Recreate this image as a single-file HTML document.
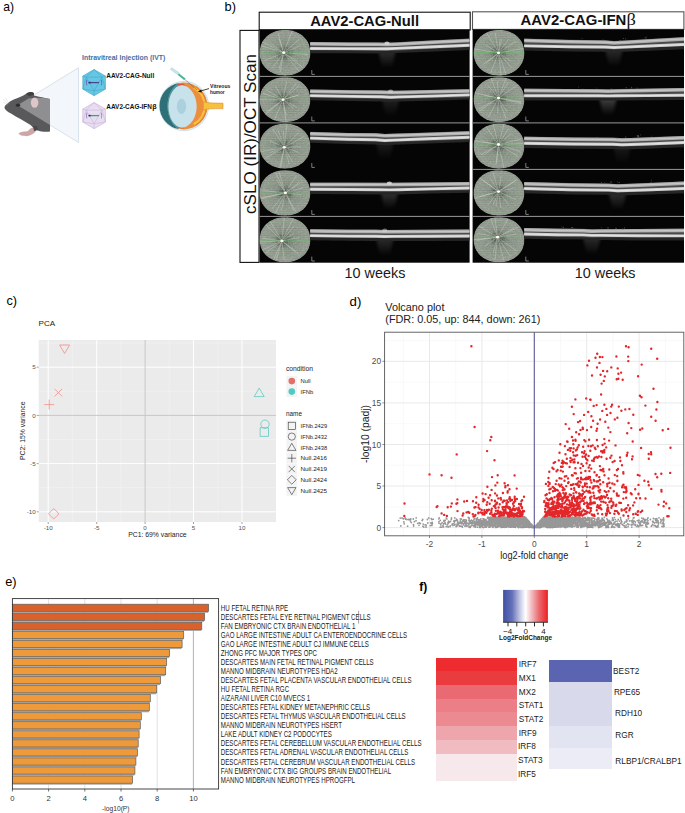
<!DOCTYPE html>
<html><head><meta charset="utf-8"><style>html,body{margin:0;padding:0;background:#fff;width:685px;height:813px;overflow:hidden}svg{display:block}</style></head>
<body><svg width="685" height="813" viewBox="0 0 685 813" font-family="Liberation Sans, sans-serif"><text x="3.2" y="11.1" font-size="13.5" textLength="10.8" lengthAdjust="spacingAndGlyphs" fill="#000">a)</text>
<text x="224.6" y="10.8" font-size="13.5" textLength="11.4" lengthAdjust="spacingAndGlyphs" fill="#000">b)</text>
<text x="6.4" y="304.6" font-size="13.5" textLength="10.6" lengthAdjust="spacingAndGlyphs" fill="#000">c)</text>
<text x="349.6" y="306.3" font-size="13.5" textLength="11.8" lengthAdjust="spacingAndGlyphs" fill="#000">d)</text>
<text x="5.2" y="586.2" font-size="13.5" textLength="11.4" lengthAdjust="spacingAndGlyphs" fill="#000">e)</text>
<text x="419.2" y="591.4" font-size="13" font-weight="bold" textLength="8" lengthAdjust="spacingAndGlyphs" fill="#000">f)</text>
<polygon points="17.5,105.2 78.6,67.6 78.6,142.6" fill="#f3f6fa" stroke="#c3d0dd" stroke-width="0.6"/>
<path d="M4.4,107.4 C5.5,103.5 12,100 20,97 C24,95.2 27,93 30,92.4 C33,92 34.5,93.5 34,95.6 C39,97 45,98 50,99 L50,131.6 C46,132.2 41,131.8 37,130.2 C34.5,129 32.5,127 30.5,125 C25,121.5 17,117.5 11,113.6 C7.5,111.6 5,110 4.4,107.4 Z" fill="#59585b"/>
<path d="M17.5,105.2 L28.5,98.4 C36,97.2 44,98 50,99 L50,124.9 Z" fill="#8f8f92"/>
<ellipse cx="18" cy="105.2" rx="2.2" ry="1.6" fill="#2d2c2e"/>
<ellipse cx="34.6" cy="102.6" rx="3.8" ry="5.2" fill="#dcc6c9"/>
<path d="M26,94 C28,91.8 32,91.5 34,93 C34.5,94.5 32,95.5 29,96 Z" fill="#3f3e41"/>
<path d="M18.5,133.2 C20,131.8 24,131.6 27.5,131.2 L30.5,128.6 L33.5,127.2 L36.8,128.8 L35.5,131.8 C33.5,133.8 30.5,135.6 27,136.2 L24,135.8 C22,135.9 19.5,135.2 18.5,133.2 Z" fill="#cda6a8"/>
<path d="M33,126 L37,126 L38,130 L34,131 Z" fill="#48474a"/>
<path d="M3.5,99 L8,104 M5.5,98 L9,103.5 M3,102 L7.5,105" stroke="#cfcfcf" stroke-width="0.4"/>
<polygon points="94.1,69.5 105.4,76.0 105.4,89.1 94.1,95.7 82.8,89.1 82.8,76.0" fill="#65c7e3" stroke="#49acd0" stroke-width="0.7"/>
<path d="M94.1 69.5L86.2 77.1M94.1 69.5L102.0 77.1M86.2 77.1L102.0 77.1M82.8 76.0L86.2 77.1M105.4 76.0L102.0 77.1M86.2 77.1L94.1 90.7M102.0 77.1L94.1 90.7M86.2 77.1L82.8 89.1M102.0 77.1L105.4 89.1M94.1 90.7L94.1 95.7M94.1 90.7L82.8 89.1M94.1 90.7L105.4 89.1" stroke="#3e9cc0" stroke-width="0.45" fill="none"/>
<path d="M86.9 79.8q-1 2.8 0 5.6M101.3 79.8q1 2.8 0 5.6" stroke="#6a70b8" stroke-width="1.1" fill="none"/>
<line x1="88.6" y1="82.6" x2="99.1" y2="82.6" stroke="#4b4596" stroke-width="1.3"/>
<line x1="88.6" y1="82.6" x2="90.6" y2="82.6" stroke="#2a2f70" stroke-width="1.5"/>
<polygon points="94.1,102.5 105.4,109.0 105.4,122.1 94.1,128.7 82.8,122.1 82.8,109.0" fill="#e9ddf0" stroke="#cdb9e0" stroke-width="0.7"/>
<path d="M94.1 102.5L86.2 110.1M94.1 102.5L102.0 110.1M86.2 110.1L102.0 110.1M82.8 109.0L86.2 110.1M105.4 109.0L102.0 110.1M86.2 110.1L94.1 123.7M102.0 110.1L94.1 123.7M86.2 110.1L82.8 122.1M102.0 110.1L105.4 122.1M94.1 123.7L94.1 128.7M94.1 123.7L82.8 122.1M94.1 123.7L105.4 122.1" stroke="#bda8d6" stroke-width="0.45" fill="none"/>
<path d="M86.9 112.8q-1 2.8 0 5.6M101.3 112.8q1 2.8 0 5.6" stroke="#a08cc8" stroke-width="1.1" fill="none"/>
<line x1="88.6" y1="115.6" x2="99.1" y2="115.6" stroke="#3a9f98" stroke-width="1.3"/>
<line x1="88.6" y1="115.6" x2="90.6" y2="115.6" stroke="#222a58" stroke-width="1.5"/>
<text x="82.0" y="60.1" font-size="7.4" font-weight="bold" fill="#46709f" textLength="83.4" lengthAdjust="spacingAndGlyphs">Intravitreal Injection (IVT)</text>
<text x="106.3" y="78.0" font-size="6.7" font-weight="bold" textLength="47.9" lengthAdjust="spacingAndGlyphs" fill="#111">AAV2-CAG-Null</text>
<text x="106.3" y="108.6" font-size="6.7" font-weight="bold" textLength="45.6" lengthAdjust="spacingAndGlyphs" fill="#111">AAV2-CAG-IFN</text>
<text x="152.2" y="108.6" font-size="7.2" font-family="Liberation Sans, sans-serif" font-weight="bold" fill="#111">&#946;</text>
<circle cx="184" cy="106" r="24.7" fill="#dcedf3" stroke="#b8d6e0" stroke-width="0.6"/>
<circle cx="184" cy="106" r="23.4" fill="#ec8e3c"/>
<path d="M193.7,87.8 A20.6,20.6 0 0 1 193.7,124.2" stroke="#f6c23c" stroke-width="2.2" fill="none"/>
<path d="M196.0,86.8 A22.6,22.6 0 0 1 196.0,125.2" stroke="#e6703a" stroke-width="0.7" fill="none"/>
<path d="M179.2,82.9 A23.4,23.4 0 0 0 179.2,129.1 C172,125 167.6,116 167.5,106 C167.6,96 172,87 179.2,82.9 Z" fill="#2e6f78"/>
<path d="M177.5,85 C171.5,89.5 168.6,97 168.5,106 C168.6,115 171.5,122.5 177.5,127" stroke="#4b979d" stroke-width="2.2" fill="none"/>
<path d="M177,84.2 L183,83.4 L186.5,86.6 L181,88.6 Z" fill="#e14f3d"/>
<path d="M177,127.8 L183,128.6 L186.5,125.4 L181,123.4 Z" fill="#e14f3d"/>
<path d="M182,85.1 C190,86 196.5,95 196.7,106.4 C196.5,118 190,127 182,127.7 C174,127 168.6,118 168.4,106.4 C168.6,95 174,86 182,85.1 Z" fill="#c8e2ec"/>
<ellipse cx="181.5" cy="106.3" rx="4.7" ry="7.6" fill="#abd0de"/>
<path d="M203.5,101.6 C207,103 212,103.2 223,103.2 L223,108.6 C212,108.6 207,108.8 203.5,110.2 Z" fill="#f5c23c" stroke="#e8903a" stroke-width="0.7"/>
<path d="M171.6,67.6 L179.5,73 L178,75 L170.5,69.5 Z" fill="#c9e6ef" stroke="#9cc6d6" stroke-width="0.4"/>
<path d="M179,73.4 L185.5,78.6 L184.3,80.3 L177.8,75 Z" fill="#4cb59a"/>
<line x1="185" y1="79.5" x2="197" y2="90" stroke="#555" stroke-width="0.5"/>
<line x1="209" y1="88.6" x2="200" y2="91.2" stroke="#111" stroke-width="0.8"/>
<path d="M197.8,91.8 L201.2,89.4 L201.8,92.6 Z" fill="#111"/>
<text x="210.1" y="87.6" font-size="5.0" font-weight="bold" textLength="20.3" lengthAdjust="spacingAndGlyphs" fill="#222">Vitreous</text>
<text x="210.1" y="94.0" font-size="5.0" font-weight="bold" textLength="14.6" lengthAdjust="spacingAndGlyphs" fill="#222">humor</text>
<defs>
<filter id="blur07" x="-5%" y="-50%" width="110%" height="200%"><feGaussianBlur stdDeviation="0.75"/></filter>
<filter id="blur06" x="-5%" y="-50%" width="110%" height="200%"><feGaussianBlur stdDeviation="0.55"/></filter>
<filter id="fnoise" x="0" y="0" width="100%" height="100%" filterUnits="objectBoundingBox"><feTurbulence type="fractalNoise" baseFrequency="0.6" numOctaves="2" seed="5" result="t"/><feColorMatrix type="matrix" values="0 0 0 0 0.5  0 0 0 0 0.5  0 0 0 0 0.5  1.6 0 0 0 -0.55"/></filter>
<filter id="blur15" x="-50%" y="-50%" width="200%" height="200%"><feGaussianBlur stdDeviation="1.6"/></filter>
<filter id="blur1" x="-50%" y="-50%" width="200%" height="200%"><feGaussianBlur stdDeviation="1.2"/></filter>
<filter id="blur3" x="-50%" y="-50%" width="200%" height="200%"><feGaussianBlur stdDeviation="3"/></filter>
<radialGradient id="fund" cx="50%" cy="50%" r="55%">
 <stop offset="0" stop-color="#5f695d"/><stop offset="0.35" stop-color="#859083"/><stop offset="0.8" stop-color="#949e91"/><stop offset="1" stop-color="#858d82"/>
</radialGradient>
<linearGradient id="glowv" x1="0" y1="0" x2="0" y2="1"><stop offset="0" stop-color="#5a5a5a"/><stop offset="1" stop-color="#5a5a5a" stop-opacity="0"/></linearGradient>
<radialGradient id="glow" cx="50%" cy="30%" r="60%">
 <stop offset="0" stop-color="#9a9a9a" stop-opacity="0.9"/><stop offset="1" stop-color="#9a9a9a" stop-opacity="0"/>
</radialGradient>
</defs>
<rect x="259.2" y="12.2" width="211.0" height="17.8" fill="#fff" stroke="#111" stroke-width="1.1"/>
<rect x="472.5" y="11.8" width="211.4" height="17.6" fill="#fff" stroke="#555" stroke-width="1.1"/>
<text x="310.2" y="26.0" font-size="14" font-weight="bold" textLength="108.8" lengthAdjust="spacingAndGlyphs" fill="#111">AAV2-CAG-Null</text>
<text x="520.6" y="24.9" font-size="14" font-weight="bold" textLength="105.8" lengthAdjust="spacingAndGlyphs" fill="#111">AAV2-CAG-IFN</text>
<text x="626.6" y="24.9" font-size="16" font-family="Liberation Serif, serif" fill="#111" textLength="9.4" lengthAdjust="spacingAndGlyphs">&#946;</text>
<rect x="240.0" y="30.4" width="19.0" height="232.0" fill="#fff" stroke="#111" stroke-width="1.1"/>
<text transform="translate(255.9,213.9) rotate(-90)" font-size="17.2" fill="#111" textLength="159.8" lengthAdjust="spacingAndGlyphs">cSLO (IR)/OCT Scan</text>
<rect x="259.6" y="29.4" width="210.0" height="233.3" fill="#050505"/>
<clipPath id="fc00"><path d="M310.4 52.8 L310.3 55.4 L309.9 57.7 L309.4 59.9 L308.6 62.1 L307.6 64.1 L306.3 66.0 L304.9 67.7 L303.3 69.3 L301.5 70.8 L299.6 72.0 L297.5 73.1 L295.3 74.1 L292.9 74.8 L290.4 75.3 L287.8 75.6 L285.0 75.7 L282.2 75.6 L279.6 75.3 L277.1 74.8 L274.7 74.1 L272.5 73.1 L270.4 72.0 L268.5 70.8 L266.7 69.3 L265.1 67.7 L263.7 66.0 L262.4 64.1 L261.4 62.1 L260.6 59.9 L260.1 57.7 L259.7 55.4 L259.6 52.8 L259.7 50.2 L260.1 47.9 L260.6 45.7 L261.4 43.5 L262.4 41.5 L263.7 39.6 L265.1 37.9 L266.7 36.3 L268.5 34.8 L270.4 33.6 L272.5 32.5 L274.7 31.5 L277.1 30.8 L279.6 30.3 L282.2 30.0 L285.0 29.9 L287.8 30.0 L290.4 30.3 L292.9 30.8 L295.3 31.5 L297.5 32.5 L299.6 33.6 L301.5 34.8 L303.3 36.3 L304.9 37.9 L306.3 39.6 L307.6 41.5 L308.6 43.5 L309.4 45.7 L309.9 47.9 L310.3 50.2Z"/></clipPath>
<g clip-path="url(#fc00)"><g>
<path d="M310.4 52.8 L310.3 55.4 L309.9 57.7 L309.4 59.9 L308.6 62.1 L307.6 64.1 L306.3 66.0 L304.9 67.7 L303.3 69.3 L301.5 70.8 L299.6 72.0 L297.5 73.1 L295.3 74.1 L292.9 74.8 L290.4 75.3 L287.8 75.6 L285.0 75.7 L282.2 75.6 L279.6 75.3 L277.1 74.8 L274.7 74.1 L272.5 73.1 L270.4 72.0 L268.5 70.8 L266.7 69.3 L265.1 67.7 L263.7 66.0 L262.4 64.1 L261.4 62.1 L260.6 59.9 L260.1 57.7 L259.7 55.4 L259.6 52.8 L259.7 50.2 L260.1 47.9 L260.6 45.7 L261.4 43.5 L262.4 41.5 L263.7 39.6 L265.1 37.9 L266.7 36.3 L268.5 34.8 L270.4 33.6 L272.5 32.5 L274.7 31.5 L277.1 30.8 L279.6 30.3 L282.2 30.0 L285.0 29.9 L287.8 30.0 L290.4 30.3 L292.9 30.8 L295.3 31.5 L297.5 32.5 L299.6 33.6 L301.5 34.8 L303.3 36.3 L304.9 37.9 L306.3 39.6 L307.6 41.5 L308.6 43.5 L309.4 45.7 L309.9 47.9 L310.3 50.2Z" fill="url(#fund)"/>
<ellipse cx="283.7" cy="52.7" rx="7" ry="6" fill="#3e463c" opacity="0.45" filter="url(#blur15)"/>
<path d="M285.7 52.8L308.4 54.6M285.4 53.8L297.9 61.5M285.3 53.9L303.0 67.8M285.0 54.2L298.9 71.1M283.3 54.7L280.2 72.0M283.2 54.6L279.0 69.4M282.5 54.3L272.2 68.2M281.9 53.5L264.6 60.5M281.8 52.1L261.2 45.8M281.9 51.8L260.6 41.1M282.1 51.5L270.7 43.5M283.1 50.8L279.1 38.9M283.1 50.8L278.2 33.3M284.4 50.8L292.8 29.4M285.2 51.4L299.0 39.6M285.5 51.9L299.4 46.2" stroke="#f4f8f0" stroke-width="0.55" opacity="0.6" fill="none"/>
<path d="M259.3 30.8H310.7M259.3 35.4H310.7M259.3 40.0H310.7M259.3 44.6H310.7M259.3 49.2H310.7M259.3 53.8H310.7M259.3 58.4H310.7M259.3 63.0H310.7M259.3 67.6H310.7M259.3 72.2H310.7" stroke="#74d474" stroke-width="0.5" opacity="0.3"/>
<path d="M259.3 31.9H310.7M259.3 36.5H310.7M259.3 41.1H310.7M259.3 45.7H310.7M259.3 50.3H310.7M259.3 54.9H310.7M259.3 59.5H310.7M259.3 64.1H310.7M259.3 68.7H310.7M259.3 73.4H310.7" stroke="#3a3a3a" stroke-width="0.5" opacity="0.2"/>
<path d="M259.3 33.1H310.7M259.3 37.7H310.7M259.3 42.3H310.7M259.3 46.9H310.7M259.3 51.5H310.7M259.3 56.1H310.7M259.3 60.7H310.7M259.3 65.3H310.7M259.3 69.9H310.7M259.3 74.5H310.7" stroke="#d49cae" stroke-width="0.5" opacity="0.22"/>
<path d="M259.3 34.2H310.7M259.3 38.8H310.7M259.3 43.4H310.7M259.3 48.0H310.7M259.3 52.6H310.7M259.3 57.2H310.7M259.3 61.8H310.7M259.3 66.4H310.7M259.3 71.0H310.7M259.3 75.7H310.7" stroke="#3a3a3a" stroke-width="0.5" opacity="0.2"/>
<line x1="259.3" y1="52.7" x2="310.7" y2="52.7" stroke="#4ed24e" stroke-width="0.8" opacity="0.45"/>
<rect x="259.0" y="29.6" width="52" height="46.4" filter="url(#fnoise)" opacity="0.5"/>
<ellipse cx="283.7" cy="52.7" rx="1.7" ry="1.4" fill="#fbfbf0"/>
</g></g>
<path d="M378.0 49.3H396.0L392.0 67.8H382.0Z" fill="url(#glowv)" opacity="0.55" filter="url(#blur15)"/>
<g filter="url(#blur07)" fill="none" stroke-linejoin="round">
<path d="M310.2 48.5 L348.6 48.6 L378.0 48.7 L387.0 48.8 L396.0 48.4 L428.2 47.0 L469.5 45.2" stroke="#262626" stroke-width="5" transform="translate(0,2.2)"/>
<path d="M310.2 43.8 L348.6 44.2 L378.0 44.3 L387.0 44.6 L396.0 44.2 L428.2 42.5 L469.5 40.5" stroke="#4a4a4a" stroke-width="8.4" transform="translate(0,2.3)"/>
<path d="M310.2 43.8 L348.6 44.2 L378.0 44.3 L387.0 44.6 L396.0 44.2 L428.2 42.5 L469.5 40.5" stroke="#acacac" stroke-width="3.5"/>
<path d="M310.2 43.8 L348.6 44.2 L378.0 44.3 L387.0 44.6 L396.0 44.2 L428.2 42.5 L469.5 40.5" stroke="#c6c6c6" stroke-width="1.3"/>
<path d="M310.2 48.5 L348.6 48.6 L378.0 48.7 L387.0 48.8 L396.0 48.4 L428.2 47.0 L469.5 45.2" stroke="#cecece" stroke-width="2.9"/>
<path d="M310.2 48.5 L348.6 48.6 L378.0 48.7 L387.0 48.8 L396.0 48.4 L428.2 47.0 L469.5 45.2" stroke="#e2e2e2" stroke-width="1.1"/>
</g>
<ellipse cx="387.0" cy="43.0" rx="2.6" ry="1.6" fill="#e0e0e0" opacity="0.80" filter="url(#blur06)"/>
<path d="M311.8 70.0V74.4h3" stroke="#b0b0b0" stroke-width="0.7" fill="none"/>
<clipPath id="fc01"><path d="M310.4 99.7 L310.3 102.2 L309.9 104.5 L309.4 106.7 L308.6 108.8 L307.6 110.8 L306.3 112.6 L304.9 114.3 L303.3 115.9 L301.5 117.3 L299.6 118.6 L297.5 119.7 L295.3 120.6 L292.9 121.3 L290.4 121.8 L287.8 122.1 L285.0 122.2 L282.2 122.1 L279.6 121.8 L277.1 121.3 L274.7 120.6 L272.5 119.7 L270.4 118.6 L268.5 117.3 L266.7 115.9 L265.1 114.3 L263.7 112.6 L262.4 110.8 L261.4 108.8 L260.6 106.7 L260.1 104.5 L259.7 102.2 L259.6 99.7 L259.7 97.2 L260.1 94.9 L260.6 92.7 L261.4 90.6 L262.4 88.6 L263.7 86.8 L265.1 85.1 L266.7 83.5 L268.5 82.1 L270.4 80.8 L272.5 79.7 L274.7 78.8 L277.1 78.1 L279.6 77.6 L282.2 77.3 L285.0 77.2 L287.8 77.3 L290.4 77.6 L292.9 78.1 L295.3 78.8 L297.5 79.7 L299.6 80.8 L301.5 82.1 L303.3 83.5 L304.9 85.1 L306.3 86.8 L307.6 88.6 L308.6 90.6 L309.4 92.7 L309.9 94.9 L310.3 97.2Z"/></clipPath>
<g clip-path="url(#fc01)"><g>
<path d="M310.4 99.7 L310.3 102.2 L309.9 104.5 L309.4 106.7 L308.6 108.8 L307.6 110.8 L306.3 112.6 L304.9 114.3 L303.3 115.9 L301.5 117.3 L299.6 118.6 L297.5 119.7 L295.3 120.6 L292.9 121.3 L290.4 121.8 L287.8 122.1 L285.0 122.2 L282.2 122.1 L279.6 121.8 L277.1 121.3 L274.7 120.6 L272.5 119.7 L270.4 118.6 L268.5 117.3 L266.7 115.9 L265.1 114.3 L263.7 112.6 L262.4 110.8 L261.4 108.8 L260.6 106.7 L260.1 104.5 L259.7 102.2 L259.6 99.7 L259.7 97.2 L260.1 94.9 L260.6 92.7 L261.4 90.6 L262.4 88.6 L263.7 86.8 L265.1 85.1 L266.7 83.5 L268.5 82.1 L270.4 80.8 L272.5 79.7 L274.7 78.8 L277.1 78.1 L279.6 77.6 L282.2 77.3 L285.0 77.2 L287.8 77.3 L290.4 77.6 L292.9 78.1 L295.3 78.8 L297.5 79.7 L299.6 80.8 L301.5 82.1 L303.3 83.5 L304.9 85.1 L306.3 86.8 L307.6 88.6 L308.6 90.6 L309.4 92.7 L309.9 94.9 L310.3 97.2Z" fill="url(#fund)"/>
<ellipse cx="283.0" cy="99.7" rx="7" ry="6" fill="#3e463c" opacity="0.45" filter="url(#blur15)"/>
<path d="M284.9 99.1L298.6 95.0M284.7 100.7L297.3 107.7M284.5 101.0L293.7 108.8M283.4 101.7L286.1 115.3M283.3 101.7L286.4 124.0M282.2 101.5L273.6 122.0M281.5 101.0L265.5 114.5M281.4 100.9L266.5 111.9M281.0 99.7L258.5 99.6M281.1 99.1L262.8 93.3M281.3 98.7L266.8 90.4M282.0 97.9L275.4 85.8M283.4 97.7L286.5 81.5M284.3 98.1L296.3 83.3M284.5 98.4L299.2 85.4M284.9 99.1L298.2 95.2" stroke="#f4f8f0" stroke-width="0.55" opacity="0.6" fill="none"/>
<path d="M259.3 78.1H310.7M259.3 82.7H310.7M259.3 87.3H310.7M259.3 91.9H310.7M259.3 96.5H310.7M259.3 101.1H310.7M259.3 105.7H310.7M259.3 110.3H310.7M259.3 114.9H310.7M259.3 119.5H310.7" stroke="#74d474" stroke-width="0.5" opacity="0.3"/>
<path d="M259.3 79.3H310.7M259.3 83.9H310.7M259.3 88.5H310.7M259.3 93.1H310.7M259.3 97.7H310.7M259.3 102.3H310.7M259.3 106.9H310.7M259.3 111.5H310.7M259.3 116.1H310.7M259.3 120.7H310.7" stroke="#3a3a3a" stroke-width="0.5" opacity="0.2"/>
<path d="M259.3 80.4H310.7M259.3 85.0H310.7M259.3 89.6H310.7M259.3 94.2H310.7M259.3 98.8H310.7M259.3 103.4H310.7M259.3 108.0H310.7M259.3 112.6H310.7M259.3 117.2H310.7M259.3 121.8H310.7" stroke="#d49cae" stroke-width="0.5" opacity="0.22"/>
<path d="M259.3 81.6H310.7M259.3 86.2H310.7M259.3 90.8H310.7M259.3 95.4H310.7M259.3 100.0H310.7M259.3 104.6H310.7M259.3 109.2H310.7M259.3 113.8H310.7M259.3 118.4H310.7" stroke="#3a3a3a" stroke-width="0.5" opacity="0.2"/>
<line x1="259.3" y1="99.7" x2="310.7" y2="99.7" stroke="#4ed24e" stroke-width="0.8" opacity="0.4"/>
<rect x="259.0" y="76.9" width="52" height="45.6" filter="url(#fnoise)" opacity="0.5"/>
<ellipse cx="283.0" cy="99.7" rx="1.7" ry="1.4" fill="#fbfbf0"/>
</g></g>
<path d="M381.6 97.7H399.6L395.6 116.2H385.6Z" fill="url(#glowv)" opacity="0.35" filter="url(#blur15)"/>
<g filter="url(#blur07)" fill="none" stroke-linejoin="round">
<path d="M310.2 95.6 L350.4 96.4 L381.6 96.7 L390.6 97.2 L399.6 96.9 L430.1 96.1 L469.5 94.9" stroke="#262626" stroke-width="5" transform="translate(0,2.2)"/>
<path d="M310.2 91.3 L350.4 91.9 L381.6 92.2 L390.6 92.6 L399.6 92.4 L430.1 91.8 L469.5 90.9" stroke="#4a4a4a" stroke-width="8.4" transform="translate(0,2.3)"/>
<path d="M310.2 91.3 L350.4 91.9 L381.6 92.2 L390.6 92.6 L399.6 92.4 L430.1 91.8 L469.5 90.9" stroke="#acacac" stroke-width="3.5"/>
<path d="M310.2 91.3 L350.4 91.9 L381.6 92.2 L390.6 92.6 L399.6 92.4 L430.1 91.8 L469.5 90.9" stroke="#c6c6c6" stroke-width="1.3"/>
<path d="M310.2 95.6 L350.4 96.4 L381.6 96.7 L390.6 97.2 L399.6 96.9 L430.1 96.1 L469.5 94.9" stroke="#cecece" stroke-width="2.9"/>
<path d="M310.2 95.6 L350.4 96.4 L381.6 96.7 L390.6 97.2 L399.6 96.9 L430.1 96.1 L469.5 94.9" stroke="#e2e2e2" stroke-width="1.1"/>
</g>
<ellipse cx="390.6" cy="91.0" rx="2.6" ry="1.6" fill="#e0e0e0" opacity="0.56" filter="url(#blur06)"/>
<path d="M311.8 116.5V120.9h3" stroke="#b0b0b0" stroke-width="0.7" fill="none"/>
<clipPath id="fc02"><path d="M310.4 146.2 L310.3 148.7 L309.9 151.0 L309.4 153.2 L308.6 155.3 L307.6 157.2 L306.3 159.1 L304.9 160.8 L303.3 162.4 L301.5 163.8 L299.6 165.1 L297.5 166.2 L295.3 167.1 L292.9 167.8 L290.4 168.3 L287.8 168.6 L285.0 168.7 L282.2 168.6 L279.6 168.3 L277.1 167.8 L274.7 167.1 L272.5 166.2 L270.4 165.1 L268.5 163.8 L266.7 162.4 L265.1 160.8 L263.7 159.1 L262.4 157.2 L261.4 155.3 L260.6 153.2 L260.1 151.0 L259.7 148.7 L259.6 146.2 L259.7 143.6 L260.1 141.3 L260.6 139.1 L261.4 137.0 L262.4 135.1 L263.7 133.2 L265.1 131.5 L266.7 129.9 L268.5 128.5 L270.4 127.2 L272.5 126.1 L274.7 125.2 L277.1 124.5 L279.6 124.0 L282.2 123.7 L285.0 123.6 L287.8 123.7 L290.4 124.0 L292.9 124.5 L295.3 125.2 L297.5 126.1 L299.6 127.2 L301.5 128.5 L303.3 129.9 L304.9 131.5 L306.3 133.2 L307.6 135.1 L308.6 137.0 L309.4 139.1 L309.9 141.3 L310.3 143.6Z"/></clipPath>
<g clip-path="url(#fc02)"><g>
<path d="M310.4 146.2 L310.3 148.7 L309.9 151.0 L309.4 153.2 L308.6 155.3 L307.6 157.2 L306.3 159.1 L304.9 160.8 L303.3 162.4 L301.5 163.8 L299.6 165.1 L297.5 166.2 L295.3 167.1 L292.9 167.8 L290.4 168.3 L287.8 168.6 L285.0 168.7 L282.2 168.6 L279.6 168.3 L277.1 167.8 L274.7 167.1 L272.5 166.2 L270.4 165.1 L268.5 163.8 L266.7 162.4 L265.1 160.8 L263.7 159.1 L262.4 157.2 L261.4 155.3 L260.6 153.2 L260.1 151.0 L259.7 148.7 L259.6 146.2 L259.7 143.6 L260.1 141.3 L260.6 139.1 L261.4 137.0 L262.4 135.1 L263.7 133.2 L265.1 131.5 L266.7 129.9 L268.5 128.5 L270.4 127.2 L272.5 126.1 L274.7 125.2 L277.1 124.5 L279.6 124.0 L282.2 123.7 L285.0 123.6 L287.8 123.7 L290.4 124.0 L292.9 124.5 L295.3 125.2 L297.5 126.1 L299.6 127.2 L301.5 128.5 L303.3 129.9 L304.9 131.5 L306.3 133.2 L307.6 135.1 L308.6 137.0 L309.4 139.1 L309.9 141.3 L310.3 143.6Z" fill="url(#fund)"/>
<ellipse cx="284.3" cy="147.3" rx="7" ry="6" fill="#3e463c" opacity="0.45" filter="url(#blur15)"/>
<path d="M286.3 147.2L301.2 146.7M286.2 148.0L298.6 152.3M285.3 149.1L292.3 161.8M284.9 149.2L289.3 164.2M283.9 149.2L279.4 168.7M284.0 149.3L280.2 171.1M282.6 148.3L262.7 159.6M282.4 148.0L269.5 152.7M282.3 147.7L259.6 151.9M282.5 146.5L269.6 140.6M283.2 145.6L272.9 128.9M283.6 145.4L277.9 129.9M284.2 145.3L283.4 130.5M284.5 145.3L287.1 122.9M285.7 145.9L298.6 132.5M286.1 146.3L304.5 136.3" stroke="#f4f8f0" stroke-width="0.55" opacity="0.6" fill="none"/>
<path d="M259.3 124.5H310.7M259.3 129.1H310.7M259.3 133.7H310.7M259.3 138.3H310.7M259.3 142.9H310.7M259.3 147.5H310.7M259.3 152.1H310.7M259.3 156.7H310.7M259.3 161.3H310.7M259.3 165.9H310.7" stroke="#74d474" stroke-width="0.5" opacity="0.3"/>
<path d="M259.3 125.7H310.7M259.3 130.3H310.7M259.3 134.9H310.7M259.3 139.5H310.7M259.3 144.1H310.7M259.3 148.7H310.7M259.3 153.3H310.7M259.3 157.9H310.7M259.3 162.5H310.7M259.3 167.1H310.7" stroke="#3a3a3a" stroke-width="0.5" opacity="0.2"/>
<path d="M259.3 126.8H310.7M259.3 131.4H310.7M259.3 136.0H310.7M259.3 140.6H310.7M259.3 145.2H310.7M259.3 149.8H310.7M259.3 154.4H310.7M259.3 159.0H310.7M259.3 163.6H310.7M259.3 168.2H310.7" stroke="#d49cae" stroke-width="0.5" opacity="0.22"/>
<path d="M259.3 128.0H310.7M259.3 132.6H310.7M259.3 137.2H310.7M259.3 141.8H310.7M259.3 146.4H310.7M259.3 151.0H310.7M259.3 155.6H310.7M259.3 160.2H310.7M259.3 164.8H310.7" stroke="#3a3a3a" stroke-width="0.5" opacity="0.2"/>
<line x1="259.3" y1="147.3" x2="310.7" y2="147.3" stroke="#4ed24e" stroke-width="0.8" opacity="0.55"/>
<rect x="259.0" y="123.3" width="52" height="45.7" filter="url(#fnoise)" opacity="0.5"/>
<ellipse cx="284.3" cy="147.3" rx="1.7" ry="1.4" fill="#fbfbf0"/>
</g></g>
<path d="M375.8 141.0H393.8L389.8 159.5H379.8Z" fill="url(#glowv)" opacity="0.3" filter="url(#blur15)"/>
<g filter="url(#blur07)" fill="none" stroke-linejoin="round">
<path d="M310.2 138.1 L347.5 139.3 L375.8 139.7 L384.8 140.5 L393.8 140.1 L427.1 138.8 L469.5 137.2" stroke="#262626" stroke-width="5" transform="translate(0,2.2)"/>
<path d="M310.2 133.7 L347.5 134.8 L375.8 135.1 L384.8 135.8 L393.8 135.5 L427.1 134.4 L469.5 133.0" stroke="#4a4a4a" stroke-width="8.4" transform="translate(0,2.3)"/>
<path d="M310.2 133.7 L347.5 134.8 L375.8 135.1 L384.8 135.8 L393.8 135.5 L427.1 134.4 L469.5 133.0" stroke="#acacac" stroke-width="3.5"/>
<path d="M310.2 133.7 L347.5 134.8 L375.8 135.1 L384.8 135.8 L393.8 135.5 L427.1 134.4 L469.5 133.0" stroke="#c6c6c6" stroke-width="1.3"/>
<path d="M310.2 138.1 L347.5 139.3 L375.8 139.7 L384.8 140.5 L393.8 140.1 L427.1 138.8 L469.5 137.2" stroke="#cecece" stroke-width="2.9"/>
<path d="M310.2 138.1 L347.5 139.3 L375.8 139.7 L384.8 140.5 L393.8 140.1 L427.1 138.8 L469.5 137.2" stroke="#e2e2e2" stroke-width="1.1"/>
</g>
<path d="M311.8 163.0V167.4h3" stroke="#b0b0b0" stroke-width="0.7" fill="none"/>
<clipPath id="fc03"><path d="M310.4 192.9 L310.3 195.5 L309.9 197.8 L309.4 200.0 L308.6 202.1 L307.6 204.1 L306.3 206.0 L304.9 207.8 L303.3 209.4 L301.5 210.8 L299.6 212.1 L297.5 213.2 L295.3 214.1 L292.9 214.8 L290.4 215.3 L287.8 215.6 L285.0 215.7 L282.2 215.6 L279.6 215.3 L277.1 214.8 L274.7 214.1 L272.5 213.2 L270.4 212.1 L268.5 210.8 L266.7 209.4 L265.1 207.8 L263.7 206.0 L262.4 204.1 L261.4 202.1 L260.6 200.0 L260.1 197.8 L259.7 195.5 L259.6 193.0 L259.7 190.4 L260.1 188.1 L260.6 185.9 L261.4 183.8 L262.4 181.8 L263.7 179.9 L265.1 178.1 L266.7 176.5 L268.5 175.1 L270.4 173.8 L272.5 172.7 L274.7 171.8 L277.1 171.1 L279.6 170.6 L282.2 170.3 L285.0 170.2 L287.8 170.3 L290.4 170.6 L292.9 171.1 L295.3 171.8 L297.5 172.7 L299.6 173.8 L301.5 175.1 L303.3 176.5 L304.9 178.1 L306.3 179.9 L307.6 181.8 L308.6 183.8 L309.4 185.9 L309.9 188.1 L310.3 190.4Z"/></clipPath>
<g clip-path="url(#fc03)"><g>
<path d="M310.4 192.9 L310.3 195.5 L309.9 197.8 L309.4 200.0 L308.6 202.1 L307.6 204.1 L306.3 206.0 L304.9 207.8 L303.3 209.4 L301.5 210.8 L299.6 212.1 L297.5 213.2 L295.3 214.1 L292.9 214.8 L290.4 215.3 L287.8 215.6 L285.0 215.7 L282.2 215.6 L279.6 215.3 L277.1 214.8 L274.7 214.1 L272.5 213.2 L270.4 212.1 L268.5 210.8 L266.7 209.4 L265.1 207.8 L263.7 206.0 L262.4 204.1 L261.4 202.1 L260.6 200.0 L260.1 197.8 L259.7 195.5 L259.6 193.0 L259.7 190.4 L260.1 188.1 L260.6 185.9 L261.4 183.8 L262.4 181.8 L263.7 179.9 L265.1 178.1 L266.7 176.5 L268.5 175.1 L270.4 173.8 L272.5 172.7 L274.7 171.8 L277.1 171.1 L279.6 170.6 L282.2 170.3 L285.0 170.2 L287.8 170.3 L290.4 170.6 L292.9 171.1 L295.3 171.8 L297.5 172.7 L299.6 173.8 L301.5 175.1 L303.3 176.5 L304.9 178.1 L306.3 179.9 L307.6 181.8 L308.6 183.8 L309.4 185.9 L309.9 188.1 L310.3 190.4Z" fill="url(#fund)"/>
<ellipse cx="285.4" cy="192.8" rx="7" ry="6" fill="#3e463c" opacity="0.45" filter="url(#blur15)"/>
<path d="M287.3 192.2L303.1 187.6M287.4 193.0L300.8 194.5M286.4 194.6L296.0 212.0M286.2 194.6L294.0 211.2M285.0 194.8L281.4 210.5M284.5 194.6L275.8 212.8M284.1 194.3L272.4 208.3M283.5 193.3L261.2 198.6M283.4 193.2L260.7 198.0M283.4 192.6L262.5 190.6M284.3 191.1L276.6 179.9M284.5 191.0L275.2 171.3M284.8 190.9L279.2 172.2M286.5 191.1L296.3 175.8M287.0 191.6L298.7 182.7M287.1 191.7L300.8 182.8" stroke="#f4f8f0" stroke-width="0.55" opacity="0.6" fill="none"/>
<path d="M259.3 171.1H310.7M259.3 175.7H310.7M259.3 180.3H310.7M259.3 184.9H310.7M259.3 189.5H310.7M259.3 194.1H310.7M259.3 198.7H310.7M259.3 203.3H310.7M259.3 207.9H310.7M259.3 212.5H310.7" stroke="#74d474" stroke-width="0.5" opacity="0.3"/>
<path d="M259.3 172.2H310.7M259.3 176.9H310.7M259.3 181.5H310.7M259.3 186.1H310.7M259.3 190.7H310.7M259.3 195.3H310.7M259.3 199.9H310.7M259.3 204.5H310.7M259.3 209.1H310.7M259.3 213.7H310.7" stroke="#3a3a3a" stroke-width="0.5" opacity="0.2"/>
<path d="M259.3 173.4H310.7M259.3 178.0H310.7M259.3 182.6H310.7M259.3 187.2H310.7M259.3 191.8H310.7M259.3 196.4H310.7M259.3 201.0H310.7M259.3 205.6H310.7M259.3 210.2H310.7M259.3 214.8H310.7" stroke="#d49cae" stroke-width="0.5" opacity="0.22"/>
<path d="M259.3 174.6H310.7M259.3 179.2H310.7M259.3 183.8H310.7M259.3 188.4H310.7M259.3 193.0H310.7M259.3 197.6H310.7M259.3 202.2H310.7M259.3 206.8H310.7M259.3 211.4H310.7M259.3 216.0H310.7" stroke="#3a3a3a" stroke-width="0.5" opacity="0.2"/>
<line x1="259.3" y1="192.8" x2="310.7" y2="192.8" stroke="#4ed24e" stroke-width="0.8" opacity="0.3"/>
<rect x="259.0" y="169.9" width="52" height="46.1" filter="url(#fnoise)" opacity="0.5"/>
<ellipse cx="285.4" cy="192.8" rx="1.7" ry="1.4" fill="#fbfbf0"/>
</g></g>
<path d="M380.4 190.4H398.4L394.4 208.9H384.4Z" fill="url(#glowv)" opacity="0.6" filter="url(#blur15)"/>
<g filter="url(#blur07)" fill="none" stroke-linejoin="round">
<path d="M310.2 189.2 L349.8 189.5 L380.4 189.7 L389.4 189.9 L398.4 189.7 L429.4 188.9 L469.5 188.0" stroke="#262626" stroke-width="5" transform="translate(0,2.2)"/>
<path d="M310.2 184.5 L349.8 184.5 L380.4 184.6 L389.4 184.6 L398.4 184.5 L429.4 184.2 L469.5 183.8" stroke="#4a4a4a" stroke-width="8.4" transform="translate(0,2.3)"/>
<path d="M310.2 184.5 L349.8 184.5 L380.4 184.6 L389.4 184.6 L398.4 184.5 L429.4 184.2 L469.5 183.8" stroke="#acacac" stroke-width="3.5"/>
<path d="M310.2 184.5 L349.8 184.5 L380.4 184.6 L389.4 184.6 L398.4 184.5 L429.4 184.2 L469.5 183.8" stroke="#c6c6c6" stroke-width="1.3"/>
<path d="M310.2 189.2 L349.8 189.5 L380.4 189.7 L389.4 189.9 L398.4 189.7 L429.4 188.9 L469.5 188.0" stroke="#cecece" stroke-width="2.9"/>
<path d="M310.2 189.2 L349.8 189.5 L380.4 189.7 L389.4 189.9 L398.4 189.7 L429.4 188.9 L469.5 188.0" stroke="#e2e2e2" stroke-width="1.1"/>
</g>
<ellipse cx="389.4" cy="183.0" rx="2.6" ry="1.6" fill="#e0e0e0" opacity="0.80" filter="url(#blur06)"/>
<path d="M311.8 210.0V214.4h3" stroke="#b0b0b0" stroke-width="0.7" fill="none"/>
<clipPath id="fc04"><path d="M310.4 239.8 L310.3 242.3 L309.9 244.6 L309.4 246.8 L308.6 248.9 L307.6 250.8 L306.3 252.7 L304.9 254.4 L303.3 256.0 L301.5 257.4 L299.6 258.7 L297.5 259.8 L295.3 260.7 L292.9 261.4 L290.4 261.9 L287.8 262.2 L285.0 262.3 L282.2 262.2 L279.6 261.9 L277.1 261.4 L274.7 260.7 L272.5 259.8 L270.4 258.7 L268.5 257.4 L266.7 256.0 L265.1 254.4 L263.7 252.7 L262.4 250.8 L261.4 248.9 L260.6 246.8 L260.1 244.6 L259.7 242.3 L259.6 239.8 L259.7 237.2 L260.1 234.9 L260.6 232.7 L261.4 230.6 L262.4 228.7 L263.7 226.8 L265.1 225.1 L266.7 223.5 L268.5 222.1 L270.4 220.8 L272.5 219.7 L274.7 218.8 L277.1 218.1 L279.6 217.6 L282.2 217.3 L285.0 217.2 L287.8 217.3 L290.4 217.6 L292.9 218.1 L295.3 218.8 L297.5 219.7 L299.6 220.8 L301.5 222.1 L303.3 223.5 L304.9 225.1 L306.3 226.8 L307.6 228.7 L308.6 230.6 L309.4 232.7 L309.9 234.9 L310.3 237.2Z"/></clipPath>
<g clip-path="url(#fc04)"><g>
<path d="M310.4 239.8 L310.3 242.3 L309.9 244.6 L309.4 246.8 L308.6 248.9 L307.6 250.8 L306.3 252.7 L304.9 254.4 L303.3 256.0 L301.5 257.4 L299.6 258.7 L297.5 259.8 L295.3 260.7 L292.9 261.4 L290.4 261.9 L287.8 262.2 L285.0 262.3 L282.2 262.2 L279.6 261.9 L277.1 261.4 L274.7 260.7 L272.5 259.8 L270.4 258.7 L268.5 257.4 L266.7 256.0 L265.1 254.4 L263.7 252.7 L262.4 250.8 L261.4 248.9 L260.6 246.8 L260.1 244.6 L259.7 242.3 L259.6 239.8 L259.7 237.2 L260.1 234.9 L260.6 232.7 L261.4 230.6 L262.4 228.7 L263.7 226.8 L265.1 225.1 L266.7 223.5 L268.5 222.1 L270.4 220.8 L272.5 219.7 L274.7 218.8 L277.1 218.1 L279.6 217.6 L282.2 217.3 L285.0 217.2 L287.8 217.3 L290.4 217.6 L292.9 218.1 L295.3 218.8 L297.5 219.7 L299.6 220.8 L301.5 222.1 L303.3 223.5 L304.9 225.1 L306.3 226.8 L307.6 228.7 L308.6 230.6 L309.4 232.7 L309.9 234.9 L310.3 237.2Z" fill="url(#fund)"/>
<ellipse cx="281.9" cy="240.9" rx="7" ry="6" fill="#3e463c" opacity="0.45" filter="url(#blur15)"/>
<path d="M283.9 240.5L299.7 237.4M283.5 242.1L298.4 253.7M283.4 242.2L295.2 251.9M282.1 242.9L284.2 260.1M281.3 242.8L276.2 260.3M281.1 242.7L272.1 263.7M280.3 242.1L265.1 253.4M280.1 241.7L259.7 251.3M279.9 241.0L256.9 242.2M279.9 240.6L262.9 238.3M280.5 239.5L264.1 222.7M280.9 239.2L269.7 220.6M282.1 238.9L284.3 218.4M282.8 239.1L293.5 218.0M283.2 239.4L293.8 226.4M283.6 239.8L294.2 233.0" stroke="#f4f8f0" stroke-width="0.55" opacity="0.6" fill="none"/>
<path d="M259.3 218.1H310.7M259.3 222.7H310.7M259.3 227.3H310.7M259.3 231.9H310.7M259.3 236.5H310.7M259.3 241.1H310.7M259.3 245.7H310.7M259.3 250.3H310.7M259.3 254.9H310.7M259.3 259.5H310.7" stroke="#74d474" stroke-width="0.5" opacity="0.3"/>
<path d="M259.3 219.2H310.7M259.3 223.9H310.7M259.3 228.5H310.7M259.3 233.1H310.7M259.3 237.7H310.7M259.3 242.3H310.7M259.3 246.9H310.7M259.3 251.5H310.7M259.3 256.1H310.7M259.3 260.7H310.7" stroke="#3a3a3a" stroke-width="0.5" opacity="0.2"/>
<path d="M259.3 220.4H310.7M259.3 225.0H310.7M259.3 229.6H310.7M259.3 234.2H310.7M259.3 238.8H310.7M259.3 243.4H310.7M259.3 248.0H310.7M259.3 252.6H310.7M259.3 257.2H310.7M259.3 261.8H310.7" stroke="#d49cae" stroke-width="0.5" opacity="0.22"/>
<path d="M259.3 221.6H310.7M259.3 226.2H310.7M259.3 230.8H310.7M259.3 235.4H310.7M259.3 240.0H310.7M259.3 244.6H310.7M259.3 249.2H310.7M259.3 253.8H310.7M259.3 258.4H310.7" stroke="#3a3a3a" stroke-width="0.5" opacity="0.2"/>
<line x1="259.3" y1="240.9" x2="310.7" y2="240.9" stroke="#4ed24e" stroke-width="0.8" opacity="0.6"/>
<rect x="259.0" y="216.9" width="52" height="45.7" filter="url(#fnoise)" opacity="0.5"/>
<ellipse cx="281.9" cy="240.9" rx="1.7" ry="1.4" fill="#fbfbf0"/>
</g></g>
<path d="M375.8 237.0H393.8L389.8 255.5H379.8Z" fill="url(#glowv)" opacity="0.5" filter="url(#blur15)"/>
<g filter="url(#blur07)" fill="none" stroke-linejoin="round">
<path d="M310.2 235.6 L347.5 236.1 L375.8 236.2 L384.8 236.5 L393.8 236.4 L427.1 236.2 L469.5 236.0" stroke="#262626" stroke-width="5" transform="translate(0,2.2)"/>
<path d="M310.2 230.9 L347.5 231.4 L375.8 231.5 L384.8 231.8 L393.8 231.7 L427.1 231.6 L469.5 231.3" stroke="#4a4a4a" stroke-width="8.4" transform="translate(0,2.3)"/>
<path d="M310.2 230.9 L347.5 231.4 L375.8 231.5 L384.8 231.8 L393.8 231.7 L427.1 231.6 L469.5 231.3" stroke="#acacac" stroke-width="3.5"/>
<path d="M310.2 230.9 L347.5 231.4 L375.8 231.5 L384.8 231.8 L393.8 231.7 L427.1 231.6 L469.5 231.3" stroke="#c6c6c6" stroke-width="1.3"/>
<path d="M310.2 235.6 L347.5 236.1 L375.8 236.2 L384.8 236.5 L393.8 236.4 L427.1 236.2 L469.5 236.0" stroke="#cecece" stroke-width="2.9"/>
<path d="M310.2 235.6 L347.5 236.1 L375.8 236.2 L384.8 236.5 L393.8 236.4 L427.1 236.2 L469.5 236.0" stroke="#e2e2e2" stroke-width="1.1"/>
</g>
<ellipse cx="384.8" cy="230.2" rx="2.6" ry="1.6" fill="#e0e0e0" opacity="0.48" filter="url(#blur06)"/>
<path d="M311.8 256.6V261.0h3" stroke="#b0b0b0" stroke-width="0.7" fill="none"/>
<line x1="259.6" y1="76.4" x2="469.6" y2="76.4" stroke="#9a9a9a" stroke-width="1"/>
<line x1="259.6" y1="122.9" x2="469.6" y2="122.9" stroke="#9a9a9a" stroke-width="1"/>
<line x1="259.6" y1="216.4" x2="469.6" y2="216.4" stroke="#9a9a9a" stroke-width="1"/>
<rect x="472.6" y="29.4" width="211.4" height="233.3" fill="#050505"/>
<clipPath id="fc10"><path d="M524.4 52.8 L524.3 55.4 L523.9 57.7 L523.4 59.9 L522.6 62.1 L521.6 64.1 L520.3 66.0 L518.9 67.7 L517.3 69.3 L515.5 70.8 L513.6 72.0 L511.5 73.1 L509.3 74.1 L506.9 74.8 L504.4 75.3 L501.8 75.6 L499.0 75.7 L496.2 75.6 L493.6 75.3 L491.1 74.8 L488.7 74.1 L486.5 73.1 L484.4 72.0 L482.5 70.8 L480.7 69.3 L479.1 67.7 L477.7 66.0 L476.4 64.1 L475.4 62.1 L474.6 59.9 L474.1 57.7 L473.7 55.4 L473.6 52.8 L473.7 50.2 L474.1 47.9 L474.6 45.7 L475.4 43.5 L476.4 41.5 L477.7 39.6 L479.1 37.9 L480.7 36.3 L482.5 34.8 L484.4 33.6 L486.5 32.5 L488.7 31.5 L491.1 30.8 L493.6 30.3 L496.2 30.0 L499.0 29.9 L501.8 30.0 L504.4 30.3 L506.9 30.8 L509.3 31.5 L511.5 32.5 L513.6 33.6 L515.5 34.8 L517.3 36.3 L518.9 37.9 L520.3 39.6 L521.6 41.5 L522.6 43.5 L523.4 45.7 L523.9 47.9 L524.3 50.2Z"/></clipPath>
<g clip-path="url(#fc10)"><g>
<path d="M524.4 52.8 L524.3 55.4 L523.9 57.7 L523.4 59.9 L522.6 62.1 L521.6 64.1 L520.3 66.0 L518.9 67.7 L517.3 69.3 L515.5 70.8 L513.6 72.0 L511.5 73.1 L509.3 74.1 L506.9 74.8 L504.4 75.3 L501.8 75.6 L499.0 75.7 L496.2 75.6 L493.6 75.3 L491.1 74.8 L488.7 74.1 L486.5 73.1 L484.4 72.0 L482.5 70.8 L480.7 69.3 L479.1 67.7 L477.7 66.0 L476.4 64.1 L475.4 62.1 L474.6 59.9 L474.1 57.7 L473.7 55.4 L473.6 52.8 L473.7 50.2 L474.1 47.9 L474.6 45.7 L475.4 43.5 L476.4 41.5 L477.7 39.6 L479.1 37.9 L480.7 36.3 L482.5 34.8 L484.4 33.6 L486.5 32.5 L488.7 31.5 L491.1 30.8 L493.6 30.3 L496.2 30.0 L499.0 29.9 L501.8 30.0 L504.4 30.3 L506.9 30.8 L509.3 31.5 L511.5 32.5 L513.6 33.6 L515.5 34.8 L517.3 36.3 L518.9 37.9 L520.3 39.6 L521.6 41.5 L522.6 43.5 L523.4 45.7 L523.9 47.9 L524.3 50.2Z" fill="url(#fund)"/>
<ellipse cx="498.5" cy="52.8" rx="7" ry="6" fill="#3e463c" opacity="0.45" filter="url(#blur15)"/>
<path d="M500.5 52.5L523.1 48.5M500.2 53.9L511.2 61.4M499.8 54.3L511.6 67.6M499.2 54.7L505.7 73.5M498.7 54.8L501.5 78.2M497.8 54.7L490.7 72.9M497.0 54.1L486.1 63.3M496.9 54.0L483.5 64.3M496.5 52.5L475.0 49.0M496.8 51.8L485.3 45.0M497.5 51.1L486.4 32.5M498.2 50.8L495.1 32.8M499.0 50.9L502.1 38.7M498.7 50.8L500.1 38.6M499.7 51.2L508.6 39.1M500.2 51.7L515.9 41.4" stroke="#f4f8f0" stroke-width="0.55" opacity="0.6" fill="none"/>
<path d="M473.3 30.8H524.7M473.3 35.4H524.7M473.3 40.0H524.7M473.3 44.6H524.7M473.3 49.2H524.7M473.3 53.8H524.7M473.3 58.4H524.7M473.3 63.0H524.7M473.3 67.6H524.7M473.3 72.2H524.7" stroke="#74d474" stroke-width="0.5" opacity="0.3"/>
<path d="M473.3 31.9H524.7M473.3 36.5H524.7M473.3 41.1H524.7M473.3 45.7H524.7M473.3 50.3H524.7M473.3 54.9H524.7M473.3 59.5H524.7M473.3 64.1H524.7M473.3 68.7H524.7M473.3 73.4H524.7" stroke="#3a3a3a" stroke-width="0.5" opacity="0.2"/>
<path d="M473.3 33.1H524.7M473.3 37.7H524.7M473.3 42.3H524.7M473.3 46.9H524.7M473.3 51.5H524.7M473.3 56.1H524.7M473.3 60.7H524.7M473.3 65.3H524.7M473.3 69.9H524.7M473.3 74.5H524.7" stroke="#d49cae" stroke-width="0.5" opacity="0.22"/>
<path d="M473.3 34.2H524.7M473.3 38.8H524.7M473.3 43.4H524.7M473.3 48.0H524.7M473.3 52.6H524.7M473.3 57.2H524.7M473.3 61.8H524.7M473.3 66.4H524.7M473.3 71.0H524.7M473.3 75.7H524.7" stroke="#3a3a3a" stroke-width="0.5" opacity="0.2"/>
<line x1="473.3" y1="52.8" x2="524.7" y2="52.8" stroke="#4ed24e" stroke-width="0.8" opacity="0.8"/>
<rect x="473.0" y="29.6" width="52" height="46.4" filter="url(#fnoise)" opacity="0.5"/>
<ellipse cx="498.5" cy="52.8" rx="1.7" ry="1.4" fill="#fbfbf0"/>
</g></g>
<path d="M605.0 48.0H623.0L619.0 66.5H609.0Z" fill="url(#glowv)" opacity="0.5" filter="url(#blur15)"/>
<g filter="url(#blur07)" fill="none" stroke-linejoin="round">
<path d="M524.2 45.9 L569.1 46.7 L605.0 47.0 L614.0 47.5 L623.0 47.1 L649.0 46.0 L684.0 44.5" stroke="#262626" stroke-width="5" transform="translate(0,2.2)"/>
<path d="M524.2 40.5 L569.1 41.7 L605.0 42.2 L614.0 42.9 L623.0 42.4 L649.0 40.9 L684.0 38.9" stroke="#4a4a4a" stroke-width="8.4" transform="translate(0,2.3)"/>
<path d="M524.2 40.5 L569.1 41.7 L605.0 42.2 L614.0 42.9 L623.0 42.4 L649.0 40.9 L684.0 38.9" stroke="#acacac" stroke-width="3.5"/>
<path d="M524.2 40.5 L569.1 41.7 L605.0 42.2 L614.0 42.9 L623.0 42.4 L649.0 40.9 L684.0 38.9" stroke="#c6c6c6" stroke-width="1.3"/>
<path d="M524.2 45.9 L569.1 46.7 L605.0 47.0 L614.0 47.5 L623.0 47.1 L649.0 46.0 L684.0 44.5" stroke="#cecece" stroke-width="2.9"/>
<path d="M524.2 45.9 L569.1 46.7 L605.0 47.0 L614.0 47.5 L623.0 47.1 L649.0 46.0 L684.0 44.5" stroke="#e2e2e2" stroke-width="1.1"/>
</g>
<path d="M581.7 38.6h0.7M626.5 40.3h1.0M644.7 37.9h1.7M625.1 38.8h0.8M619.2 40.7h1.7M646.2 37.0h0.6M602.7 39.9h0.7M622.9 38.4h1.0" stroke="#6a6a6a" stroke-width="0.7"/>
<path d="M525.8 70.0V74.4h3" stroke="#b0b0b0" stroke-width="0.7" fill="none"/>
<clipPath id="fc11"><path d="M524.4 99.7 L524.3 102.2 L523.9 104.5 L523.4 106.7 L522.6 108.8 L521.6 110.8 L520.3 112.6 L518.9 114.3 L517.3 115.9 L515.5 117.3 L513.6 118.6 L511.5 119.7 L509.3 120.6 L506.9 121.3 L504.4 121.8 L501.8 122.1 L499.0 122.2 L496.2 122.1 L493.6 121.8 L491.1 121.3 L488.7 120.6 L486.5 119.7 L484.4 118.6 L482.5 117.3 L480.7 115.9 L479.1 114.3 L477.7 112.6 L476.4 110.8 L475.4 108.8 L474.6 106.7 L474.1 104.5 L473.7 102.2 L473.6 99.7 L473.7 97.2 L474.1 94.9 L474.6 92.7 L475.4 90.6 L476.4 88.6 L477.7 86.8 L479.1 85.1 L480.7 83.5 L482.5 82.1 L484.4 80.8 L486.5 79.7 L488.7 78.8 L491.1 78.1 L493.6 77.6 L496.2 77.3 L499.0 77.2 L501.8 77.3 L504.4 77.6 L506.9 78.1 L509.3 78.8 L511.5 79.7 L513.6 80.8 L515.5 82.1 L517.3 83.5 L518.9 85.1 L520.3 86.8 L521.6 88.6 L522.6 90.6 L523.4 92.7 L523.9 94.9 L524.3 97.2Z"/></clipPath>
<g clip-path="url(#fc11)"><g>
<path d="M524.4 99.7 L524.3 102.2 L523.9 104.5 L523.4 106.7 L522.6 108.8 L521.6 110.8 L520.3 112.6 L518.9 114.3 L517.3 115.9 L515.5 117.3 L513.6 118.6 L511.5 119.7 L509.3 120.6 L506.9 121.3 L504.4 121.8 L501.8 122.1 L499.0 122.2 L496.2 122.1 L493.6 121.8 L491.1 121.3 L488.7 120.6 L486.5 119.7 L484.4 118.6 L482.5 117.3 L480.7 115.9 L479.1 114.3 L477.7 112.6 L476.4 110.8 L475.4 108.8 L474.6 106.7 L474.1 104.5 L473.7 102.2 L473.6 99.7 L473.7 97.2 L474.1 94.9 L474.6 92.7 L475.4 90.6 L476.4 88.6 L477.7 86.8 L479.1 85.1 L480.7 83.5 L482.5 82.1 L484.4 80.8 L486.5 79.7 L488.7 78.8 L491.1 78.1 L493.6 77.6 L496.2 77.3 L499.0 77.2 L501.8 77.3 L504.4 77.6 L506.9 78.1 L509.3 78.8 L511.5 79.7 L513.6 80.8 L515.5 82.1 L517.3 83.5 L518.9 85.1 L520.3 86.8 L521.6 88.6 L522.6 90.6 L523.4 92.7 L523.9 94.9 L524.3 97.2Z" fill="url(#fund)"/>
<ellipse cx="498.5" cy="98.1" rx="7" ry="6" fill="#3e463c" opacity="0.45" filter="url(#blur15)"/>
<path d="M500.5 98.5L521.5 103.2M500.5 98.4L521.4 102.0M499.6 99.8L507.1 112.0M499.2 100.0L505.9 118.5M498.4 100.1L497.5 113.2M497.6 99.9L488.4 117.1M496.8 99.2L478.9 111.3M496.7 99.1L478.6 108.9M496.5 97.7L474.4 92.7M496.5 97.7L484.4 95.4M497.2 96.6L487.9 85.4M497.8 96.2L489.7 74.3M498.4 96.1L497.3 81.1M499.2 96.2L506.3 77.7M499.5 96.4L508.1 82.2M500.1 97.0L516.5 85.5" stroke="#f4f8f0" stroke-width="0.55" opacity="0.6" fill="none"/>
<path d="M473.3 78.1H524.7M473.3 82.7H524.7M473.3 87.3H524.7M473.3 91.9H524.7M473.3 96.5H524.7M473.3 101.1H524.7M473.3 105.7H524.7M473.3 110.3H524.7M473.3 114.9H524.7M473.3 119.5H524.7" stroke="#74d474" stroke-width="0.5" opacity="0.3"/>
<path d="M473.3 79.3H524.7M473.3 83.9H524.7M473.3 88.5H524.7M473.3 93.1H524.7M473.3 97.7H524.7M473.3 102.3H524.7M473.3 106.9H524.7M473.3 111.5H524.7M473.3 116.1H524.7M473.3 120.7H524.7" stroke="#3a3a3a" stroke-width="0.5" opacity="0.2"/>
<path d="M473.3 80.4H524.7M473.3 85.0H524.7M473.3 89.6H524.7M473.3 94.2H524.7M473.3 98.8H524.7M473.3 103.4H524.7M473.3 108.0H524.7M473.3 112.6H524.7M473.3 117.2H524.7M473.3 121.8H524.7" stroke="#d49cae" stroke-width="0.5" opacity="0.22"/>
<path d="M473.3 81.6H524.7M473.3 86.2H524.7M473.3 90.8H524.7M473.3 95.4H524.7M473.3 100.0H524.7M473.3 104.6H524.7M473.3 109.2H524.7M473.3 113.8H524.7M473.3 118.4H524.7" stroke="#3a3a3a" stroke-width="0.5" opacity="0.2"/>
<line x1="473.3" y1="98.1" x2="524.7" y2="98.1" stroke="#4ed24e" stroke-width="0.8" opacity="0.3"/>
<rect x="473.0" y="76.9" width="52" height="45.6" filter="url(#fnoise)" opacity="0.5"/>
<ellipse cx="498.5" cy="98.1" rx="1.7" ry="1.4" fill="#fbfbf0"/>
</g></g>
<path d="M599.0 96.4H617.0L613.0 114.9H603.0Z" fill="url(#glowv)" opacity="0.8" filter="url(#blur15)"/>
<g filter="url(#blur07)" fill="none" stroke-linejoin="round">
<path d="M524.2 95.7 L566.1 95.8 L599.0 95.8 L608.0 95.9 L617.0 95.8 L646.0 95.6 L684.0 95.2" stroke="#262626" stroke-width="5" transform="translate(0,2.2)"/>
<path d="M524.2 90.5 L566.1 90.8 L599.0 91.0 L608.0 91.2 L617.0 91.0 L646.0 90.5 L684.0 89.8" stroke="#4a4a4a" stroke-width="8.4" transform="translate(0,2.3)"/>
<path d="M524.2 90.5 L566.1 90.8 L599.0 91.0 L608.0 91.2 L617.0 91.0 L646.0 90.5 L684.0 89.8" stroke="#acacac" stroke-width="3.5"/>
<path d="M524.2 90.5 L566.1 90.8 L599.0 91.0 L608.0 91.2 L617.0 91.0 L646.0 90.5 L684.0 89.8" stroke="#c6c6c6" stroke-width="1.3"/>
<path d="M524.2 95.7 L566.1 95.8 L599.0 95.8 L608.0 95.9 L617.0 95.8 L646.0 95.6 L684.0 95.2" stroke="#cecece" stroke-width="2.9"/>
<path d="M524.2 95.7 L566.1 95.8 L599.0 95.8 L608.0 95.9 L617.0 95.8 L646.0 95.6 L684.0 95.2" stroke="#e2e2e2" stroke-width="1.1"/>
</g>
<path d="M631.1 88.0h1.1M610.8 88.8h0.9M596.1 88.1h0.6M625.7 87.5h0.9M578.4 87.1h0.7M582.3 88.8h0.6M636.4 88.1h1.0M631.3 87.3h0.8" stroke="#6a6a6a" stroke-width="0.7"/>
<path d="M525.8 116.5V120.9h3" stroke="#b0b0b0" stroke-width="0.7" fill="none"/>
<clipPath id="fc12"><path d="M524.4 146.2 L524.3 148.7 L523.9 151.0 L523.4 153.2 L522.6 155.3 L521.6 157.2 L520.3 159.1 L518.9 160.8 L517.3 162.4 L515.5 163.8 L513.6 165.1 L511.5 166.2 L509.3 167.1 L506.9 167.8 L504.4 168.3 L501.8 168.6 L499.0 168.7 L496.2 168.6 L493.6 168.3 L491.1 167.8 L488.7 167.1 L486.5 166.2 L484.4 165.1 L482.5 163.8 L480.7 162.4 L479.1 160.8 L477.7 159.1 L476.4 157.2 L475.4 155.3 L474.6 153.2 L474.1 151.0 L473.7 148.7 L473.6 146.2 L473.7 143.6 L474.1 141.3 L474.6 139.1 L475.4 137.0 L476.4 135.1 L477.7 133.2 L479.1 131.5 L480.7 129.9 L482.5 128.5 L484.4 127.2 L486.5 126.1 L488.7 125.2 L491.1 124.5 L493.6 124.0 L496.2 123.7 L499.0 123.6 L501.8 123.7 L504.4 124.0 L506.9 124.5 L509.3 125.2 L511.5 126.1 L513.6 127.2 L515.5 128.5 L517.3 129.9 L518.9 131.5 L520.3 133.2 L521.6 135.1 L522.6 137.0 L523.4 139.1 L523.9 141.3 L524.3 143.6Z"/></clipPath>
<g clip-path="url(#fc12)"><g>
<path d="M524.4 146.2 L524.3 148.7 L523.9 151.0 L523.4 153.2 L522.6 155.3 L521.6 157.2 L520.3 159.1 L518.9 160.8 L517.3 162.4 L515.5 163.8 L513.6 165.1 L511.5 166.2 L509.3 167.1 L506.9 167.8 L504.4 168.3 L501.8 168.6 L499.0 168.7 L496.2 168.6 L493.6 168.3 L491.1 167.8 L488.7 167.1 L486.5 166.2 L484.4 165.1 L482.5 163.8 L480.7 162.4 L479.1 160.8 L477.7 159.1 L476.4 157.2 L475.4 155.3 L474.6 153.2 L474.1 151.0 L473.7 148.7 L473.6 146.2 L473.7 143.6 L474.1 141.3 L474.6 139.1 L475.4 137.0 L476.4 135.1 L477.7 133.2 L479.1 131.5 L480.7 129.9 L482.5 128.5 L484.4 127.2 L486.5 126.1 L488.7 125.2 L491.1 124.5 L493.6 124.0 L496.2 123.7 L499.0 123.6 L501.8 123.7 L504.4 124.0 L506.9 124.5 L509.3 125.2 L511.5 126.1 L513.6 127.2 L515.5 128.5 L517.3 129.9 L518.9 131.5 L520.3 133.2 L521.6 135.1 L522.6 137.0 L523.4 139.1 L523.9 141.3 L524.3 143.6Z" fill="url(#fund)"/>
<ellipse cx="498.5" cy="144.5" rx="7" ry="6" fill="#3e463c" opacity="0.45" filter="url(#blur15)"/>
<path d="M500.5 144.4L523.1 143.5M500.4 145.1L519.9 151.5M500.2 145.5L518.0 156.3M498.9 146.4L503.9 167.8M498.3 146.5L496.6 162.8M498.2 146.5L495.9 164.6M496.9 145.7L485.3 154.1M496.8 145.5L480.9 154.9M496.5 144.2L474.0 140.8M496.5 144.2L482.5 141.8M497.4 142.9L486.1 126.6M498.0 142.6L491.8 119.4M499.0 142.6L504.8 121.2M499.6 142.8L508.4 128.6M500.0 143.2L510.9 134.0M500.4 144.0L520.9 139.1" stroke="#f4f8f0" stroke-width="0.55" opacity="0.6" fill="none"/>
<path d="M473.3 124.5H524.7M473.3 129.1H524.7M473.3 133.7H524.7M473.3 138.3H524.7M473.3 142.9H524.7M473.3 147.5H524.7M473.3 152.1H524.7M473.3 156.7H524.7M473.3 161.3H524.7M473.3 165.9H524.7" stroke="#74d474" stroke-width="0.5" opacity="0.3"/>
<path d="M473.3 125.7H524.7M473.3 130.3H524.7M473.3 134.9H524.7M473.3 139.5H524.7M473.3 144.1H524.7M473.3 148.7H524.7M473.3 153.3H524.7M473.3 157.9H524.7M473.3 162.5H524.7M473.3 167.1H524.7" stroke="#3a3a3a" stroke-width="0.5" opacity="0.2"/>
<path d="M473.3 126.8H524.7M473.3 131.4H524.7M473.3 136.0H524.7M473.3 140.6H524.7M473.3 145.2H524.7M473.3 149.8H524.7M473.3 154.4H524.7M473.3 159.0H524.7M473.3 163.6H524.7M473.3 168.2H524.7" stroke="#d49cae" stroke-width="0.5" opacity="0.22"/>
<path d="M473.3 128.0H524.7M473.3 132.6H524.7M473.3 137.2H524.7M473.3 141.8H524.7M473.3 146.4H524.7M473.3 151.0H524.7M473.3 155.6H524.7M473.3 160.2H524.7M473.3 164.8H524.7" stroke="#3a3a3a" stroke-width="0.5" opacity="0.2"/>
<line x1="473.3" y1="144.5" x2="524.7" y2="144.5" stroke="#4ed24e" stroke-width="0.8" opacity="0.3"/>
<rect x="473.0" y="123.3" width="52" height="45.7" filter="url(#fnoise)" opacity="0.5"/>
<ellipse cx="498.5" cy="144.5" rx="1.7" ry="1.4" fill="#fbfbf0"/>
</g></g>
<path d="M613.0 145.3H631.0L627.0 163.8H617.0Z" fill="url(#glowv)" opacity="0.25" filter="url(#blur15)"/>
<g filter="url(#blur07)" fill="none" stroke-linejoin="round">
<path d="M524.2 143.2 L573.1 144.0 L613.0 144.3 L622.0 144.8 L631.0 144.5 L653.0 143.7 L684.0 142.5" stroke="#262626" stroke-width="5" transform="translate(0,2.2)"/>
<path d="M524.2 138.5 L573.1 139.3 L613.0 139.6 L622.0 140.1 L631.0 139.8 L653.0 138.9 L684.0 137.8" stroke="#4a4a4a" stroke-width="8.4" transform="translate(0,2.3)"/>
<path d="M524.2 138.5 L573.1 139.3 L613.0 139.6 L622.0 140.1 L631.0 139.8 L653.0 138.9 L684.0 137.8" stroke="#acacac" stroke-width="3.5"/>
<path d="M524.2 138.5 L573.1 139.3 L613.0 139.6 L622.0 140.1 L631.0 139.8 L653.0 138.9 L684.0 137.8" stroke="#c6c6c6" stroke-width="1.3"/>
<path d="M524.2 143.2 L573.1 144.0 L613.0 144.3 L622.0 144.8 L631.0 144.5 L653.0 143.7 L684.0 142.5" stroke="#cecece" stroke-width="2.9"/>
<path d="M524.2 143.2 L573.1 144.0 L613.0 144.3 L622.0 144.8 L631.0 144.5 L653.0 143.7 L684.0 142.5" stroke="#e2e2e2" stroke-width="1.1"/>
</g>
<path d="M637.5 136.5h1.1M616.4 138.1h1.8M625.0 137.1h1.3M637.5 136.7h1.7M651.4 136.2h0.7M640.2 134.9h0.7M636.9 135.5h1.9M595.6 137.6h2.0" stroke="#6a6a6a" stroke-width="0.7"/>
<path d="M525.8 163.0V167.4h3" stroke="#b0b0b0" stroke-width="0.7" fill="none"/>
<clipPath id="fc13"><path d="M524.4 192.9 L524.3 195.5 L523.9 197.8 L523.4 200.0 L522.6 202.1 L521.6 204.1 L520.3 206.0 L518.9 207.8 L517.3 209.4 L515.5 210.8 L513.6 212.1 L511.5 213.2 L509.3 214.1 L506.9 214.8 L504.4 215.3 L501.8 215.6 L499.0 215.7 L496.2 215.6 L493.6 215.3 L491.1 214.8 L488.7 214.1 L486.5 213.2 L484.4 212.1 L482.5 210.8 L480.7 209.4 L479.1 207.8 L477.7 206.0 L476.4 204.1 L475.4 202.1 L474.6 200.0 L474.1 197.8 L473.7 195.5 L473.6 193.0 L473.7 190.4 L474.1 188.1 L474.6 185.9 L475.4 183.8 L476.4 181.8 L477.7 179.9 L479.1 178.1 L480.7 176.5 L482.5 175.1 L484.4 173.8 L486.5 172.7 L488.7 171.8 L491.1 171.1 L493.6 170.6 L496.2 170.3 L499.0 170.2 L501.8 170.3 L504.4 170.6 L506.9 171.1 L509.3 171.8 L511.5 172.7 L513.6 173.8 L515.5 175.1 L517.3 176.5 L518.9 178.1 L520.3 179.9 L521.6 181.8 L522.6 183.8 L523.4 185.9 L523.9 188.1 L524.3 190.4Z"/></clipPath>
<g clip-path="url(#fc13)"><g>
<path d="M524.4 192.9 L524.3 195.5 L523.9 197.8 L523.4 200.0 L522.6 202.1 L521.6 204.1 L520.3 206.0 L518.9 207.8 L517.3 209.4 L515.5 210.8 L513.6 212.1 L511.5 213.2 L509.3 214.1 L506.9 214.8 L504.4 215.3 L501.8 215.6 L499.0 215.7 L496.2 215.6 L493.6 215.3 L491.1 214.8 L488.7 214.1 L486.5 213.2 L484.4 212.1 L482.5 210.8 L480.7 209.4 L479.1 207.8 L477.7 206.0 L476.4 204.1 L475.4 202.1 L474.6 200.0 L474.1 197.8 L473.7 195.5 L473.6 193.0 L473.7 190.4 L474.1 188.1 L474.6 185.9 L475.4 183.8 L476.4 181.8 L477.7 179.9 L479.1 178.1 L480.7 176.5 L482.5 175.1 L484.4 173.8 L486.5 172.7 L488.7 171.8 L491.1 171.1 L493.6 170.6 L496.2 170.3 L499.0 170.2 L501.8 170.3 L504.4 170.6 L506.9 171.1 L509.3 171.8 L511.5 172.7 L513.6 173.8 L515.5 175.1 L517.3 176.5 L518.9 178.1 L520.3 179.9 L521.6 181.8 L522.6 183.8 L523.4 185.9 L523.9 188.1 L524.3 190.4Z" fill="url(#fund)"/>
<ellipse cx="498.5" cy="191.6" rx="7" ry="6" fill="#3e463c" opacity="0.45" filter="url(#blur15)"/>
<path d="M500.4 191.1L514.2 187.9M500.3 192.4L516.0 199.8M499.7 193.2L508.2 204.7M498.8 193.6L500.9 208.0M498.2 193.6L496.1 206.2M497.8 193.5L493.2 205.0M497.3 193.2L487.4 205.5M496.6 192.1L479.7 196.6M496.6 192.1L473.5 198.4M496.9 190.4L478.2 177.0M496.9 190.4L483.4 180.5M497.4 189.9L490.3 178.4M497.9 189.7L493.0 172.3M498.8 189.6L501.2 175.7M500.2 190.5L515.2 180.9M500.2 190.5L516.9 179.5" stroke="#f4f8f0" stroke-width="0.55" opacity="0.6" fill="none"/>
<path d="M473.3 171.1H524.7M473.3 175.7H524.7M473.3 180.3H524.7M473.3 184.9H524.7M473.3 189.5H524.7M473.3 194.1H524.7M473.3 198.7H524.7M473.3 203.3H524.7M473.3 207.9H524.7M473.3 212.5H524.7" stroke="#74d474" stroke-width="0.5" opacity="0.3"/>
<path d="M473.3 172.2H524.7M473.3 176.9H524.7M473.3 181.5H524.7M473.3 186.1H524.7M473.3 190.7H524.7M473.3 195.3H524.7M473.3 199.9H524.7M473.3 204.5H524.7M473.3 209.1H524.7M473.3 213.7H524.7" stroke="#3a3a3a" stroke-width="0.5" opacity="0.2"/>
<path d="M473.3 173.4H524.7M473.3 178.0H524.7M473.3 182.6H524.7M473.3 187.2H524.7M473.3 191.8H524.7M473.3 196.4H524.7M473.3 201.0H524.7M473.3 205.6H524.7M473.3 210.2H524.7M473.3 214.8H524.7" stroke="#d49cae" stroke-width="0.5" opacity="0.22"/>
<path d="M473.3 174.6H524.7M473.3 179.2H524.7M473.3 183.8H524.7M473.3 188.4H524.7M473.3 193.0H524.7M473.3 197.6H524.7M473.3 202.2H524.7M473.3 206.8H524.7M473.3 211.4H524.7M473.3 216.0H524.7" stroke="#3a3a3a" stroke-width="0.5" opacity="0.2"/>
<line x1="473.3" y1="191.6" x2="524.7" y2="191.6" stroke="#4ed24e" stroke-width="0.8" opacity="0.6"/>
<rect x="473.0" y="169.9" width="52" height="46.1" filter="url(#fnoise)" opacity="0.5"/>
<ellipse cx="498.5" cy="191.6" rx="1.7" ry="1.4" fill="#fbfbf0"/>
</g></g>
<path d="M608.5 191.3H626.5L622.5 209.8H612.5Z" fill="url(#glowv)" opacity="0.55" filter="url(#blur15)"/>
<g filter="url(#blur07)" fill="none" stroke-linejoin="round">
<path d="M524.2 188.5 L570.9 189.7 L608.5 190.1 L617.5 190.8 L626.5 190.5 L650.8 189.7 L684.0 188.5" stroke="#262626" stroke-width="5" transform="translate(0,2.2)"/>
<path d="M524.2 183.8 L570.9 184.9 L608.5 185.4 L617.5 186.1 L626.5 185.7 L650.8 184.7 L684.0 183.3" stroke="#4a4a4a" stroke-width="8.4" transform="translate(0,2.3)"/>
<path d="M524.2 183.8 L570.9 184.9 L608.5 185.4 L617.5 186.1 L626.5 185.7 L650.8 184.7 L684.0 183.3" stroke="#acacac" stroke-width="3.5"/>
<path d="M524.2 183.8 L570.9 184.9 L608.5 185.4 L617.5 186.1 L626.5 185.7 L650.8 184.7 L684.0 183.3" stroke="#c6c6c6" stroke-width="1.3"/>
<path d="M524.2 188.5 L570.9 189.7 L608.5 190.1 L617.5 190.8 L626.5 190.5 L650.8 189.7 L684.0 188.5" stroke="#cecece" stroke-width="2.9"/>
<path d="M524.2 188.5 L570.9 189.7 L608.5 190.1 L617.5 190.8 L626.5 190.5 L650.8 189.7 L684.0 188.5" stroke="#e2e2e2" stroke-width="1.1"/>
</g>
<path d="M601.1 182.5h0.9M618.6 182.6h1.3M610.2 182.0h1.8M595.1 183.4h0.7M651.1 180.3h0.8M650.4 182.4h1.3M617.3 181.8h0.6M604.6 182.4h0.6" stroke="#6a6a6a" stroke-width="0.7"/>
<path d="M525.8 210.0V214.4h3" stroke="#b0b0b0" stroke-width="0.7" fill="none"/>
<clipPath id="fc14"><path d="M524.4 239.8 L524.3 242.3 L523.9 244.6 L523.4 246.8 L522.6 248.9 L521.6 250.8 L520.3 252.7 L518.9 254.4 L517.3 256.0 L515.5 257.4 L513.6 258.7 L511.5 259.8 L509.3 260.7 L506.9 261.4 L504.4 261.9 L501.8 262.2 L499.0 262.3 L496.2 262.2 L493.6 261.9 L491.1 261.4 L488.7 260.7 L486.5 259.8 L484.4 258.7 L482.5 257.4 L480.7 256.0 L479.1 254.4 L477.7 252.7 L476.4 250.8 L475.4 248.9 L474.6 246.8 L474.1 244.6 L473.7 242.3 L473.6 239.8 L473.7 237.2 L474.1 234.9 L474.6 232.7 L475.4 230.6 L476.4 228.7 L477.7 226.8 L479.1 225.1 L480.7 223.5 L482.5 222.1 L484.4 220.8 L486.5 219.7 L488.7 218.8 L491.1 218.1 L493.6 217.6 L496.2 217.3 L499.0 217.2 L501.8 217.3 L504.4 217.6 L506.9 218.1 L509.3 218.8 L511.5 219.7 L513.6 220.8 L515.5 222.1 L517.3 223.5 L518.9 225.1 L520.3 226.8 L521.6 228.7 L522.6 230.6 L523.4 232.7 L523.9 234.9 L524.3 237.2Z"/></clipPath>
<g clip-path="url(#fc14)"><g>
<path d="M524.4 239.8 L524.3 242.3 L523.9 244.6 L523.4 246.8 L522.6 248.9 L521.6 250.8 L520.3 252.7 L518.9 254.4 L517.3 256.0 L515.5 257.4 L513.6 258.7 L511.5 259.8 L509.3 260.7 L506.9 261.4 L504.4 261.9 L501.8 262.2 L499.0 262.3 L496.2 262.2 L493.6 261.9 L491.1 261.4 L488.7 260.7 L486.5 259.8 L484.4 258.7 L482.5 257.4 L480.7 256.0 L479.1 254.4 L477.7 252.7 L476.4 250.8 L475.4 248.9 L474.6 246.8 L474.1 244.6 L473.7 242.3 L473.6 239.8 L473.7 237.2 L474.1 234.9 L474.6 232.7 L475.4 230.6 L476.4 228.7 L477.7 226.8 L479.1 225.1 L480.7 223.5 L482.5 222.1 L484.4 220.8 L486.5 219.7 L488.7 218.8 L491.1 218.1 L493.6 217.6 L496.2 217.3 L499.0 217.2 L501.8 217.3 L504.4 217.6 L506.9 218.1 L509.3 218.8 L511.5 219.7 L513.6 220.8 L515.5 222.1 L517.3 223.5 L518.9 225.1 L520.3 226.8 L521.6 228.7 L522.6 230.6 L523.4 232.7 L523.9 234.9 L524.3 237.2Z" fill="url(#fund)"/>
<ellipse cx="497.5" cy="237.2" rx="7" ry="6" fill="#3e463c" opacity="0.45" filter="url(#blur15)"/>
<path d="M499.5 236.9L516.8 234.1M499.1 238.4L516.3 250.7M498.6 238.9L510.3 256.4M498.0 239.1L503.9 260.5M497.3 239.2L495.0 259.9M497.0 239.1L493.2 252.6M495.9 238.4L484.6 246.6M495.5 237.5L476.6 240.2M495.5 237.4L472.4 239.8M495.5 236.8L477.7 233.5M495.8 236.2L475.6 224.0M496.8 235.3L489.4 215.0M497.2 235.2L494.4 213.8M498.5 235.5L508.2 218.3M499.2 236.2L514.2 227.7M499.3 236.3L517.6 227.6" stroke="#f4f8f0" stroke-width="0.55" opacity="0.6" fill="none"/>
<path d="M473.3 218.1H524.7M473.3 222.7H524.7M473.3 227.3H524.7M473.3 231.9H524.7M473.3 236.5H524.7M473.3 241.1H524.7M473.3 245.7H524.7M473.3 250.3H524.7M473.3 254.9H524.7M473.3 259.5H524.7" stroke="#74d474" stroke-width="0.5" opacity="0.3"/>
<path d="M473.3 219.2H524.7M473.3 223.9H524.7M473.3 228.5H524.7M473.3 233.1H524.7M473.3 237.7H524.7M473.3 242.3H524.7M473.3 246.9H524.7M473.3 251.5H524.7M473.3 256.1H524.7M473.3 260.7H524.7" stroke="#3a3a3a" stroke-width="0.5" opacity="0.2"/>
<path d="M473.3 220.4H524.7M473.3 225.0H524.7M473.3 229.6H524.7M473.3 234.2H524.7M473.3 238.8H524.7M473.3 243.4H524.7M473.3 248.0H524.7M473.3 252.6H524.7M473.3 257.2H524.7M473.3 261.8H524.7" stroke="#d49cae" stroke-width="0.5" opacity="0.22"/>
<path d="M473.3 221.6H524.7M473.3 226.2H524.7M473.3 230.8H524.7M473.3 235.4H524.7M473.3 240.0H524.7M473.3 244.6H524.7M473.3 249.2H524.7M473.3 253.8H524.7M473.3 258.4H524.7" stroke="#3a3a3a" stroke-width="0.5" opacity="0.2"/>
<line x1="473.3" y1="237.2" x2="524.7" y2="237.2" stroke="#4ed24e" stroke-width="0.8" opacity="0.35"/>
<rect x="473.0" y="216.9" width="52" height="45.7" filter="url(#fnoise)" opacity="0.5"/>
<ellipse cx="497.5" cy="237.2" rx="1.7" ry="1.4" fill="#fbfbf0"/>
</g></g>
<path d="M582.8 235.9H600.8L596.8 254.4H586.8Z" fill="url(#glowv)" opacity="0.5" filter="url(#blur15)"/>
<g filter="url(#blur07)" fill="none" stroke-linejoin="round">
<path d="M524.2 234.0 L558.0 234.7 L582.8 234.9 L591.8 235.4 L600.8 235.4 L637.9 235.7 L684.0 235.9" stroke="#262626" stroke-width="5" transform="translate(0,2.2)"/>
<path d="M524.2 229.8 L558.0 230.5 L582.8 230.7 L591.8 231.2 L600.8 231.1 L637.9 230.8 L684.0 230.5" stroke="#4a4a4a" stroke-width="8.4" transform="translate(0,2.3)"/>
<path d="M524.2 229.8 L558.0 230.5 L582.8 230.7 L591.8 231.2 L600.8 231.1 L637.9 230.8 L684.0 230.5" stroke="#acacac" stroke-width="3.5"/>
<path d="M524.2 229.8 L558.0 230.5 L582.8 230.7 L591.8 231.2 L600.8 231.1 L637.9 230.8 L684.0 230.5" stroke="#c6c6c6" stroke-width="1.3"/>
<path d="M524.2 234.0 L558.0 234.7 L582.8 234.9 L591.8 235.4 L600.8 235.4 L637.9 235.7 L684.0 235.9" stroke="#cecece" stroke-width="2.9"/>
<path d="M524.2 234.0 L558.0 234.7 L582.8 234.9 L591.8 235.4 L600.8 235.4 L637.9 235.7 L684.0 235.9" stroke="#e2e2e2" stroke-width="1.1"/>
</g>
<path d="M615.3 228.3h1.5M571.4 227.5h1.7M561.4 226.8h0.5M623.9 227.9h1.1M607.2 227.9h1.6M562.7 227.3h1.3M622.0 229.1h1.2M601.0 227.8h0.6" stroke="#6a6a6a" stroke-width="0.7"/>
<path d="M525.8 256.6V261.0h3" stroke="#b0b0b0" stroke-width="0.7" fill="none"/>
<line x1="472.6" y1="76.4" x2="684.0" y2="76.4" stroke="#9a9a9a" stroke-width="1"/>
<line x1="472.6" y1="122.9" x2="684.0" y2="122.9" stroke="#9a9a9a" stroke-width="1"/>
<line x1="472.6" y1="169.4" x2="684.0" y2="169.4" stroke="#9a9a9a" stroke-width="1"/>
<line x1="472.6" y1="216.4" x2="684.0" y2="216.4" stroke="#9a9a9a" stroke-width="1"/>
<text x="344.6" y="277.8" font-size="14.6" textLength="60.8" lengthAdjust="spacingAndGlyphs" fill="#1a1a1a">10 weeks</text>
<text x="574.8" y="277.8" font-size="14.6" textLength="60.7" lengthAdjust="spacingAndGlyphs" fill="#1a1a1a">10 weeks</text>
<text x="38.6" y="326.0" font-size="8.0" textLength="16.6" lengthAdjust="spacingAndGlyphs" fill="#222">PCA</text>
<rect x="38.7" y="340.0" width="237.3" height="182.0" fill="#ebebeb"/>
<path d="M72.4 340.0V522.0M120.9 340.0V522.0M169.3 340.0V522.0M217.8 340.0V522.0M38.7 487.7H276.0M38.7 439.5H276.0M38.7 391.3H276.0M38.7 343.1H276.0" stroke="#f4f4f4" stroke-width="0.5"/>
<path d="M48.2 340.0V522.0M96.7 340.0V522.0M193.5 340.0V522.0M242.0 340.0V522.0M38.7 511.8H276.0M38.7 463.6H276.0M38.7 367.2H276.0" stroke="#ffffff" stroke-width="1"/>
<path d="M145.1 340.0V522.0M38.7 415.4H276.0" stroke="#c8c8c8" stroke-width="1"/>
<path d="M48.2 522.0v2M96.7 522.0v2M145.1 522.0v2M193.5 522.0v2M242.0 522.0v2M38.7 511.8h-2M38.7 463.6h-2M38.7 415.4h-2M38.7 367.2h-2" stroke="#444" stroke-width="0.5"/>
<text x="48.2" y="530.0" font-size="6.2" text-anchor="middle" fill="#555">-10</text>
<text x="96.7" y="530.0" font-size="6.2" text-anchor="middle" fill="#555">-5</text>
<text x="145.1" y="530.0" font-size="6.2" text-anchor="middle" fill="#555">0</text>
<text x="193.5" y="530.0" font-size="6.2" text-anchor="middle" fill="#555">5</text>
<text x="242.0" y="530.0" font-size="6.2" text-anchor="middle" fill="#555">10</text>
<text x="35.6" y="514.0" font-size="6.2" text-anchor="end" fill="#555">-10</text>
<text x="35.6" y="465.8" font-size="6.2" text-anchor="end" fill="#555">-5</text>
<text x="35.6" y="417.6" font-size="6.2" text-anchor="end" fill="#555">0</text>
<text x="35.6" y="369.4" font-size="6.2" text-anchor="end" fill="#555">5</text>
<text x="157.4" y="537.2" font-size="7.4" text-anchor="middle" textLength="58.5" lengthAdjust="spacingAndGlyphs" fill="#222">PC1: 69% variance</text>
<text transform="translate(25.0,430.7) rotate(-90)" font-size="7.4" text-anchor="middle" fill="#222" textLength="58.5" lengthAdjust="spacingAndGlyphs">PC2: 15% variance</text>
<path d="M64.6 353.5L69.6 345.0H59.6Z" fill="none" stroke="#ef8a83" stroke-width="0.75"/>
<path d="M54.6 388.9L62.1 396.4M62.1 388.9L54.6 396.4" stroke="#ef8a83" stroke-width="0.75"/>
<path d="M44.2 404.6H54.2M49.2 399.6V409.6" stroke="#ef8a83" stroke-width="0.75"/>
<path d="M53.7 508.5L59.0 513.8L53.7 519.0L48.5 513.8Z" fill="none" stroke="#ef8a83" stroke-width="0.75"/>
<path d="M259.2 388.1L264.2 396.6H254.2Z" fill="none" stroke="#56c7c3" stroke-width="0.75"/>
<circle cx="265.0" cy="424.2" r="4.2" fill="none" stroke="#56c7c3" stroke-width="0.75"/>
<rect x="260.1" y="427.8" width="8.5" height="8.5" fill="none" stroke="#56c7c3" stroke-width="0.75"/>
<text x="286.0" y="371.4" font-size="7.0" textLength="27.0" lengthAdjust="spacingAndGlyphs" fill="#222">condition</text>
<rect x="286.4" y="375.8" width="10.6" height="10.6" fill="#f3f3f3"/>
<circle cx="291.8" cy="381.1" r="3.3" fill="#e2706a"/>
<text x="300.6" y="383.3" font-size="5.8" fill="#222">Null</text>
<rect x="286.4" y="386.3" width="10.6" height="10.6" fill="#f3f3f3"/>
<circle cx="291.8" cy="391.6" r="3.3" fill="#4fcac4"/>
<text x="300.6" y="393.8" font-size="5.8" fill="#222">IFNb</text>
<text x="286.0" y="416.4" font-size="7.0" textLength="16.0" lengthAdjust="spacingAndGlyphs" fill="#222">name</text>
<rect x="286.4" y="420.5" width="10.6" height="10.6" fill="#f3f3f3"/>
<rect x="288.2" y="422.2" width="7.1" height="7.1" fill="none" stroke="#333" stroke-width="0.6"/>
<text x="300.6" y="427.9" font-size="5.8" textLength="26.5" lengthAdjust="spacingAndGlyphs" fill="#222">IFNb.2429</text>
<rect x="286.4" y="431.3" width="10.6" height="10.6" fill="#f3f3f3"/>
<circle cx="291.8" cy="436.6" r="3.6" fill="none" stroke="#333" stroke-width="0.6"/>
<text x="300.6" y="438.7" font-size="5.8" textLength="26.5" lengthAdjust="spacingAndGlyphs" fill="#222">IFNb.2432</text>
<rect x="286.4" y="442.1" width="10.6" height="10.6" fill="#f3f3f3"/>
<path d="M291.8 443.3L296.0 450.4H287.6Z" fill="none" stroke="#333" stroke-width="0.6"/>
<text x="300.6" y="449.5" font-size="5.8" textLength="26.5" lengthAdjust="spacingAndGlyphs" fill="#222">IFNb.2438</text>
<rect x="286.4" y="452.9" width="10.6" height="10.6" fill="#f3f3f3"/>
<path d="M287.6 458.2H296.0M291.8 454.0V462.4" stroke="#333" stroke-width="0.6"/>
<text x="300.6" y="460.3" font-size="5.8" textLength="26.5" lengthAdjust="spacingAndGlyphs" fill="#222">Null.2416</text>
<rect x="286.4" y="463.7" width="10.6" height="10.6" fill="#f3f3f3"/>
<path d="M288.7 465.9L294.9 472.1M294.9 465.9L288.7 472.1" stroke="#333" stroke-width="0.6"/>
<text x="300.6" y="471.1" font-size="5.8" textLength="26.5" lengthAdjust="spacingAndGlyphs" fill="#222">Null.2419</text>
<rect x="286.4" y="474.5" width="10.6" height="10.6" fill="#f3f3f3"/>
<path d="M291.8 475.4L296.2 479.8L291.8 484.2L287.4 479.8Z" fill="none" stroke="#333" stroke-width="0.6"/>
<text x="300.6" y="481.9" font-size="5.8" textLength="26.5" lengthAdjust="spacingAndGlyphs" fill="#222">Null.2424</text>
<rect x="286.4" y="485.3" width="10.6" height="10.6" fill="#f3f3f3"/>
<path d="M291.8 494.7L296.0 487.6H287.6Z" fill="none" stroke="#333" stroke-width="0.6"/>
<text x="300.6" y="492.7" font-size="5.8" textLength="26.5" lengthAdjust="spacingAndGlyphs" fill="#222">Null.2425</text>
<text x="385.3" y="310.8" font-size="11.7" textLength="59.1" lengthAdjust="spacingAndGlyphs" fill="#222">Volcano plot</text>
<text x="385.3" y="322.8" font-size="11.7" textLength="155.0" lengthAdjust="spacingAndGlyphs" fill="#222">(FDR: 0.05, up: 844, down: 261)</text>
<rect x="384.6" y="332.2" width="299.2" height="203.6" fill="#fff"/>
<path d="M403.3 332.2V535.8M455.7 332.2V535.8M508.1 332.2V535.8M560.5 332.2V535.8M612.9 332.2V535.8M665.3 332.2V535.8M384.6 506.8H683.8M384.6 465.2H683.8M384.6 423.7H683.8M384.6 382.1H683.8M384.6 340.5H683.8" stroke="#f2f2f2" stroke-width="0.5"/>
<path d="M429.5 332.2V535.8M481.9 332.2V535.8M534.3 332.2V535.8M586.7 332.2V535.8M639.1 332.2V535.8M384.6 527.6H683.8M384.6 486.0H683.8M384.6 444.5H683.8M384.6 402.9H683.8M384.6 361.3H683.8" stroke="#e6e6e6" stroke-width="0.9"/>
<path d="M524.7 524.2h0M493.8 518.0h0M562.1 521.8h0M534.4 527.5h0M503.6 518.6h0M518.0 520.2h0M509.8 519.7h0M527.2 523.3h0M552.8 522.3h0M553.3 522.5h0M500.2 519.0h0M535.9 526.7h0M505.8 522.5h0M480.2 521.7h0M477.5 527.1h0M569.1 520.6h0M500.1 519.8h0M498.8 520.5h0M508.9 524.6h0M552.6 523.4h0M547.9 517.0h0M483.5 524.0h0M592.8 518.1h0M533.3 527.2h0M535.9 526.5h0M501.6 526.1h0M502.5 524.5h0M557.8 518.4h0M504.1 521.6h0M523.1 521.7h0M445.7 524.1h0M567.0 519.5h0M525.3 526.4h0M503.6 518.5h0M560.1 526.3h0M506.9 523.9h0M521.9 522.5h0M531.7 526.5h0M499.0 521.1h0M533.1 527.2h0M593.0 525.2h0M532.3 527.3h0M511.0 518.9h0M501.5 524.5h0M531.0 525.9h0M528.5 523.6h0M504.5 519.9h0M517.0 518.9h0M534.2 527.5h0M536.4 526.3h0M514.9 525.2h0M469.1 524.0h0M529.3 526.0h0M522.6 517.3h0M525.8 524.8h0M537.2 525.6h0M541.7 522.7h0M547.7 523.6h0M520.5 524.6h0M482.0 524.1h0M543.2 524.9h0M513.7 517.9h0M554.3 526.5h0M540.8 522.3h0M551.2 524.3h0M566.0 518.0h0M485.3 525.7h0M454.7 517.8h0M493.5 519.8h0M574.3 520.7h0M542.8 520.6h0M584.4 525.0h0M494.7 519.6h0M547.7 518.2h0M537.8 525.8h0M510.0 525.3h0M557.3 523.3h0M568.0 517.6h0M524.6 517.9h0M502.8 518.2h0M552.6 527.5h0M544.0 523.9h0M522.8 518.7h0M507.1 524.3h0M523.8 517.5h0M546.3 519.5h0M533.8 527.1h0M447.5 524.9h0M555.7 518.3h0M570.0 523.6h0M543.8 520.3h0M517.3 520.1h0M562.8 518.2h0M529.3 522.8h0M540.5 521.7h0M533.3 526.7h0M503.9 522.4h0M528.1 520.4h0M567.2 524.4h0M505.5 523.5h0M513.6 518.2h0M566.9 523.4h0M549.8 526.1h0M566.6 523.6h0M568.8 526.3h0M507.4 524.3h0M512.2 517.7h0M542.5 521.2h0M536.6 527.2h0M563.1 518.6h0M520.5 520.4h0M604.7 523.8h0M541.2 523.7h0M530.4 526.9h0M538.0 523.9h0M508.2 521.8h0M489.1 523.1h0M510.5 522.4h0M541.0 526.4h0M523.8 517.4h0M506.3 520.0h0M502.1 520.7h0M533.4 526.9h0M523.2 520.9h0M556.3 520.6h0M501.7 524.9h0M613.9 523.2h0M556.7 519.2h0M527.0 524.3h0M572.4 520.9h0M555.4 520.8h0M594.8 518.9h0M555.8 523.9h0M511.7 518.3h0M528.2 526.9h0M555.8 524.5h0M481.2 523.2h0M523.9 521.4h0M523.6 519.1h0M572.6 525.2h0M569.2 517.2h0M535.0 527.4h0M506.2 523.2h0M518.5 527.2h0M471.4 525.8h0M543.6 521.2h0M524.4 525.2h0M517.3 526.4h0M481.4 526.0h0M596.6 523.6h0M513.0 523.0h0M532.5 526.8h0M525.1 519.0h0M520.6 517.9h0M500.2 523.2h0M606.0 525.8h0M551.0 520.4h0M499.3 525.1h0M563.2 521.6h0M538.1 523.1h0M513.0 525.3h0M517.9 525.7h0M472.9 523.2h0M555.2 517.7h0M578.2 526.2h0M557.9 521.7h0M513.4 519.2h0M505.4 517.1h0M522.7 518.6h0M513.9 518.8h0M544.1 517.1h0M528.0 523.5h0M510.5 517.5h0M496.0 517.5h0M514.0 522.5h0M532.7 526.5h0M556.2 522.4h0M545.5 525.2h0M554.2 519.1h0M573.2 519.8h0M546.6 524.1h0M488.5 523.6h0M526.1 519.7h0M491.6 523.1h0M537.6 526.5h0M480.6 520.7h0M511.7 520.1h0M514.1 522.2h0M511.5 523.8h0M565.1 520.3h0M502.6 525.0h0M507.9 526.0h0M498.2 524.4h0M533.4 527.3h0M504.2 523.5h0M468.3 517.4h0M539.0 524.2h0M478.5 522.7h0M551.8 527.4h0M506.4 520.9h0M516.1 524.4h0M509.1 526.2h0M541.2 519.8h0M519.2 524.4h0M515.4 527.3h0M612.5 518.0h0M531.6 527.1h0M572.4 526.9h0M479.6 527.3h0M537.7 526.9h0M544.3 517.8h0M499.7 523.0h0M600.2 520.4h0M539.1 523.6h0M505.1 523.8h0M548.8 517.4h0M520.6 520.0h0M525.6 527.2h0M530.1 527.0h0M533.6 527.0h0M503.9 518.8h0M555.2 524.7h0M540.0 521.6h0M570.0 523.9h0M597.9 524.5h0M538.1 527.5h0M583.0 525.0h0M532.8 526.0h0M540.2 524.7h0M543.0 517.7h0M535.4 527.4h0M517.9 517.1h0M562.6 526.4h0M539.0 524.3h0M566.9 517.4h0M512.1 525.4h0M544.0 522.2h0M571.7 520.2h0M571.8 520.6h0M499.7 518.5h0M531.3 524.8h0M523.0 521.6h0M571.8 521.0h0M547.1 522.0h0M514.0 526.4h0M533.3 527.5h0M518.8 522.5h0M535.2 527.2h0M520.9 524.8h0M541.0 519.9h0M572.1 521.6h0M605.7 523.9h0M524.3 519.3h0M587.8 520.7h0M555.2 518.6h0M557.5 522.5h0M548.6 526.2h0M531.9 525.6h0M463.3 520.0h0M564.4 517.9h0M506.4 524.7h0M505.6 524.4h0M485.0 520.2h0M529.4 525.9h0M529.8 525.5h0M534.9 527.5h0M552.3 517.7h0M523.6 527.2h0M529.2 526.3h0M506.0 520.6h0M521.7 522.0h0M508.3 519.8h0M546.6 522.3h0M597.8 522.2h0M564.5 523.2h0M522.3 522.3h0M536.2 525.5h0M525.3 525.8h0M527.2 519.3h0M546.0 523.3h0M511.8 527.1h0M542.9 524.4h0M479.3 523.1h0M503.9 525.6h0M501.1 518.6h0M491.2 525.2h0M524.2 520.1h0M552.2 518.1h0M540.4 523.2h0M503.7 520.7h0M526.6 520.3h0M532.9 526.0h0M472.0 524.0h0M523.3 524.7h0M525.9 519.9h0M538.0 523.6h0M570.3 521.7h0M506.8 517.7h0M565.9 519.6h0M512.6 517.6h0M561.5 526.8h0M499.2 520.4h0M512.3 521.3h0M557.9 520.9h0M549.4 522.6h0M571.2 520.4h0M561.6 517.5h0M510.8 520.7h0M530.9 525.7h0M580.5 525.5h0M499.5 519.9h0M527.2 520.6h0M542.8 518.3h0M570.0 525.5h0M534.3 527.6h0M538.5 524.6h0M505.6 520.9h0M559.2 518.2h0M512.9 520.5h0M606.9 522.5h0M613.2 520.5h0M541.3 520.7h0M517.3 526.4h0M517.0 524.5h0M521.8 523.1h0M496.5 520.2h0M506.2 527.2h0M567.1 522.7h0M550.2 520.9h0M536.2 525.8h0M524.6 523.4h0M500.2 521.7h0M535.4 526.7h0M518.9 521.9h0M539.3 523.6h0M570.2 517.4h0M462.9 523.5h0M533.0 526.5h0M554.7 518.5h0M510.3 517.3h0M544.3 525.3h0M518.3 523.3h0M611.4 522.5h0M545.5 518.8h0M515.0 517.3h0M535.9 526.8h0M532.4 525.5h0M607.9 526.0h0M507.5 522.2h0M529.1 521.9h0M567.2 524.9h0M508.5 521.4h0M505.2 525.9h0M535.7 526.0h0M522.6 523.7h0M550.1 523.1h0M526.4 526.1h0M498.1 526.0h0M465.5 523.6h0M522.5 517.5h0M532.4 527.6h0M531.7 524.6h0M529.7 526.9h0M517.1 517.7h0M554.4 519.4h0M518.7 518.3h0M571.2 525.7h0M578.0 525.2h0M528.8 521.1h0M491.3 521.1h0M517.6 523.5h0M479.5 525.4h0M562.2 524.6h0M531.8 524.9h0M508.2 519.8h0M526.5 526.1h0M589.4 522.3h0M507.2 520.3h0M496.7 524.0h0M541.4 525.8h0M554.9 526.5h0M523.0 524.8h0M523.7 520.9h0M554.4 517.5h0M572.4 522.8h0M577.1 519.5h0M486.2 527.2h0M522.3 521.7h0M523.0 520.3h0M579.7 519.6h0M541.2 521.2h0M567.7 522.2h0M457.0 524.1h0M503.4 525.1h0M571.8 523.4h0M498.6 518.3h0M520.1 520.2h0M541.8 523.5h0M512.1 521.9h0M519.0 517.4h0M539.9 521.1h0M514.4 518.7h0M531.4 524.5h0M512.0 519.4h0M532.7 526.4h0M557.0 524.4h0M574.1 518.7h0M515.4 519.8h0M550.3 519.9h0M578.3 519.8h0M567.6 520.2h0M539.5 525.6h0M497.2 521.7h0M584.3 525.4h0M552.7 520.2h0M565.8 517.9h0M528.0 521.5h0M539.8 522.6h0M533.3 527.1h0M480.8 522.2h0M540.2 522.4h0M532.5 526.0h0M484.3 522.7h0M553.9 527.1h0M453.0 525.5h0M583.2 520.4h0M489.9 525.7h0M591.1 525.5h0M483.4 524.2h0M556.8 523.1h0M551.3 519.4h0M576.3 522.7h0M527.7 525.8h0M562.1 522.0h0M546.5 518.5h0M493.8 525.3h0M512.0 518.5h0M494.5 520.3h0M476.1 518.8h0M540.0 525.4h0M597.4 520.5h0M563.0 522.3h0M524.0 519.5h0M523.7 518.7h0M492.9 519.9h0M543.9 521.7h0M503.3 522.3h0M552.4 524.6h0M553.9 521.7h0M478.2 519.6h0M516.3 518.3h0M525.4 524.6h0M584.0 520.5h0M498.9 518.4h0M573.1 519.8h0M539.0 525.1h0M554.0 525.0h0M455.0 524.3h0M591.5 521.2h0M584.3 525.2h0M496.5 522.4h0M465.0 526.2h0M503.1 521.2h0M530.9 525.4h0M575.1 521.3h0M572.3 523.2h0M523.7 517.1h0M495.3 524.1h0M492.8 525.2h0M585.6 520.2h0M506.1 524.5h0M495.4 525.7h0M608.6 522.5h0M556.5 525.1h0M559.5 524.9h0M543.1 517.6h0M516.1 524.6h0M480.2 522.4h0M529.8 523.4h0M537.5 524.5h0M489.7 521.0h0M504.6 519.7h0M587.9 523.7h0M580.4 524.0h0M581.4 524.5h0M446.9 518.9h0M501.9 519.5h0M527.6 523.6h0M487.7 523.4h0M549.0 518.9h0M572.0 523.6h0M608.2 521.4h0M474.1 526.6h0M504.7 523.5h0M532.4 525.3h0M523.4 526.8h0M519.0 518.6h0M554.8 520.4h0M505.8 522.7h0M531.2 524.3h0M617.8 526.4h0M528.9 521.9h0M505.8 522.6h0M521.9 519.9h0M557.7 522.3h0M528.1 522.0h0M586.0 524.6h0M559.4 519.4h0M526.5 526.2h0M619.4 526.9h0M587.7 524.4h0M574.5 518.5h0M547.4 525.7h0M512.6 521.0h0M529.7 525.6h0M548.9 524.2h0M598.0 522.2h0M522.8 517.9h0M551.9 519.9h0M480.2 519.4h0M474.8 521.3h0M530.7 525.1h0M496.1 518.9h0M581.5 526.4h0M538.0 525.1h0M584.3 517.7h0M493.8 519.7h0M530.9 525.7h0M534.1 527.4h0M519.9 526.0h0M498.2 523.1h0M580.9 527.4h0M584.1 518.7h0M532.2 526.0h0M564.7 518.0h0M535.9 526.5h0M515.6 524.3h0M534.5 527.6h0M518.9 521.8h0M555.0 522.4h0M512.7 522.5h0M480.2 524.4h0M518.8 521.2h0M573.7 519.4h0M535.0 526.9h0M555.9 519.8h0M558.0 525.0h0M506.6 523.8h0M529.0 526.3h0M528.7 527.3h0M520.1 519.1h0M522.8 525.3h0M537.6 524.2h0M554.7 524.5h0M527.1 522.8h0M511.9 521.0h0M569.0 519.9h0M524.7 519.6h0M568.2 519.5h0M507.5 519.3h0M499.3 517.5h0M507.2 523.6h0M505.6 521.2h0M547.2 523.9h0M538.5 525.3h0M544.7 521.9h0M532.2 526.9h0M543.0 517.4h0M508.0 521.0h0M570.1 526.4h0M540.3 520.8h0M508.0 522.1h0M602.7 525.4h0M516.6 519.0h0M554.9 527.1h0M599.0 522.3h0M543.0 521.9h0M488.9 527.0h0M532.1 526.6h0M466.6 526.1h0M520.5 520.0h0M527.1 520.1h0M494.3 519.5h0M543.4 518.0h0M522.5 519.2h0M508.1 523.8h0M571.4 520.5h0M582.2 522.3h0M558.9 521.3h0M479.9 523.8h0M524.1 523.4h0M537.4 526.3h0M549.9 525.5h0M513.5 521.1h0M497.9 524.0h0M502.7 521.3h0M552.8 517.3h0M503.0 522.0h0M505.4 522.1h0M470.2 523.1h0M509.7 519.9h0M566.8 523.5h0M567.4 522.2h0M573.0 525.8h0M531.2 526.9h0M539.5 522.0h0M505.3 517.8h0M558.7 524.1h0M554.7 521.8h0M543.0 517.6h0M531.1 525.9h0M510.3 527.2h0M459.5 526.2h0M561.7 522.6h0M556.1 518.7h0M559.7 518.3h0M514.9 520.2h0M508.2 517.8h0M525.6 522.9h0M571.7 518.1h0M512.2 524.1h0M571.1 523.2h0M560.1 522.9h0M507.0 526.6h0M490.8 517.1h0M565.1 521.7h0M606.0 527.5h0M559.4 525.8h0M549.6 518.4h0M546.0 520.5h0M518.8 519.6h0M566.3 522.4h0M499.6 523.4h0M510.5 517.8h0M537.7 525.7h0M556.6 521.4h0M547.1 522.8h0M548.6 522.9h0M517.0 517.5h0M563.5 518.6h0M466.4 520.2h0M524.7 517.2h0M492.6 517.2h0M523.0 521.1h0M462.1 526.5h0M500.8 518.8h0M532.0 524.9h0M592.3 523.8h0M540.6 521.7h0M520.0 521.7h0M511.0 522.7h0M510.3 518.8h0M593.9 521.5h0M604.8 522.6h0M557.4 525.6h0M569.8 517.3h0M516.3 517.5h0M539.8 526.2h0M503.6 522.0h0M470.1 521.0h0M525.7 518.8h0M495.7 517.8h0M528.6 522.0h0M491.3 522.7h0M545.6 523.0h0M536.3 526.8h0M566.8 525.6h0M525.0 522.0h0M566.4 523.5h0M569.6 519.1h0M571.9 520.4h0M556.8 520.8h0M546.8 523.7h0M541.4 521.2h0M518.2 517.3h0M531.0 524.2h0M531.5 524.5h0M598.2 522.1h0M511.8 520.0h0M602.1 523.7h0M502.8 517.8h0M555.4 519.2h0M512.4 526.2h0M543.8 521.7h0M533.7 527.3h0M461.2 523.8h0M520.5 521.4h0M580.8 523.6h0M566.3 523.9h0M517.9 520.8h0M526.7 519.4h0M531.6 526.5h0M569.3 520.1h0M529.5 522.9h0M545.0 521.5h0M518.5 525.3h0M516.5 519.0h0M515.1 520.5h0M576.1 525.1h0M532.6 526.0h0M544.5 523.8h0M543.8 517.7h0M578.6 521.3h0M600.3 524.7h0M502.8 524.1h0M523.9 522.5h0M563.4 521.6h0M499.3 519.9h0M490.4 518.0h0M531.1 524.1h0M512.8 518.7h0M510.8 521.1h0M582.0 522.5h0M521.2 523.2h0M504.4 527.1h0M501.6 524.7h0M537.4 524.1h0M545.9 523.3h0M485.4 520.6h0M529.5 525.8h0M572.6 525.4h0M509.7 524.1h0M578.9 517.5h0M497.2 520.7h0M518.6 519.6h0M535.3 527.1h0M496.2 524.4h0M512.8 520.1h0M554.1 526.6h0M523.7 522.5h0M508.3 520.5h0M554.7 518.5h0M534.4 527.5h0M549.4 520.4h0M577.4 526.1h0M531.5 525.7h0M542.1 520.0h0M619.3 527.2h0M513.2 521.2h0M494.8 524.3h0M522.8 518.8h0M529.1 522.2h0M559.1 520.8h0M518.6 524.0h0M509.6 523.1h0M483.4 527.5h0M522.4 527.1h0M499.2 519.2h0M568.9 523.2h0M479.1 525.4h0M588.2 524.2h0M515.2 519.0h0M534.3 527.6h0M486.2 523.8h0M498.2 525.5h0M545.3 521.8h0M459.8 526.0h0M519.3 522.6h0M538.7 526.0h0M537.5 525.1h0M510.4 526.6h0M516.9 517.1h0M586.8 520.2h0M550.9 523.4h0M580.1 518.0h0M592.6 525.1h0M491.0 518.8h0M550.6 519.1h0M513.4 525.4h0M523.0 519.6h0M496.9 521.3h0M479.8 522.3h0M513.6 525.4h0M490.8 519.2h0M492.1 520.6h0M553.2 521.0h0M497.9 523.0h0M588.7 522.8h0M567.4 526.9h0M597.2 524.9h0M495.0 519.1h0M559.6 525.7h0M511.3 518.1h0M530.3 524.3h0M594.5 525.6h0M553.0 522.8h0M532.3 525.8h0M550.6 520.6h0M536.7 525.3h0M505.5 519.4h0M490.7 522.9h0M564.3 522.4h0M510.2 517.9h0M549.2 518.4h0M543.3 519.2h0M516.8 525.2h0M485.0 521.6h0M521.2 517.4h0M556.0 517.1h0M535.6 526.7h0M567.8 525.8h0M518.0 520.1h0M526.4 518.9h0M554.6 517.5h0M503.3 517.5h0M505.0 525.0h0M570.7 519.5h0M504.8 518.3h0M519.8 521.3h0M570.4 518.1h0M549.0 524.9h0M551.9 523.6h0M582.0 525.3h0M552.0 524.0h0M474.6 523.7h0M525.5 521.5h0M475.5 527.0h0M549.8 517.1h0M579.3 524.8h0M526.5 522.5h0M509.6 521.5h0M517.2 518.0h0M528.7 526.8h0M525.9 517.8h0M539.3 525.7h0M554.0 519.6h0M483.2 524.9h0M557.1 526.5h0M536.3 525.3h0M537.2 524.9h0M512.8 522.2h0M508.9 524.2h0M502.1 519.5h0M490.7 521.4h0M549.1 518.1h0M503.0 519.7h0M542.2 518.6h0M525.6 518.1h0M512.6 517.2h0M474.4 524.5h0M516.1 519.0h0M561.9 522.5h0M547.4 518.2h0M470.4 523.3h0M565.1 519.5h0M490.0 527.0h0M508.8 519.1h0M578.1 519.4h0M564.7 526.0h0M530.2 524.2h0M529.3 527.4h0M512.1 525.9h0M593.6 523.4h0M508.9 521.4h0M600.4 521.1h0M520.9 517.3h0M505.7 522.9h0M578.8 522.5h0M554.6 523.4h0M583.2 526.5h0M522.5 522.1h0M537.5 527.2h0M503.3 525.7h0M504.7 524.2h0M596.0 525.1h0M518.1 521.3h0M543.2 519.5h0M503.2 523.7h0M524.2 521.6h0M546.5 527.0h0M566.4 520.2h0M524.9 525.2h0M528.9 523.6h0M521.7 517.2h0M554.6 517.6h0M481.1 523.8h0M539.7 526.0h0M518.2 526.2h0M539.9 522.4h0M576.3 519.5h0M516.3 518.4h0M511.2 518.3h0M527.5 519.9h0M522.6 526.6h0M540.3 524.1h0M535.4 527.2h0M419.2 523.0h0M542.0 518.7h0M542.9 522.0h0M528.6 525.1h0M517.0 518.7h0M505.3 519.5h0M533.8 527.1h0M526.4 525.6h0M528.9 525.1h0M560.3 517.9h0M513.1 519.1h0M586.5 523.0h0M580.4 521.9h0M551.1 517.6h0M608.3 524.2h0M528.9 524.0h0M492.3 523.6h0M546.6 518.9h0M497.5 518.3h0M524.0 524.0h0M562.6 517.5h0M623.2 525.2h0M506.9 518.1h0M522.3 522.2h0M528.7 521.7h0M553.5 518.2h0M541.0 524.5h0M579.8 518.1h0M519.9 522.6h0M585.2 523.3h0M496.6 523.7h0M526.9 524.4h0M528.4 526.3h0M521.9 524.7h0M541.9 521.1h0M530.8 525.5h0M559.9 520.9h0M543.6 518.8h0M487.6 518.4h0M501.0 519.7h0M547.5 521.6h0M504.6 518.7h0M508.5 524.2h0M557.6 520.7h0M546.4 518.2h0M543.9 517.7h0M533.5 526.8h0M535.7 526.6h0M500.1 519.0h0M545.1 524.9h0M510.1 517.7h0M612.3 525.9h0M546.2 522.9h0M538.2 526.2h0M577.8 522.3h0M509.9 519.8h0M539.5 526.8h0M532.6 525.7h0M527.2 519.7h0M596.2 522.9h0M571.5 521.4h0M586.6 523.7h0M542.4 522.8h0M543.8 520.1h0M509.7 520.3h0M513.2 520.3h0M536.4 526.4h0M481.6 522.4h0M537.3 524.1h0M593.1 521.1h0M548.2 517.8h0M563.7 521.9h0M515.7 524.3h0M510.6 523.7h0M488.7 518.6h0M552.5 517.1h0M532.2 525.6h0M546.3 525.5h0M509.7 517.5h0M535.3 526.5h0M563.6 517.9h0M534.8 527.2h0M556.6 519.5h0M569.6 520.9h0M539.1 527.5h0M550.7 518.4h0M564.0 526.1h0M561.9 521.1h0M573.7 518.0h0M469.1 518.0h0M497.5 525.2h0M506.5 524.1h0M549.9 518.5h0M551.5 522.1h0M594.6 520.3h0M536.4 526.6h0M521.2 518.2h0M547.7 519.2h0M474.3 524.1h0M608.2 524.7h0M569.1 520.7h0M515.7 518.6h0M518.2 518.5h0M598.2 521.2h0M544.9 521.4h0M491.7 523.6h0M518.0 522.5h0M569.6 522.3h0M549.8 525.8h0M500.2 519.8h0M504.7 521.7h0M548.6 520.2h0M492.2 519.0h0M510.2 526.2h0M530.5 523.3h0M563.4 517.5h0M515.6 526.3h0M524.9 522.2h0M538.2 523.2h0M520.4 517.3h0M526.2 524.2h0M581.4 521.1h0M584.9 523.4h0M562.1 525.0h0M610.2 521.6h0M575.3 520.0h0M524.7 523.9h0M565.8 523.0h0M559.4 521.4h0M587.5 527.5h0M510.9 521.9h0M567.5 520.9h0M492.4 526.8h0M528.5 521.0h0M548.0 519.2h0M484.9 522.7h0M486.7 521.5h0M554.4 525.9h0M524.2 518.0h0M559.5 525.5h0M497.7 518.3h0M569.0 525.0h0M515.2 523.7h0M537.7 523.6h0M495.0 525.3h0M529.3 521.7h0M541.1 524.7h0M521.4 521.1h0M489.7 518.0h0M547.9 517.8h0M568.1 520.5h0M486.9 524.7h0M600.9 526.3h0M559.6 519.5h0M487.6 525.6h0M544.5 519.8h0M552.0 519.3h0M543.2 520.8h0M502.0 526.0h0M579.2 519.2h0M550.4 521.0h0M539.5 524.3h0M582.7 522.4h0M546.1 518.6h0M550.2 521.9h0M497.5 519.6h0M603.1 520.3h0M562.3 519.4h0M553.9 525.9h0M550.1 520.4h0M508.4 518.8h0M525.0 517.5h0M633.3 521.2h0M506.1 522.1h0M500.9 523.6h0M500.0 522.0h0M527.7 520.8h0M489.7 525.8h0M548.6 527.4h0M566.6 526.1h0M523.6 523.3h0M489.0 523.9h0M571.9 527.1h0M497.7 520.7h0M475.5 525.0h0M536.7 526.4h0M564.2 521.7h0M543.3 521.0h0M507.7 520.0h0M503.1 521.4h0M515.9 521.4h0M499.9 524.7h0M496.6 518.1h0M539.3 522.4h0M494.2 520.6h0M509.2 519.0h0M546.2 523.4h0M477.8 524.9h0M520.9 524.1h0M481.0 523.4h0M523.6 520.2h0M517.7 521.9h0M523.9 517.7h0M576.8 518.8h0M535.7 527.2h0M485.5 523.0h0M527.4 523.5h0M551.6 523.7h0M541.2 524.8h0M466.6 523.1h0M513.8 520.0h0M495.2 522.9h0M531.1 525.8h0M513.7 518.6h0M527.4 523.1h0M535.6 527.3h0M513.1 525.8h0M577.6 520.2h0M508.4 517.0h0M538.0 526.6h0M527.1 523.0h0M535.9 526.0h0M574.7 520.7h0M501.5 520.6h0M556.4 517.6h0M500.6 517.2h0M549.5 525.7h0M495.1 518.8h0M525.6 520.5h0M511.8 524.4h0M519.6 526.2h0M561.6 524.1h0M565.3 523.1h0M532.5 525.8h0M513.7 526.5h0M560.3 520.3h0M498.1 523.9h0M488.7 521.4h0M530.0 524.3h0M529.7 527.1h0M539.1 525.2h0M532.8 527.4h0M618.6 525.1h0M503.0 526.4h0M482.6 523.3h0M562.1 523.4h0M509.4 526.1h0M497.3 521.3h0M527.5 520.6h0M514.5 526.5h0M542.4 523.0h0M471.2 522.5h0M578.2 518.9h0M558.3 518.5h0M522.6 521.9h0M564.9 522.3h0M526.9 523.1h0M551.8 525.9h0M508.1 518.5h0M542.4 521.9h0M580.7 518.4h0M531.5 525.2h0M500.7 520.6h0M463.2 523.9h0M555.7 526.2h0M503.5 518.9h0M542.7 525.0h0M590.0 526.7h0M515.5 520.8h0M539.1 522.7h0M531.3 527.4h0M540.3 524.7h0M518.3 521.0h0M557.8 517.2h0M514.9 525.7h0M449.2 522.3h0M482.4 522.7h0M579.5 521.5h0M563.1 522.6h0M627.0 520.7h0M506.1 519.4h0M499.1 518.5h0M565.6 518.1h0M522.8 527.3h0M492.1 525.4h0M545.0 525.9h0M532.8 527.1h0M513.6 519.9h0M512.0 524.3h0M512.1 526.7h0M532.9 526.9h0M517.3 522.6h0M498.1 520.7h0M563.8 519.5h0M574.9 523.2h0M527.7 522.7h0M533.4 527.0h0M564.0 524.4h0M512.7 519.4h0M544.0 517.6h0M571.6 517.7h0M525.5 519.8h0M472.6 522.2h0M516.4 520.4h0M557.2 522.4h0M534.8 527.0h0M531.6 525.0h0M544.0 523.3h0M533.8 527.5h0M550.9 522.0h0M538.8 524.4h0M564.7 521.6h0M493.4 519.5h0M550.5 524.8h0M549.0 525.9h0M497.4 521.4h0M542.2 525.8h0M545.2 518.8h0M476.3 519.9h0M542.8 522.6h0M526.5 521.9h0M553.2 517.1h0M524.8 520.9h0M495.5 522.0h0M530.4 525.9h0M488.6 517.5h0M597.7 523.5h0M543.0 524.2h0M548.9 522.9h0M565.7 519.4h0M498.6 517.3h0M530.9 523.8h0M553.9 523.8h0M563.6 520.1h0M562.5 525.6h0M484.8 525.7h0M524.8 517.8h0M519.0 522.0h0M578.1 522.8h0M562.1 524.0h0M535.0 526.9h0M557.1 521.5h0M496.9 520.1h0M528.4 524.7h0M539.3 525.9h0M521.0 527.4h0M513.2 525.7h0M529.8 525.0h0M497.4 519.5h0M530.1 523.6h0M568.9 520.9h0M550.3 527.5h0M542.2 524.1h0M516.2 518.0h0M598.2 526.1h0M548.0 526.4h0M491.2 520.3h0M522.6 517.1h0M551.1 521.3h0M549.3 526.8h0M571.4 517.7h0M538.8 526.2h0M576.8 519.3h0M502.8 526.6h0M544.7 522.2h0M522.5 526.0h0M526.1 522.3h0M565.6 518.0h0M599.5 520.2h0M565.8 522.1h0M518.6 523.9h0M529.4 522.4h0M549.4 522.4h0M594.7 524.8h0M526.4 524.7h0M454.4 522.1h0M555.8 518.0h0M498.4 517.1h0M556.1 518.3h0M566.0 524.2h0M533.6 526.9h0M490.8 524.4h0M556.6 525.2h0M520.6 521.3h0M535.1 527.5h0M512.3 525.5h0M541.5 525.2h0M493.4 522.6h0M525.6 520.0h0M556.9 518.7h0M527.4 523.7h0M524.7 523.3h0M575.2 518.6h0M612.2 520.1h0M562.1 523.7h0M490.7 524.1h0M537.5 524.4h0M531.3 524.6h0M565.5 521.9h0M535.1 526.9h0M551.6 517.3h0M536.2 527.0h0M524.1 518.5h0M502.8 520.7h0M548.4 520.2h0M536.1 526.0h0M575.9 520.8h0M515.2 527.2h0M538.4 525.4h0M549.2 524.0h0M519.2 517.3h0M525.2 520.0h0M526.8 521.0h0M547.4 527.5h0M586.5 526.2h0M527.3 522.1h0M531.5 526.3h0M564.2 520.1h0M586.7 524.9h0M541.6 521.4h0M554.8 521.9h0M512.0 524.7h0M616.7 524.1h0M512.5 517.3h0M571.7 522.5h0M543.7 520.6h0M613.2 519.5h0M553.9 517.8h0M549.4 527.4h0M584.3 524.8h0M573.6 521.6h0M548.9 517.7h0M589.6 524.3h0M507.4 522.3h0M501.4 527.4h0M542.5 519.9h0M535.0 527.1h0M539.6 522.2h0M574.3 523.2h0M495.8 520.3h0M533.9 527.3h0M571.0 523.1h0M496.8 517.2h0M506.1 518.4h0M478.6 524.9h0M529.7 524.1h0M504.8 525.8h0M514.3 525.8h0M566.7 519.3h0M572.2 524.8h0M581.9 525.1h0M559.3 519.2h0M504.9 519.3h0M542.4 525.5h0M531.9 524.8h0M579.5 520.0h0M511.6 524.7h0M579.0 518.5h0M479.6 526.3h0M534.9 527.3h0M491.3 518.7h0M514.6 520.4h0M531.9 524.9h0M513.9 520.6h0M499.4 518.7h0M502.1 519.2h0M576.4 519.9h0M501.8 517.8h0M512.7 521.9h0M544.2 524.7h0M521.7 519.4h0M510.1 519.1h0M545.9 520.1h0M509.1 520.7h0M583.6 521.8h0M527.1 520.4h0M520.8 518.4h0M588.8 520.3h0M535.6 526.4h0M554.7 520.1h0M528.4 527.0h0M565.9 518.8h0M530.3 525.3h0M537.7 525.2h0M565.7 527.5h0M539.8 523.7h0M502.8 524.7h0M501.3 523.6h0M511.9 519.5h0M541.8 519.1h0M478.9 523.5h0M531.0 524.7h0M536.5 526.8h0M603.3 522.6h0M560.9 525.8h0M531.1 525.2h0M609.8 524.0h0M555.0 518.0h0M496.5 518.9h0M537.7 526.2h0M543.0 522.2h0M569.9 519.5h0M547.1 519.6h0M499.8 521.2h0M541.2 523.5h0M537.4 524.2h0M582.5 523.5h0M546.9 517.7h0M574.0 523.6h0M536.7 527.5h0M538.3 524.0h0M555.5 518.6h0M551.1 525.2h0M568.7 522.5h0M566.5 522.8h0M553.5 517.9h0M540.4 527.5h0M563.7 517.1h0M544.5 520.3h0M572.2 518.4h0M502.7 520.5h0M585.8 526.0h0M517.5 518.4h0M523.7 523.3h0M528.5 522.9h0M522.9 525.4h0M522.2 521.0h0M594.0 523.9h0M514.9 517.2h0M580.3 522.9h0M505.6 522.2h0M520.9 518.1h0M459.9 522.5h0M499.1 517.7h0M547.9 519.1h0M505.4 524.5h0M564.9 525.7h0M523.8 524.0h0M579.9 525.2h0M569.6 525.3h0M522.5 524.9h0M580.6 524.3h0M467.1 526.0h0M522.8 517.4h0M534.4 527.5h0M531.2 526.7h0M524.6 526.9h0M544.8 520.5h0M525.2 527.2h0M575.4 525.4h0M509.1 526.9h0M530.9 525.5h0M547.1 523.1h0M550.2 523.0h0M576.6 523.6h0M516.1 526.0h0M562.0 522.1h0M531.3 524.5h0M476.7 523.8h0M559.6 524.2h0M566.9 517.5h0M546.5 524.8h0M509.1 523.2h0M469.1 526.4h0M548.1 518.0h0M563.0 521.9h0M514.3 519.9h0M522.0 519.6h0M544.2 519.5h0M534.4 527.6h0M524.6 517.6h0M588.2 524.0h0M463.6 524.9h0M466.4 520.9h0M511.2 523.2h0M503.9 520.9h0M486.6 522.6h0M535.9 526.8h0M529.7 522.8h0M533.3 527.3h0M502.1 521.7h0M573.4 520.2h0M484.5 523.1h0M568.0 520.8h0M556.4 518.6h0M497.6 522.4h0M537.5 523.9h0M538.8 525.5h0M541.5 520.4h0M467.9 523.2h0M526.1 518.1h0M512.6 518.8h0M532.7 526.0h0M503.8 524.7h0M539.4 522.3h0M494.7 525.0h0M572.1 520.1h0M580.2 526.1h0M565.3 523.7h0M490.5 522.7h0M579.4 518.8h0M557.3 522.1h0M534.0 527.5h0M538.0 524.7h0M548.7 519.8h0M539.1 523.8h0M526.1 518.1h0M565.9 522.8h0M527.5 521.9h0M523.6 521.9h0M533.7 527.2h0M529.3 524.5h0M537.4 526.1h0M633.3 523.5h0M518.9 518.6h0M547.2 522.9h0M538.7 526.6h0M551.0 522.1h0M525.3 518.3h0M516.3 517.2h0M533.2 527.3h0M535.9 526.1h0M499.1 520.9h0M507.3 524.0h0M454.8 525.1h0M520.7 522.0h0M514.5 521.2h0M507.7 525.6h0M563.0 517.4h0M492.5 517.5h0M568.2 520.0h0M526.2 526.0h0M494.8 521.9h0M534.9 527.3h0M513.2 523.2h0M512.1 523.2h0M569.8 521.5h0M550.5 526.6h0M449.2 522.2h0M537.3 527.2h0M490.6 517.7h0M555.0 518.3h0M514.7 525.9h0M579.9 523.0h0M599.5 523.8h0M565.2 521.5h0M489.2 519.5h0M525.5 519.5h0M522.3 521.5h0M550.1 524.4h0M600.2 523.0h0M526.8 519.3h0M525.0 517.1h0M525.7 520.5h0M539.9 525.2h0M615.0 522.8h0M552.1 517.4h0M515.4 524.0h0M579.5 522.2h0M497.3 521.3h0M564.2 517.8h0M546.3 518.5h0M514.3 518.0h0M563.2 524.7h0M499.0 523.9h0M505.1 519.6h0M541.9 520.9h0M589.1 527.1h0M505.4 520.6h0M554.5 526.0h0M578.1 520.6h0M544.1 519.0h0M565.9 518.0h0M532.3 526.2h0M565.5 524.3h0M550.4 522.7h0M568.8 524.7h0M560.8 525.6h0M520.5 525.8h0M509.0 523.8h0M519.3 521.5h0M544.0 525.0h0M499.5 522.0h0M509.3 521.6h0M534.5 527.5h0M606.4 523.4h0M565.4 524.2h0M479.8 519.6h0M546.4 522.7h0M522.6 518.4h0M448.5 521.2h0M544.2 525.1h0M490.8 524.3h0M568.4 520.9h0M497.1 525.1h0M517.1 521.0h0M499.0 526.5h0M541.5 527.0h0M518.4 525.5h0M540.2 524.3h0M514.2 523.8h0M564.6 524.7h0M526.4 525.2h0M555.2 520.9h0M515.3 518.5h0M551.8 519.4h0M481.6 524.6h0M545.5 526.8h0M572.1 526.2h0M516.2 525.1h0M493.7 525.8h0M548.2 519.5h0M524.3 520.5h0M582.5 525.5h0M536.0 526.1h0M551.1 524.5h0M568.5 518.6h0M519.6 521.6h0M563.2 518.6h0M475.9 523.8h0M531.8 524.6h0M509.4 521.5h0M541.1 526.7h0M566.5 518.8h0M541.7 526.7h0M518.2 527.3h0M601.1 525.8h0M520.6 527.1h0M480.4 524.8h0M600.3 524.6h0M536.0 526.6h0M529.3 524.8h0M509.6 523.0h0M503.4 517.2h0M502.5 518.1h0M491.2 525.7h0M528.0 520.8h0M570.7 525.6h0M518.4 519.5h0M546.4 521.3h0M548.2 523.1h0M509.6 520.1h0M553.5 525.9h0M530.3 525.4h0M578.7 520.4h0M574.2 523.6h0M524.7 517.8h0M524.8 517.7h0M586.2 523.7h0M549.6 525.7h0M536.8 525.0h0M520.5 521.0h0M512.6 519.0h0M592.0 526.4h0M502.6 517.7h0M560.6 524.6h0M543.2 523.9h0M545.7 522.9h0M615.1 521.6h0M498.2 524.9h0M493.7 519.7h0M526.1 521.5h0M512.8 522.7h0M574.8 518.5h0M477.7 522.6h0M520.5 517.6h0M508.6 523.0h0M512.9 521.4h0M576.0 525.0h0M527.6 521.3h0M540.6 521.0h0M488.8 524.0h0M492.7 522.7h0M478.1 524.7h0M542.0 521.7h0M567.8 520.3h0M535.1 526.6h0M522.3 518.0h0M555.4 524.4h0M535.0 527.2h0M540.4 521.6h0M523.3 526.6h0M536.1 526.2h0M557.1 525.2h0M457.4 520.2h0M505.5 520.3h0M498.4 520.2h0M500.8 525.1h0M541.2 520.4h0M533.7 527.4h0M517.0 521.3h0M545.7 524.3h0M567.8 524.9h0M490.4 523.4h0M552.5 519.6h0M562.4 519.8h0M543.5 520.9h0M550.0 517.6h0M524.1 517.2h0M496.3 523.3h0M567.8 521.2h0M508.8 521.8h0M551.2 519.5h0M578.3 518.0h0M567.2 523.4h0M539.6 525.0h0M539.8 526.9h0M567.9 519.2h0M574.1 522.0h0M502.1 527.1h0M488.3 518.0h0M543.4 520.0h0M551.2 522.1h0M534.4 527.5h0M535.6 527.4h0M520.2 526.9h0M540.3 522.0h0M485.1 523.9h0M545.6 518.7h0M575.2 523.4h0M533.7 527.3h0M504.6 524.7h0M542.7 521.3h0M534.4 527.5h0M554.1 520.9h0M543.7 526.5h0M517.1 521.9h0M549.7 521.0h0M527.4 521.6h0M605.9 523.2h0M542.6 526.2h0M538.0 526.7h0M563.7 519.6h0M552.9 522.5h0M564.4 523.8h0M521.0 527.1h0M562.8 520.6h0M555.5 518.2h0M571.8 522.6h0M576.3 523.5h0M507.6 523.5h0M503.3 520.6h0M517.8 518.3h0M577.1 519.3h0M543.5 518.6h0M490.0 520.7h0M527.4 525.1h0M486.5 526.5h0M553.1 519.8h0M533.9 527.5h0M551.1 524.4h0M557.3 524.2h0M557.2 524.7h0M583.4 522.1h0M522.5 521.9h0M556.1 527.0h0M589.0 523.8h0M522.2 518.3h0M559.8 521.5h0M545.3 518.7h0M541.1 523.8h0M572.5 520.5h0M538.2 524.7h0M552.5 519.2h0M563.3 521.9h0M564.8 522.4h0M488.5 517.5h0M528.9 521.4h0M547.8 526.0h0M591.8 523.8h0M487.6 517.6h0M526.7 527.2h0M534.6 527.3h0M586.4 523.9h0M511.8 521.4h0M521.0 518.0h0M558.7 521.3h0M494.0 521.9h0M555.3 522.7h0M521.8 527.4h0M489.6 517.9h0M561.2 517.5h0M569.5 524.3h0M476.1 523.6h0M534.9 527.0h0M532.2 526.8h0M519.5 526.3h0M495.2 521.4h0M460.3 520.9h0M549.5 521.0h0M534.4 527.6h0M572.3 522.7h0M558.2 524.9h0M569.0 524.0h0M523.5 525.4h0M546.7 522.6h0M555.9 517.9h0M609.8 522.3h0M516.4 525.3h0M537.1 526.0h0M504.9 526.9h0M484.2 525.3h0M547.6 524.8h0M523.0 518.4h0M528.8 523.9h0M550.9 525.1h0M485.3 523.0h0M565.2 519.5h0M482.3 522.7h0M567.1 519.7h0M533.2 527.3h0M558.2 523.5h0M546.8 518.0h0M465.5 522.3h0M521.9 521.2h0M515.2 522.3h0M569.6 522.3h0M502.2 525.5h0M516.3 525.4h0M477.0 522.8h0M474.0 519.3h0M509.7 523.1h0M483.2 519.0h0M499.4 520.7h0M492.4 522.0h0M504.4 523.8h0M523.6 522.6h0M511.9 526.2h0M518.4 527.5h0M504.9 517.9h0M591.2 524.1h0M576.5 523.1h0M507.3 526.3h0M546.4 517.8h0M529.2 525.4h0M573.8 518.5h0M489.6 525.3h0M536.9 526.0h0M526.6 526.3h0M519.1 522.7h0M532.7 527.1h0M548.1 523.1h0M519.7 518.5h0M499.8 518.3h0M518.6 523.6h0M498.0 523.8h0M480.1 523.8h0M551.4 518.7h0M527.5 519.7h0M539.0 527.1h0M557.1 523.5h0M523.7 527.1h0M519.8 520.4h0M567.7 520.7h0M520.9 520.4h0M531.1 527.1h0M567.6 522.2h0M526.3 518.6h0M517.9 526.5h0M586.6 525.4h0M541.3 526.4h0M550.3 525.4h0M539.7 526.6h0M532.4 525.7h0M542.7 520.0h0M544.2 525.5h0M502.4 521.6h0M507.9 523.4h0M545.4 520.0h0M541.2 523.3h0M488.2 522.8h0M505.8 517.6h0M490.7 520.7h0M574.4 520.0h0M531.2 525.3h0M532.0 527.2h0M533.0 526.4h0M569.9 523.3h0M543.0 525.3h0M543.6 523.1h0M545.4 523.7h0M505.6 518.2h0M502.2 518.5h0M541.4 525.2h0M507.8 526.5h0M502.3 521.2h0M542.7 524.7h0M557.9 520.3h0M551.1 521.0h0M567.6 518.3h0M513.3 524.1h0M557.3 526.8h0M556.2 517.3h0M489.8 518.9h0M495.6 527.4h0M511.5 521.7h0M548.9 517.2h0M532.0 525.8h0M533.8 527.3h0M540.8 521.6h0M522.0 523.5h0M542.1 523.7h0M492.2 526.0h0M512.1 523.8h0M545.3 526.2h0M514.4 520.0h0M495.8 517.2h0M550.0 523.7h0M481.6 523.3h0M581.4 523.2h0M557.6 518.2h0M529.4 525.3h0M544.8 522.2h0M525.1 524.1h0M578.9 519.4h0M508.8 523.2h0M597.0 520.9h0M592.5 521.2h0M521.5 523.4h0M542.5 525.8h0M551.0 522.5h0M567.8 521.0h0M521.0 522.8h0M506.7 519.5h0M533.8 527.3h0M466.2 521.5h0M515.4 518.3h0M501.6 517.3h0M537.5 525.8h0M555.6 520.9h0M485.1 520.4h0M556.7 522.3h0M533.6 527.0h0M514.1 519.5h0M550.7 519.2h0M495.3 520.7h0M510.2 518.8h0M564.2 527.0h0M538.6 523.9h0M559.4 518.1h0M544.0 519.1h0M493.7 520.1h0M520.3 518.2h0M567.1 521.5h0M530.2 525.4h0M559.7 517.3h0M535.6 526.9h0M497.1 517.5h0M562.6 518.3h0M524.0 518.0h0M477.4 517.8h0M601.2 524.2h0M515.9 519.4h0M462.1 522.2h0M606.0 523.8h0M475.7 524.5h0M527.4 520.4h0M561.6 518.3h0M513.4 518.0h0M544.8 522.7h0M535.8 526.4h0M524.9 518.6h0M517.8 525.4h0M507.2 519.6h0M540.9 526.7h0M543.5 523.9h0M523.6 524.4h0M554.5 524.8h0M561.3 525.8h0M519.2 521.9h0M483.6 521.5h0M534.0 527.5h0M514.3 522.2h0M558.1 519.2h0M525.8 518.6h0M572.7 523.4h0M554.1 521.1h0M605.7 526.0h0M474.4 526.2h0M531.7 524.7h0M509.1 519.4h0M499.2 522.2h0M540.2 525.6h0M550.6 522.0h0M523.5 517.1h0M535.3 527.2h0M502.5 520.7h0M512.8 522.0h0M518.4 518.6h0M457.6 521.9h0M574.9 526.1h0M516.5 518.4h0M561.0 521.1h0M539.7 523.2h0M569.6 517.4h0M550.1 518.5h0M526.6 521.0h0M555.3 521.1h0M525.0 520.2h0M516.9 526.3h0M562.1 523.8h0M591.9 524.8h0M586.7 524.4h0M576.7 526.9h0M495.2 526.5h0M500.6 517.2h0M528.0 522.8h0M498.2 526.7h0M501.1 525.4h0M532.1 525.3h0M518.5 524.5h0M491.2 524.5h0M581.2 523.2h0M512.6 523.2h0M496.3 517.6h0M520.7 524.7h0M552.4 525.2h0M543.2 526.2h0M530.5 524.1h0M662.0 526.4h0M500.9 517.6h0M480.6 520.6h0M494.8 519.2h0M567.3 524.1h0M566.5 522.1h0M515.3 524.2h0M488.7 524.9h0M552.5 517.9h0M541.2 520.2h0M544.2 520.4h0M533.1 527.0h0M574.6 521.9h0M522.3 519.3h0M589.2 524.7h0M540.2 520.7h0M506.4 522.2h0M523.4 517.2h0M546.4 517.9h0M522.3 523.0h0M554.3 522.6h0M539.7 524.2h0M509.0 521.7h0M491.0 520.6h0M501.9 517.3h0M558.0 517.8h0M497.6 518.3h0M469.0 520.5h0M553.6 518.5h0M526.1 518.9h0M516.8 519.9h0M508.7 526.1h0M488.9 519.2h0M559.5 517.8h0M496.2 524.8h0M515.1 522.1h0M496.0 518.8h0M465.2 521.8h0M561.2 521.5h0M508.5 523.4h0M520.6 523.3h0M549.3 520.1h0M568.0 519.8h0M514.7 523.7h0M531.0 524.6h0M502.2 520.7h0M482.8 521.8h0M528.6 525.8h0M548.0 517.5h0M520.3 518.9h0M525.2 526.3h0M562.8 519.5h0M522.5 517.4h0M533.4 527.2h0M605.3 524.7h0M546.8 524.3h0M528.3 522.3h0M534.6 527.3h0M485.2 525.3h0M580.5 517.8h0M572.0 523.2h0M567.4 518.0h0M506.9 519.6h0M555.6 524.0h0M470.0 526.4h0M493.7 519.9h0M600.0 523.7h0M578.2 522.9h0M557.8 525.4h0M545.3 517.9h0M540.8 524.1h0M517.0 517.4h0M537.8 527.1h0M522.8 517.0h0M540.9 526.1h0M522.8 521.1h0M545.4 519.1h0M507.5 521.8h0M512.5 520.9h0M524.4 517.3h0M577.9 518.4h0M506.6 523.2h0M522.3 524.8h0M530.4 523.7h0M601.5 521.9h0M499.5 524.5h0M554.0 517.5h0M533.7 527.2h0M555.2 518.3h0M522.9 518.9h0M507.1 522.4h0M512.7 517.7h0M590.4 525.2h0M535.4 527.1h0M558.4 519.7h0M608.4 524.6h0M532.3 526.2h0M490.1 520.2h0M553.9 526.1h0M569.8 525.7h0M521.1 517.2h0M589.2 525.1h0M580.3 522.3h0M522.3 520.1h0M517.3 521.4h0M558.7 520.2h0M552.5 519.2h0M529.3 527.0h0M521.5 520.2h0M526.7 519.7h0M570.4 525.6h0M533.4 527.1h0M547.7 517.8h0M558.3 523.3h0M547.9 523.0h0M558.4 525.7h0M506.3 521.5h0M527.1 522.0h0M563.3 519.2h0M530.3 523.8h0M589.6 522.5h0M583.5 518.7h0M546.1 521.7h0M530.7 523.8h0M549.1 517.8h0M562.3 525.7h0M537.6 525.6h0M542.3 520.7h0M519.9 518.0h0M504.3 525.7h0M575.2 517.9h0M533.5 527.6h0M535.0 527.4h0M536.3 525.2h0M563.6 518.5h0M566.8 517.2h0M500.9 526.2h0M529.6 522.7h0M546.1 519.5h0M536.7 526.7h0M520.1 523.4h0M551.3 524.0h0M507.4 521.5h0M515.7 517.3h0M459.5 523.1h0M513.9 524.8h0M500.0 520.4h0M531.7 524.8h0M528.0 523.3h0M560.8 517.8h0M526.8 519.7h0M526.0 520.3h0M534.1 527.5h0M550.2 524.8h0M572.9 525.5h0M536.3 526.6h0M552.1 518.9h0M562.4 522.4h0M553.7 517.6h0M537.5 524.8h0M509.5 523.4h0M517.6 526.6h0M511.8 524.8h0M582.4 524.6h0M538.4 525.4h0M525.5 520.5h0M553.9 524.9h0M526.3 522.8h0M526.5 519.2h0M551.0 525.8h0M525.1 523.8h0M546.8 523.0h0M510.5 524.3h0M528.3 525.8h0M526.6 525.1h0M555.9 524.9h0M483.1 519.0h0M588.3 519.9h0M537.4 524.5h0M533.0 526.3h0M541.9 520.4h0M570.3 526.2h0M587.9 527.0h0M507.7 518.5h0M547.9 519.8h0M606.6 527.0h0M541.0 526.4h0M570.4 526.6h0M573.2 523.0h0M496.1 517.6h0M505.4 517.8h0M580.3 518.4h0M502.0 523.4h0M567.3 525.9h0M531.9 524.9h0M477.7 521.8h0M552.8 521.6h0M510.8 526.0h0M542.8 522.5h0M538.9 525.2h0M576.0 518.4h0M514.4 523.9h0M525.0 524.0h0M585.2 524.5h0M537.5 525.4h0M504.2 517.9h0M561.7 524.9h0M528.4 521.1h0M492.0 524.2h0M461.3 519.2h0M491.0 519.5h0M574.3 526.3h0M541.5 526.4h0M550.9 525.3h0M541.7 518.8h0M549.7 520.6h0M554.8 517.2h0M543.1 519.7h0M489.5 523.4h0M537.0 527.3h0M506.7 519.1h0M544.3 517.9h0M537.4 525.1h0M577.7 524.2h0M466.3 520.9h0M552.0 519.3h0M543.8 524.4h0M604.3 517.4h0M503.0 526.2h0M504.8 526.2h0M556.2 523.2h0M499.1 523.9h0M487.6 521.4h0M504.6 520.4h0M537.9 527.0h0M493.4 522.7h0M535.0 526.8h0M512.7 520.4h0M561.3 517.6h0M528.1 522.5h0M589.4 524.8h0M568.3 519.0h0M572.0 519.3h0M547.2 520.1h0M512.5 517.7h0M485.2 524.4h0M606.3 523.5h0M544.1 525.5h0M574.6 518.6h0M563.4 526.1h0M548.0 519.4h0M497.4 526.3h0M547.9 517.6h0M491.5 524.3h0M580.6 519.8h0M519.9 523.7h0M565.3 522.2h0M499.6 523.5h0M469.4 521.6h0M544.0 519.7h0M549.9 518.5h0M538.9 523.5h0M527.2 520.8h0M573.9 522.9h0M547.5 523.9h0M511.4 517.8h0M578.0 522.3h0M532.6 525.6h0M562.0 517.3h0M532.7 526.5h0M587.3 518.8h0M573.4 521.3h0M562.1 521.3h0M508.3 521.1h0M505.8 526.2h0M534.8 527.5h0M560.3 522.6h0M544.1 517.1h0M539.5 522.2h0M537.6 524.2h0M480.6 524.1h0M474.8 525.0h0M518.3 522.1h0M635.3 522.1h0M505.0 517.3h0M522.2 523.8h0M501.4 521.9h0M519.1 523.0h0M508.7 521.0h0M561.0 520.9h0M523.7 527.4h0M541.1 519.8h0M514.9 526.2h0M557.1 519.5h0M540.2 524.0h0M519.5 520.9h0M566.6 524.0h0M528.3 526.0h0M608.2 526.6h0M562.3 518.9h0M554.9 527.2h0M558.0 523.9h0M527.3 525.6h0M532.6 525.6h0M533.7 527.5h0M557.7 526.2h0M587.9 517.5h0M582.1 522.5h0M592.3 525.3h0M543.1 520.2h0M506.8 517.8h0M519.7 518.6h0M572.8 519.1h0M518.4 525.0h0M497.1 523.0h0M537.1 526.8h0M482.4 526.8h0M496.4 518.7h0M584.2 525.1h0M491.8 521.1h0M496.8 523.6h0M520.1 518.8h0M454.8 520.7h0M566.2 525.2h0M480.6 526.6h0M526.6 523.1h0M548.1 517.4h0M539.1 523.5h0M532.8 526.3h0M505.5 519.8h0M524.9 522.3h0M563.5 523.3h0M561.7 521.6h0M551.9 517.5h0M508.9 520.5h0M572.4 517.5h0M511.8 524.3h0M534.7 527.4h0M586.5 525.3h0M526.3 519.9h0M538.5 524.3h0M599.5 521.9h0M479.0 521.1h0M526.1 521.1h0M535.3 526.6h0M544.8 523.0h0M514.3 526.0h0M479.7 520.8h0M595.7 525.8h0M499.4 526.1h0M546.5 523.1h0M555.9 526.4h0M475.5 526.3h0M522.0 526.9h0M589.3 520.8h0M582.6 524.5h0M513.7 524.6h0M496.3 518.6h0M477.6 521.4h0M563.2 524.0h0M548.7 520.0h0M521.2 523.5h0M553.7 520.9h0M572.9 518.8h0M506.8 525.4h0M529.8 526.2h0M521.3 519.2h0M551.5 520.7h0M568.3 517.2h0M475.7 525.5h0M537.7 525.4h0M562.2 521.4h0M519.7 523.1h0M522.4 517.4h0M514.4 523.5h0M556.1 525.5h0M497.6 522.2h0M515.7 521.0h0M473.6 520.9h0M529.0 525.5h0M534.5 527.5h0M552.1 527.3h0M557.2 522.8h0M579.7 518.1h0M502.4 518.8h0M486.8 522.8h0M537.2 527.1h0M520.4 517.8h0M531.0 526.6h0M602.0 521.0h0M534.6 527.4h0M563.5 523.4h0M572.7 517.1h0M504.8 520.2h0M570.1 522.5h0M542.0 520.3h0M516.3 523.9h0M478.1 524.5h0M552.4 522.6h0M478.9 522.9h0M493.0 527.3h0M593.6 525.7h0M452.1 524.9h0M524.6 522.5h0M631.2 525.0h0M541.9 519.1h0M524.6 523.8h0M558.6 527.1h0M496.5 526.9h0M549.2 522.2h0M570.4 517.5h0M503.2 527.1h0M596.7 523.5h0M562.5 524.5h0M488.8 521.9h0M542.1 520.9h0M533.5 527.0h0M518.2 521.0h0M560.5 521.3h0M559.9 518.2h0M509.6 519.4h0M589.7 525.4h0M494.4 518.9h0M558.8 518.2h0M551.9 520.7h0M548.2 521.3h0M551.3 521.4h0M581.1 519.0h0M497.7 517.2h0M570.6 518.4h0M603.6 523.9h0M571.5 524.2h0M565.8 518.0h0M533.8 527.1h0M544.7 518.2h0M503.9 519.8h0M495.7 519.3h0M492.5 521.6h0M524.4 525.4h0M559.2 524.7h0M524.8 524.9h0M535.4 526.3h0M556.2 526.7h0M469.6 522.0h0M542.6 523.8h0M517.9 518.4h0M523.8 521.1h0M514.6 517.6h0M524.5 525.9h0M518.7 527.5h0M469.2 527.2h0M495.8 518.2h0M547.2 524.9h0M549.7 517.7h0M553.9 527.0h0M486.9 522.2h0M555.0 517.7h0M521.9 526.7h0M571.0 519.3h0M566.9 518.9h0M558.5 522.0h0M547.0 525.3h0M538.8 525.2h0M534.7 527.1h0M522.8 527.4h0M542.0 524.5h0M472.0 525.3h0M542.4 524.0h0M570.5 518.2h0M545.9 519.9h0M497.4 523.2h0M535.6 526.6h0M536.7 525.9h0M554.6 517.7h0M537.5 526.6h0M519.7 525.9h0M538.2 524.0h0M539.4 523.9h0M503.4 526.1h0M510.2 522.8h0M537.7 526.5h0M566.6 520.2h0M539.9 525.8h0M533.6 526.9h0M549.0 519.6h0M536.4 525.5h0M487.5 524.7h0M518.7 520.2h0M571.5 521.6h0M538.3 523.8h0M501.4 526.2h0M463.5 520.9h0M536.7 527.0h0M509.0 520.3h0M529.2 521.7h0M587.1 525.4h0M571.8 521.9h0M554.5 521.2h0M502.0 519.2h0M539.3 525.6h0M510.3 526.4h0M522.7 519.1h0M554.9 525.2h0M486.3 521.2h0M561.5 519.4h0M545.8 517.1h0M584.3 521.7h0M588.8 525.0h0M592.1 521.0h0M570.1 523.2h0M547.3 522.4h0M577.0 517.5h0M512.4 521.0h0M557.2 526.6h0M520.6 518.8h0M515.2 517.9h0M566.3 521.6h0M571.9 524.6h0M570.2 524.5h0M522.5 521.9h0M544.4 519.0h0M520.0 520.9h0M525.9 521.9h0M550.7 521.3h0M537.6 523.8h0M557.1 526.2h0M531.0 526.9h0M464.5 519.9h0M476.9 524.7h0M519.9 519.4h0M592.4 523.9h0M553.9 517.6h0M550.8 526.8h0M493.4 519.4h0M607.1 527.3h0M513.6 527.2h0M527.1 520.3h0M496.5 519.5h0M511.3 522.4h0M600.0 523.2h0M550.0 522.4h0M493.1 521.3h0M467.4 523.3h0M545.2 521.6h0M522.9 525.6h0M519.9 521.0h0M572.9 519.4h0M511.7 519.7h0M530.4 526.1h0M495.9 523.8h0M546.4 522.3h0M497.1 527.3h0M480.4 519.7h0M526.5 522.5h0M516.8 520.4h0M479.6 519.6h0M543.6 525.6h0M532.1 525.1h0M535.9 527.4h0M551.0 526.2h0M527.2 520.7h0M571.9 519.2h0M531.2 524.6h0M525.9 523.0h0M558.3 519.7h0M528.2 522.9h0M482.8 524.5h0M505.7 521.9h0M535.2 527.0h0M531.0 524.9h0M549.0 524.3h0M516.1 521.0h0M529.8 523.5h0M508.4 523.0h0M536.7 525.5h0M527.4 524.5h0M579.1 517.4h0M570.7 517.1h0M545.6 524.3h0M597.4 522.7h0M481.4 520.9h0M479.1 522.2h0M573.2 521.9h0M502.5 523.9h0M498.7 519.1h0M490.0 521.5h0M549.5 524.5h0M538.3 525.9h0M541.0 522.4h0M566.8 517.6h0M523.2 521.3h0M545.0 524.0h0M549.2 519.0h0M519.6 518.4h0M516.9 517.9h0M527.7 522.1h0M559.1 519.9h0M544.3 517.6h0M541.6 520.7h0M550.5 521.4h0M575.1 517.2h0M562.1 519.0h0M570.6 518.0h0M506.1 523.9h0M541.6 520.5h0M538.4 523.8h0M561.6 519.9h0M487.1 522.4h0M592.4 522.5h0M573.6 523.8h0M535.1 526.9h0M488.9 518.7h0M549.4 518.9h0M500.1 517.8h0M580.0 525.0h0M502.7 518.9h0M485.8 522.8h0M514.4 522.4h0M518.7 523.3h0M529.1 521.9h0M521.7 521.8h0M566.2 526.3h0M558.0 522.8h0M504.6 517.9h0M542.6 518.8h0M580.9 519.7h0M516.6 521.1h0M525.3 518.7h0M552.1 523.3h0M491.8 519.4h0M532.6 525.8h0M575.9 517.4h0M591.5 524.6h0M540.3 525.1h0M530.3 526.1h0M539.8 522.4h0M489.5 517.7h0M536.6 525.9h0M524.1 522.3h0M569.0 518.5h0M505.1 524.1h0M495.6 517.6h0M542.2 525.9h0M547.7 521.6h0M535.7 526.0h0M547.3 525.7h0M514.7 523.2h0M551.2 523.6h0M518.8 519.6h0M490.2 519.5h0M559.0 520.6h0M581.8 525.7h0M539.0 523.0h0M527.9 526.8h0M532.7 526.3h0M572.3 519.4h0M548.2 520.1h0M483.9 523.9h0M524.0 517.5h0M577.2 519.0h0M569.9 517.2h0M482.2 521.0h0M553.4 518.2h0M522.9 524.2h0M535.5 527.3h0M567.4 517.1h0M541.9 523.1h0M540.1 526.5h0M585.3 523.5h0M546.6 518.5h0M502.3 526.0h0M563.8 520.9h0M476.7 521.3h0M557.2 523.0h0M592.7 527.4h0M520.9 524.4h0M549.0 519.3h0M529.9 523.0h0M507.1 517.3h0M609.2 520.5h0M573.6 521.5h0M491.6 520.3h0M567.2 526.3h0M531.5 524.4h0M540.4 525.6h0M526.6 522.6h0M512.2 521.4h0M526.1 525.1h0M557.0 517.4h0M474.4 522.9h0M510.6 520.2h0M509.5 517.8h0M524.7 521.6h0M533.6 526.9h0M501.8 524.7h0M540.5 526.0h0M567.0 523.5h0M540.5 524.8h0M532.4 526.7h0M561.0 519.4h0M519.3 519.6h0M511.0 525.8h0M458.1 523.4h0M518.6 518.1h0M591.4 525.8h0M577.8 525.5h0M500.7 525.4h0M506.7 518.9h0M501.7 521.3h0M494.8 523.8h0M570.1 522.3h0M527.7 522.4h0M507.8 523.9h0M526.5 519.1h0M537.0 525.3h0M534.3 527.6h0M518.0 519.5h0M532.5 525.7h0M513.6 518.2h0M534.0 527.3h0M538.6 527.3h0M536.2 526.1h0M445.0 520.4h0M505.8 517.5h0M555.2 524.7h0M544.1 524.9h0M496.5 524.3h0M549.8 522.2h0M559.5 520.3h0M543.7 521.1h0M531.2 526.8h0M524.0 518.5h0M597.6 525.4h0M548.8 521.2h0M504.6 518.9h0M520.2 519.4h0M533.2 527.4h0M517.2 520.5h0M501.2 523.3h0M515.2 517.6h0M536.6 525.1h0M503.5 522.9h0M507.4 522.4h0M557.7 524.4h0M518.5 520.1h0M483.4 524.0h0M513.2 522.7h0M478.2 522.2h0M481.2 522.8h0M523.9 519.6h0M510.0 520.5h0M485.5 525.1h0M509.7 520.7h0M483.4 524.5h0M551.1 525.9h0M544.2 518.2h0M518.5 518.6h0M560.2 526.8h0M524.1 524.8h0M513.1 524.0h0M515.8 519.6h0M545.0 518.5h0M597.8 524.1h0M526.4 521.5h0M571.3 521.2h0M550.5 525.4h0M554.1 519.6h0M566.3 519.7h0M536.2 526.8h0M512.3 519.9h0M518.7 524.2h0M557.5 519.0h0M571.7 523.9h0M550.5 526.6h0M484.4 522.6h0M499.3 519.7h0M551.4 522.6h0M503.4 522.2h0M505.5 525.3h0M566.5 519.3h0M463.9 521.3h0M504.3 518.4h0M478.0 522.9h0M581.9 525.9h0M535.6 526.8h0M549.6 518.7h0M504.5 520.0h0M555.7 521.1h0M503.3 521.7h0M556.1 521.7h0M506.6 525.5h0M571.4 519.1h0M537.6 524.6h0M477.6 523.1h0M577.6 521.4h0M526.7 524.7h0M565.3 519.8h0M505.4 526.0h0M521.1 522.4h0M523.4 523.7h0M513.6 521.9h0M571.8 523.6h0M489.4 520.2h0M486.0 519.7h0M605.2 525.2h0M556.9 526.0h0M510.8 521.6h0M555.9 521.6h0M480.5 523.2h0M514.0 518.8h0M514.6 519.3h0M557.8 518.2h0M501.2 517.2h0M540.4 523.0h0M552.1 522.4h0M566.3 526.8h0M512.1 522.8h0M498.2 519.2h0M628.1 526.5h0M543.1 519.5h0M511.4 521.3h0M482.3 525.4h0M583.7 518.9h0M546.7 517.6h0M547.8 524.3h0M543.7 518.2h0M510.3 518.4h0M548.5 517.3h0M562.8 521.3h0M512.5 524.7h0M500.4 524.8h0M515.1 517.7h0M567.5 526.0h0M531.2 525.2h0M579.2 517.9h0M521.0 526.6h0M534.8 527.1h0M580.7 524.5h0M586.8 526.0h0M536.9 524.6h0M555.0 519.1h0M554.0 521.3h0M511.3 524.3h0M554.7 525.8h0M523.9 519.9h0M576.2 520.7h0M522.3 517.5h0M569.8 523.7h0M518.5 517.3h0M527.4 521.3h0M523.8 519.8h0M553.0 519.2h0M534.7 527.2h0M508.7 522.9h0M540.8 521.8h0M525.7 520.3h0M540.0 524.5h0M512.3 523.5h0M568.1 518.2h0M506.7 524.4h0M556.8 518.0h0M548.4 519.6h0M588.9 520.2h0M528.9 524.3h0M569.0 519.7h0M501.6 518.6h0M540.3 520.4h0M560.2 519.0h0M538.3 524.6h0M589.6 522.2h0M587.5 523.2h0M490.1 526.0h0M541.8 519.7h0M538.5 523.0h0M508.9 523.2h0M546.8 522.4h0M584.1 523.3h0M501.6 521.7h0M495.1 520.4h0M578.1 527.3h0M556.0 517.3h0M521.4 521.9h0M538.8 525.0h0M509.5 521.6h0M544.5 523.5h0M517.5 522.6h0M527.7 523.0h0M511.4 520.9h0M516.4 521.9h0M547.2 523.7h0M478.1 523.6h0M525.9 518.3h0M518.6 521.4h0M546.8 522.0h0M515.5 521.1h0M542.5 518.4h0M544.3 518.9h0M460.3 518.9h0M507.5 519.9h0M518.4 520.0h0M567.5 523.7h0M485.5 523.8h0M525.6 522.1h0M530.8 524.1h0M541.7 526.6h0M508.0 520.0h0M525.8 525.4h0M468.5 524.8h0M576.9 517.5h0M585.9 522.1h0M563.5 523.5h0M552.7 526.2h0M515.5 517.5h0M588.8 523.7h0M619.4 524.1h0M504.2 527.3h0M517.2 523.8h0M563.7 520.8h0M541.9 519.5h0M537.5 524.5h0M551.6 521.3h0M549.4 518.5h0M558.5 520.5h0M539.5 526.4h0M575.8 519.8h0M440.9 523.8h0M545.8 520.6h0M553.2 520.1h0M472.4 521.0h0M554.9 524.5h0M514.9 518.6h0M474.5 522.3h0M541.7 521.0h0M462.5 521.0h0M554.2 518.9h0M542.1 521.7h0M517.5 525.5h0M572.6 526.4h0M575.3 524.6h0M562.4 521.8h0M503.2 519.0h0M517.4 518.5h0M536.6 525.8h0M524.1 522.4h0M488.2 522.4h0M569.8 520.8h0M548.7 517.6h0M503.6 522.4h0M492.3 520.8h0M563.3 518.4h0M589.9 519.4h0M497.5 519.9h0M501.6 520.2h0M529.1 524.4h0M549.9 522.8h0M515.5 524.4h0M536.6 525.2h0M602.2 519.2h0M477.6 522.3h0M652.6 521.5h0M574.4 522.1h0M548.9 525.4h0M539.3 526.2h0M549.6 517.3h0M508.6 524.9h0M550.9 523.3h0M523.9 517.9h0M529.2 524.4h0M537.2 524.7h0M489.8 520.5h0M543.9 526.0h0M542.3 521.7h0M508.5 522.8h0M512.7 522.7h0M512.8 519.1h0M619.5 521.1h0M526.2 518.6h0M522.2 518.3h0M575.1 517.3h0M531.8 526.2h0M533.5 527.4h0M518.1 524.5h0M559.9 521.0h0M549.3 526.6h0M537.1 527.4h0M552.9 523.3h0M529.4 526.2h0M536.3 525.2h0M587.3 527.0h0M539.8 521.4h0M465.2 519.8h0M495.0 521.3h0M603.9 525.1h0M518.9 517.3h0M489.5 523.3h0M524.2 524.2h0M524.2 522.6h0M512.2 523.0h0M564.7 524.9h0M479.4 525.1h0M514.2 523.6h0M541.7 527.2h0M515.1 526.5h0M524.8 517.1h0M532.0 526.0h0M535.6 526.8h0M500.9 519.6h0M593.7 523.9h0M573.0 521.2h0M531.6 525.4h0M533.0 527.3h0M550.2 525.4h0M503.7 522.0h0M512.3 521.1h0M551.5 521.6h0M500.2 521.3h0M521.2 519.5h0M545.6 524.5h0M489.0 522.8h0M570.5 517.9h0M549.5 523.4h0M521.4 517.5h0M517.7 526.4h0M533.2 526.8h0M501.1 521.6h0M555.1 525.9h0M533.5 526.7h0M553.0 525.6h0M502.8 519.7h0M492.7 518.2h0M565.3 527.4h0M546.2 520.1h0M580.9 520.6h0M567.1 523.2h0M555.9 518.3h0M490.2 526.3h0M524.6 523.3h0M534.6 527.4h0M503.3 518.0h0M509.7 519.8h0M559.5 519.8h0M488.0 517.2h0M567.4 520.0h0M501.2 517.6h0M540.8 522.6h0M583.0 525.0h0M501.3 517.4h0M508.7 519.8h0M525.0 523.1h0M543.0 522.5h0M579.2 520.9h0M501.8 519.2h0M561.6 525.3h0M578.6 522.1h0M534.7 527.3h0M545.8 526.8h0M508.1 523.5h0M562.4 519.7h0M561.8 525.8h0M522.9 526.2h0M562.0 523.0h0M531.5 524.3h0M521.5 524.1h0M496.0 518.8h0M510.5 525.0h0M525.3 523.3h0M577.2 519.1h0M560.5 519.1h0M537.8 525.4h0M492.9 526.5h0M523.3 527.1h0M515.2 521.2h0M581.4 519.9h0M529.0 523.7h0M611.6 526.3h0M555.0 517.6h0M528.6 525.0h0M537.0 525.8h0M509.2 517.5h0M542.9 520.5h0M536.2 525.5h0M513.4 520.0h0M488.5 520.9h0M498.9 519.4h0M523.6 517.2h0M514.5 520.6h0M547.6 520.5h0M584.5 522.8h0M523.6 524.8h0M544.4 525.7h0M487.3 525.4h0M529.3 525.1h0M548.0 519.2h0M501.9 518.5h0M562.6 520.2h0M527.9 523.1h0M496.1 520.6h0M512.5 517.7h0M506.4 518.7h0M531.7 525.0h0M553.7 523.8h0M533.3 527.4h0M543.1 523.7h0M532.8 526.3h0M551.0 520.6h0M568.6 517.1h0M568.9 523.3h0M484.3 519.2h0M558.9 522.4h0M524.0 522.9h0M512.7 517.4h0M561.3 521.9h0M542.0 522.9h0M504.2 524.6h0M485.1 524.6h0M541.8 518.9h0M523.5 522.4h0M485.8 526.4h0M537.9 523.4h0M530.3 526.2h0M589.8 527.0h0M598.6 527.5h0M453.7 521.2h0M475.6 522.3h0M570.6 526.2h0M532.5 527.2h0M519.2 523.8h0M545.9 519.9h0M534.9 527.3h0M543.4 517.2h0M599.9 525.3h0M493.0 523.9h0M550.2 526.0h0M501.1 521.0h0M558.1 525.0h0M522.4 520.8h0M547.9 523.4h0M562.6 519.2h0M540.0 521.2h0M565.1 523.0h0M501.1 521.9h0M497.3 518.6h0M539.7 524.1h0M498.8 524.1h0M532.6 527.0h0M550.8 517.5h0M533.2 527.1h0M546.6 522.8h0M542.9 521.6h0M456.1 526.6h0M486.3 522.9h0M579.0 518.5h0M567.2 522.7h0M544.2 520.5h0M553.4 526.4h0M540.8 525.6h0M484.8 522.0h0M493.0 525.3h0M555.7 521.2h0M557.6 526.0h0M487.6 517.7h0M548.4 519.5h0M577.1 522.7h0M531.3 524.2h0M571.3 521.7h0M504.3 526.8h0M500.6 526.5h0M492.3 517.3h0M562.4 517.9h0M465.9 524.3h0M489.3 525.2h0M530.1 525.6h0M542.1 524.2h0M519.7 518.0h0M529.2 526.8h0M527.8 520.3h0M480.6 523.1h0M568.4 522.5h0M559.9 519.5h0M516.1 518.0h0M528.0 525.4h0M483.0 527.3h0M508.9 523.6h0M485.4 525.1h0M591.8 526.8h0M542.0 518.7h0M540.3 524.6h0M522.9 517.8h0M534.7 527.5h0M552.9 526.0h0M563.7 519.1h0M535.9 526.5h0M507.5 520.4h0M515.9 518.7h0M515.7 519.7h0M419.0 525.3h0M663.6 518.1h0M644.2 519.7h0M438.9 518.8h0M639.3 523.1h0M638.6 526.7h0M433.2 519.2h0M621.7 522.0h0M628.5 518.2h0M416.0 520.7h0M619.1 525.1h0M585.5 521.4h0M414.4 521.7h0M617.5 523.5h0M655.9 526.6h0M448.1 523.4h0M594.2 523.6h0M654.1 525.5h0M458.6 524.8h0M625.0 522.0h0M587.5 519.5h0M431.8 525.4h0M598.9 517.8h0M660.5 522.8h0M422.2 520.5h0M585.9 519.0h0M581.9 526.9h0M427.8 523.0h0M581.9 524.6h0M663.9 519.8h0M403.3 518.8h0M620.5 517.7h0M608.4 524.4h0M458.6 522.6h0M604.6 522.3h0M634.9 524.4h0M471.5 520.1h0M644.6 521.0h0M600.8 520.5h0M413.6 526.0h0M623.7 525.7h0M592.1 521.6h0M485.0 526.9h0M618.7 526.5h0M626.6 521.8h0M441.8 527.1h0M640.2 522.5h0M629.5 520.9h0M478.8 523.2h0M658.0 525.7h0M619.5 525.7h0M431.2 518.6h0M663.2 522.8h0M604.6 524.3h0M478.4 523.1h0M598.1 519.2h0M624.2 523.2h0M478.5 520.1h0M582.7 518.0h0M619.6 525.7h0M479.1 523.3h0M638.9 520.1h0M597.8 517.8h0M448.2 526.9h0M626.5 527.3h0M663.6 520.9h0M431.9 519.6h0M648.0 520.6h0M601.2 526.5h0M474.3 518.7h0M610.4 523.6h0M615.3 524.7h0M481.6 522.2h0M640.9 521.5h0M589.0 526.7h0M411.2 522.6h0M634.1 517.7h0M657.0 520.2h0M432.2 524.1h0M639.9 524.0h0M645.6 520.3h0M408.7 519.5h0M589.3 524.3h0M663.2 521.0h0M474.4 518.3h0M603.6 519.6h0M612.7 526.8h0M407.6 526.2h0M634.4 521.1h0M652.5 524.5h0M466.0 524.8h0M607.8 521.0h0M614.4 517.6h0M426.3 525.1h0M655.2 518.9h0M595.1 524.1h0M443.5 526.8h0M612.5 519.9h0M645.9 526.0h0M425.1 524.8h0M638.9 526.1h0M664.1 526.3h0M445.2 520.5h0M661.0 521.4h0M653.2 522.2h0M417.7 523.3h0M632.3 522.2h0M647.1 522.1h0M432.2 522.4h0M625.0 527.3h0M609.0 521.8h0M461.5 523.2h0M644.0 522.5h0M612.4 525.1h0M469.1 518.4h0M642.6 525.3h0M640.6 522.5h0M480.4 527.4h0M646.3 522.9h0M653.2 521.5h0M398.7 520.6h0M626.2 525.1h0M591.7 523.5h0M448.0 522.7h0M582.9 526.0h0M638.5 522.1h0M464.2 523.4h0M603.0 519.6h0M599.8 526.8h0M430.9 523.0h0M599.0 518.1h0M600.9 526.2h0M457.0 526.0h0M604.9 523.4h0M604.4 521.0h0M410.5 521.1h0M591.2 521.7h0M663.5 519.7h0M482.4 522.1h0M594.8 523.8h0M646.5 526.1h0M457.2 524.3h0M658.4 524.0h0M608.5 524.8h0M446.2 518.1h0M626.8 520.2h0M625.1 526.6h0M450.3 521.6h0M631.4 524.5h0M603.8 524.2h0M400.8 525.9h0M605.5 522.4h0M657.9 520.6h0M444.0 520.4h0M618.7 527.0h0M639.0 520.5h0M456.4 519.1h0M647.0 519.3h0M585.3 517.6h0M450.5 521.6h0M632.9 524.8h0M606.9 518.8h0M451.5 518.0h0M598.9 521.7h0M631.8 527.1h0M453.8 523.7h0M617.5 525.6h0M631.3 520.8h0M477.5 519.2h0M663.6 517.9h0M640.2 524.7h0M446.2 526.6h0M628.9 524.4h0M626.4 520.1h0M403.5 518.8h0M584.6 522.6h0M599.8 527.1h0M440.8 524.9h0M588.2 519.3h0M602.0 518.2h0M452.3 523.9h0M586.5 519.0h0M590.6 519.8h0M445.1 523.0h0M588.2 523.3h0M582.8 519.9h0M461.1 526.1h0M624.2 525.7h0M641.2 525.6h0M413.5 524.6h0M662.9 519.4h0M615.3 519.6h0M430.3 525.6h0M656.7 527.1h0M648.0 518.0h0M405.6 519.0h0M646.9 527.0h0M618.7 524.9h0M432.3 523.7h0M614.5 527.3h0M604.2 524.6h0M455.9 520.6h0M644.4 521.2h0M656.4 522.0h0M426.0 527.0h0M642.4 521.9h0M595.2 522.4h0M482.2 521.5h0M607.4 519.5h0M614.6 527.3h0M405.2 518.0h0M589.3 519.7h0M584.0 523.3h0M423.2 524.1h0M589.1 523.5h0M645.1 522.3h0M409.8 519.5h0M654.5 523.0h0M611.6 527.3h0M404.3 523.8h0M591.0 517.9h0M635.5 524.4h0M450.2 525.8h0M658.4 522.5h0M640.1 525.6h0M440.3 520.4h0M613.9 526.8h0M620.8 519.3h0M439.2 517.8h0M628.4 518.8h0M584.2 521.2h0M443.5 523.9h0M657.1 526.5h0M622.2 524.4h0M483.6 519.8h0M598.3 526.2h0M583.5 525.7h0M480.8 518.9h0M648.5 523.5h0M621.9 521.8h0M470.2 527.4h0M596.7 521.7h0M593.3 518.2h0M402.0 517.9h0M599.4 525.5h0M617.0 521.2h0M485.3 522.8h0M656.8 518.7h0M664.0 523.9h0M440.3 527.2h0M613.6 524.0h0M591.9 519.3h0M422.9 526.2h0M591.1 527.2h0M644.8 522.2h0M444.7 523.4h0M662.3 523.7h0M621.3 520.7h0M480.8 519.0h0M655.4 525.6h0M660.7 519.4h0M427.4 519.5h0M661.3 520.1h0M643.4 519.2h0M476.3 519.8h0M588.0 525.4h0M591.6 522.9h0M403.9 522.0h0M659.0 517.8h0M584.6 520.7h0M410.8 519.0h0M584.1 526.4h0M608.6 527.4h0M457.0 525.4h0M641.8 518.1h0M620.9 522.8h0M486.8 524.4h0M655.7 520.4h0M582.2 524.5h0M462.3 527.0h0M653.4 518.5h0M645.1 519.5h0M451.3 519.5h0M620.7 523.4h0M640.4 522.9h0M425.7 524.8h0M618.1 523.7h0M644.7 519.7h0M469.2 519.1h0M611.8 523.8h0M651.7 525.7h0M460.6 522.3h0M637.3 520.6h0M637.5 525.1h0M400.2 518.1h0M656.7 522.5h0M636.9 526.5h0M438.9 521.7h0M640.1 525.3h0M589.2 518.0h0M473.6 525.7h0M650.4 519.5h0M596.7 519.5h0M432.1 524.2h0M594.9 521.6h0M632.9 522.4h0M407.0 519.6h0M608.0 524.8h0M635.2 525.6h0M479.2 521.1h0M647.6 524.1h0M617.4 525.0h0M420.4 523.4h0M647.5 522.5h0M651.3 526.3h0M423.8 527.1h0M658.0 526.8h0M626.9 520.8h0M416.2 517.8h0M663.7 525.1h0M593.2 521.1h0M443.9 521.5h0M633.3 518.1h0M645.9 524.4h0M464.6 523.0h0M663.2 522.7h0M582.4 518.4h0M422.7 519.4h0M632.7 520.1h0M643.4 518.5h0M472.3 521.1h0M608.8 522.6h0M604.8 524.1h0M439.1 523.3h0M605.7 524.4h0M607.6 525.6h0M450.0 526.5h0M602.3 525.8h0M640.7 524.7h0M406.9 519.4h0M618.2 519.5h0M608.4 524.0h0M447.9 526.8h0M663.4 526.1h0M658.0 521.0h0M466.1 525.4h0M656.2 522.2h0M616.1 525.5h0M413.3 519.0h0M662.8 523.3h0M642.1 520.6h0M442.1 522.7h0M627.8 524.0h0M644.0 523.3h0M443.0 525.7h0M663.3 526.7h0M641.6 521.0h0M428.7 517.9h0M584.5 524.8h0M609.8 521.1h0" stroke="#858585" stroke-width="1.8" stroke-linecap="round" opacity="0.85"/>
<path d="M570.7 507.2h0M556.7 503.2h0M577.2 505.1h0M603.5 502.0h0M558.1 506.6h0M598.3 486.7h0M578.1 514.4h0M563.3 487.9h0M576.7 508.2h0M584.8 503.1h0M545.8 516.1h0M573.2 513.9h0M558.4 494.0h0M661.3 473.7h0M632.6 456.4h0M583.0 465.9h0M637.7 514.9h0M589.1 503.9h0M628.6 423.0h0M551.7 509.3h0M555.1 513.4h0M617.4 480.8h0M618.7 495.8h0M552.2 515.2h0M610.0 501.4h0M590.6 480.3h0M587.4 478.2h0M600.6 374.7h0M635.7 513.7h0M596.8 510.2h0M641.1 447.9h0M588.4 491.7h0M580.2 502.0h0M590.1 399.6h0M579.6 515.5h0M555.1 489.0h0M551.9 503.7h0M545.9 483.9h0M587.4 460.2h0M558.3 507.9h0M570.6 462.0h0M592.0 375.5h0M562.7 490.1h0M567.1 512.9h0M610.3 488.0h0M568.0 478.4h0M573.8 509.8h0M571.9 475.3h0M661.5 491.5h0M582.0 495.7h0M570.3 461.0h0M600.2 497.2h0M579.6 511.9h0M570.5 515.1h0M576.9 449.4h0M577.6 447.4h0M580.4 508.3h0M582.9 429.0h0M575.7 515.7h0M568.3 508.0h0M575.2 498.8h0M617.7 368.4h0M592.7 488.5h0M624.5 487.6h0M626.1 487.3h0M655.5 474.0h0M564.9 495.8h0M581.2 494.7h0M570.4 495.3h0M565.5 516.1h0M567.4 513.8h0M586.1 454.5h0M553.7 505.7h0M565.7 424.1h0M575.2 512.0h0M624.8 487.2h0M573.0 440.5h0M554.9 514.0h0M560.2 512.5h0M551.4 513.9h0M569.7 448.3h0M607.5 505.1h0M640.7 512.1h0M571.9 512.9h0M611.4 501.1h0M564.6 509.9h0M569.7 502.8h0M579.6 506.2h0M569.0 507.8h0M604.8 376.4h0M548.3 510.4h0M564.6 489.5h0M578.0 515.3h0M571.5 509.8h0M597.8 446.2h0M609.5 482.7h0M581.0 513.5h0M620.0 457.4h0M625.9 492.2h0M618.4 378.8h0M590.5 500.0h0M550.0 512.0h0M560.7 506.7h0M596.6 405.1h0M599.0 508.0h0M601.8 470.3h0M594.0 458.9h0M596.8 474.9h0M594.5 472.2h0M631.7 494.3h0M554.8 512.0h0M562.7 466.6h0M574.1 498.2h0M644.4 480.7h0M598.1 481.3h0M597.6 423.8h0M594.3 481.0h0M580.5 515.2h0M604.5 475.2h0M574.4 490.1h0M569.2 428.8h0M548.5 503.3h0M555.3 507.2h0M607.5 483.8h0M561.9 462.9h0M585.6 511.1h0M544.2 502.1h0M577.0 514.2h0M551.0 508.4h0M616.7 379.2h0M574.2 488.1h0M590.6 399.7h0M604.7 443.6h0M590.1 497.7h0M549.5 483.9h0M573.5 493.4h0M597.1 486.1h0M595.5 449.1h0M553.3 513.7h0M621.6 509.5h0M616.4 356.5h0M585.1 484.2h0M588.0 508.1h0M563.2 513.5h0M565.7 493.9h0M610.4 432.1h0M596.5 475.5h0M618.8 406.6h0M668.6 516.2h0M560.8 470.6h0M556.1 505.6h0M559.5 492.7h0M566.1 509.2h0M584.7 514.1h0M583.2 446.8h0M642.2 510.7h0M576.5 504.1h0M549.2 514.8h0M585.1 479.2h0M637.8 474.9h0M596.8 481.5h0M628.2 356.6h0M572.8 475.5h0M558.3 511.3h0M558.8 460.4h0M604.4 450.0h0M669.3 508.3h0M559.5 478.2h0M579.5 504.1h0M558.7 484.5h0M595.0 486.2h0M590.0 477.0h0M618.1 512.7h0M592.7 445.4h0M552.9 512.7h0M623.3 472.1h0M586.4 490.7h0M552.4 516.1h0M547.0 514.8h0M552.0 512.6h0M572.1 498.0h0M623.5 515.5h0M568.1 516.1h0M565.3 512.5h0M577.6 483.5h0M651.2 454.2h0M594.4 498.1h0M573.1 452.3h0M544.4 501.0h0M558.7 502.9h0M589.1 507.7h0M576.6 513.8h0M575.9 450.4h0M578.8 445.3h0M568.6 482.1h0M568.3 496.9h0M566.8 458.8h0M599.7 499.5h0M549.9 499.2h0M586.7 483.6h0M549.3 512.2h0M579.5 495.4h0M577.9 478.1h0M552.7 501.2h0M556.9 511.5h0M545.5 495.3h0M549.8 510.3h0M577.5 498.1h0M565.4 514.7h0M594.1 495.7h0M607.0 495.0h0M611.2 406.6h0M568.5 500.4h0M577.0 509.0h0M591.8 514.5h0M576.8 508.3h0M560.6 495.2h0M568.8 513.4h0M570.9 485.0h0M546.8 494.2h0M588.4 478.7h0M582.0 452.2h0M567.6 499.1h0M563.7 462.0h0M575.4 468.3h0M553.4 508.4h0M549.7 508.6h0M656.4 409.5h0M597.9 513.6h0M566.6 509.2h0M577.2 455.1h0M578.1 512.9h0M552.5 513.8h0M550.3 508.2h0M601.4 457.0h0M558.7 497.4h0M602.2 514.3h0M621.1 372.6h0M558.8 495.9h0M582.6 486.6h0M580.5 501.8h0M612.6 505.8h0M597.5 505.5h0M547.1 515.5h0M657.2 477.3h0M554.7 516.5h0M545.6 505.9h0M580.7 482.5h0M619.3 502.8h0M626.6 508.1h0M618.4 373.7h0M562.1 514.2h0M547.9 511.4h0M581.1 472.8h0M622.0 465.2h0M576.9 478.6h0M602.5 497.0h0M590.8 510.7h0M605.3 421.7h0M552.3 507.1h0M575.9 513.9h0M648.2 481.7h0M557.8 501.1h0M546.8 512.4h0M560.8 509.8h0M563.3 511.9h0M578.0 422.1h0M651.0 452.3h0M572.9 511.0h0M601.1 451.3h0M554.6 512.9h0M582.7 427.7h0M599.9 357.0h0M561.7 499.1h0M596.9 440.0h0M550.6 513.9h0M569.6 467.0h0M554.9 508.5h0M582.6 490.5h0M547.9 499.7h0M597.0 367.4h0M565.9 500.8h0M553.0 491.2h0M573.5 496.9h0M585.4 441.3h0M621.7 510.5h0M547.6 506.3h0M593.1 420.7h0M559.4 495.6h0M566.2 486.1h0M590.2 508.2h0M638.5 493.7h0M566.5 498.5h0M576.0 510.8h0M645.5 498.5h0M556.6 480.8h0M582.9 493.9h0M598.6 490.8h0M587.0 502.7h0M553.6 503.0h0M648.7 454.0h0M587.5 508.0h0M585.0 456.7h0M547.6 507.4h0M572.5 509.2h0M571.9 437.0h0M651.2 416.7h0M572.1 502.2h0M559.8 513.6h0M578.5 505.1h0M597.1 428.6h0M593.8 480.0h0M613.2 502.4h0M563.8 503.4h0M599.6 492.2h0M559.2 504.6h0M552.4 508.3h0M607.1 414.9h0M594.5 516.0h0M573.7 455.4h0M562.1 512.0h0M592.1 460.6h0M568.1 483.1h0M631.3 428.1h0M551.1 508.4h0M612.6 462.1h0M586.6 463.2h0M608.3 510.3h0M580.4 468.1h0M575.6 440.7h0M552.2 514.6h0M586.2 398.4h0M566.2 507.4h0M571.9 406.7h0M581.5 463.9h0M574.6 462.3h0M567.1 512.2h0M587.7 504.7h0M567.0 496.7h0M562.9 507.5h0M572.1 499.8h0M666.2 503.5h0M571.2 504.8h0M575.2 499.9h0M593.4 492.8h0M555.4 510.2h0M626.8 455.7h0M549.5 513.5h0M616.8 493.4h0M593.6 502.5h0M589.1 439.7h0M560.8 496.2h0M575.4 439.8h0M597.0 498.3h0M548.3 482.0h0M560.0 504.1h0M562.3 487.1h0M579.4 493.7h0M592.7 515.3h0M599.8 480.0h0M575.2 501.0h0M550.7 514.6h0M587.0 506.2h0M559.4 506.3h0M557.0 489.9h0M614.4 513.8h0M565.5 463.1h0M567.0 504.4h0M567.1 441.4h0M577.3 497.1h0M591.6 503.2h0M573.4 484.3h0M562.2 466.8h0M600.3 484.2h0M551.8 508.4h0M571.3 488.9h0M588.7 467.5h0M576.7 502.9h0M601.2 501.6h0M557.8 506.2h0M611.2 498.7h0M575.7 455.8h0M557.9 497.9h0M578.7 504.6h0M545.2 509.0h0M558.2 503.4h0M561.5 478.6h0M592.8 503.4h0M615.5 445.4h0M556.7 508.0h0M563.6 498.2h0M638.1 511.3h0M565.7 506.9h0M617.2 476.1h0M551.9 508.2h0M576.8 501.8h0M580.2 495.6h0M591.2 427.0h0M581.9 511.5h0M578.8 486.9h0M618.0 469.0h0M601.8 498.5h0M584.3 440.1h0M626.4 491.0h0M572.3 459.7h0M596.5 498.6h0M593.4 487.9h0M632.0 459.3h0M605.7 502.8h0M563.4 492.9h0M561.0 466.7h0M584.6 451.2h0M561.4 484.8h0M570.7 506.7h0M610.0 513.1h0M570.3 450.8h0M586.3 513.5h0M614.5 484.4h0M668.2 428.9h0M549.7 509.9h0M558.5 514.4h0M553.5 469.0h0M589.7 465.1h0M576.3 492.5h0M658.5 504.6h0M603.6 471.4h0M555.1 512.8h0M562.7 497.6h0M653.5 388.8h0M603.2 482.3h0M603.8 380.9h0M613.8 491.3h0M628.2 516.0h0M584.1 414.9h0M590.3 502.4h0M614.6 461.0h0M664.0 501.8h0M606.2 447.4h0M545.4 511.6h0M607.8 507.6h0M597.6 457.7h0M636.2 498.3h0M564.8 508.3h0M575.1 509.3h0M579.4 509.2h0M579.1 493.5h0M578.8 481.4h0M596.4 457.0h0M570.5 457.9h0M594.9 503.1h0M584.9 483.5h0M554.5 497.3h0M563.5 515.9h0M562.0 505.5h0M580.1 513.5h0M578.0 502.7h0M587.4 512.1h0M587.4 365.4h0M553.5 505.7h0M594.8 447.8h0M555.1 462.1h0M589.3 490.9h0M623.5 484.7h0M589.4 471.1h0M584.3 498.2h0M599.9 466.1h0M574.7 515.3h0M655.6 420.8h0M559.7 494.7h0M614.8 475.1h0M625.3 409.4h0M549.6 512.5h0M598.7 497.4h0M578.6 497.1h0M600.6 508.2h0M569.2 505.0h0M663.6 506.2h0M562.3 501.1h0M582.8 487.3h0M583.5 509.7h0M638.5 494.2h0M577.7 507.3h0M564.9 502.4h0M600.1 419.5h0M563.9 498.1h0M611.5 455.6h0M577.5 499.7h0M570.6 495.2h0M606.4 408.9h0M587.2 487.0h0M593.8 461.1h0M568.1 513.5h0M591.4 416.3h0M581.1 479.1h0M552.1 499.0h0M648.8 485.2h0M553.9 487.9h0M616.3 504.7h0M564.5 494.5h0M575.4 399.4h0M608.3 427.6h0M582.8 479.4h0M661.4 489.9h0M606.6 458.7h0M591.1 508.2h0M590.3 498.5h0M584.7 511.2h0M639.9 395.8h0M607.2 484.0h0M591.0 446.3h0M574.6 473.1h0M581.8 500.5h0M552.1 509.5h0M591.2 502.4h0M557.4 506.0h0M599.0 456.4h0M623.4 473.5h0M559.9 486.2h0M588.2 411.9h0M586.1 458.7h0M584.0 453.3h0M604.3 452.3h0M559.5 512.6h0M576.8 505.4h0M548.4 485.9h0M563.7 515.1h0M576.9 513.3h0M552.3 503.7h0M651.3 488.9h0M559.0 499.4h0M564.5 480.8h0M553.7 463.0h0M633.1 505.4h0M549.8 512.6h0M628.1 505.3h0M595.5 357.7h0M583.5 501.0h0M550.7 488.7h0M554.2 488.3h0M597.6 505.3h0M573.3 444.2h0M575.4 513.4h0M607.5 508.4h0M630.8 493.3h0M560.3 444.3h0M627.5 452.7h0M590.6 508.3h0M565.2 496.8h0M559.2 515.9h0M615.0 510.9h0M608.6 511.4h0M605.9 513.8h0M622.1 487.2h0M600.5 470.0h0M567.1 499.5h0M623.8 492.1h0M547.5 506.9h0M604.4 404.7h0M553.8 508.0h0M594.7 457.6h0M606.2 515.4h0M554.5 513.0h0M561.9 511.3h0M564.2 515.4h0M556.8 496.3h0M657.2 358.7h0M602.6 452.5h0M561.1 499.0h0M566.0 513.7h0M548.9 507.5h0M577.3 484.3h0M573.6 448.4h0M572.2 484.9h0M565.7 510.8h0M565.9 493.2h0M585.0 479.0h0M585.4 471.0h0M591.5 496.6h0M620.9 502.9h0M551.6 497.9h0M591.2 468.6h0M569.6 494.4h0M586.8 479.1h0M610.3 457.7h0M575.9 473.4h0M640.1 498.2h0M622.7 485.4h0M554.5 507.9h0M606.2 492.1h0M618.8 513.7h0M585.0 456.4h0M584.1 503.9h0M551.7 502.9h0M624.3 510.0h0M568.2 515.6h0M617.4 481.0h0M554.2 501.6h0M576.2 432.2h0M600.5 505.1h0M557.8 490.4h0M599.1 506.7h0M558.0 514.2h0M568.7 509.0h0M605.1 497.5h0M559.7 511.4h0M634.4 502.4h0M602.5 451.1h0M576.9 497.9h0M564.8 515.1h0M609.3 502.1h0M607.2 511.3h0M591.4 482.6h0M617.0 495.5h0M573.7 414.1h0M559.5 452.7h0M575.9 484.1h0M562.2 503.8h0M546.5 514.3h0M558.3 513.9h0M580.5 429.9h0M574.1 511.3h0M555.0 490.7h0M564.3 496.6h0M568.0 511.0h0M557.0 513.7h0M586.7 513.2h0M594.1 514.7h0M633.2 514.2h0M573.5 462.2h0M565.5 454.2h0M572.7 505.9h0M607.2 510.0h0M580.1 421.0h0M599.2 477.1h0M562.7 499.9h0M557.4 499.9h0M545.1 511.7h0M566.3 476.1h0M589.0 360.7h0M648.8 458.8h0M557.6 470.0h0M589.7 477.9h0M615.7 505.9h0M549.3 471.8h0M612.3 483.5h0M603.4 501.8h0M546.5 502.9h0M580.2 494.5h0M589.9 487.2h0M549.9 511.1h0M621.4 410.8h0M598.6 487.5h0M587.9 506.6h0M561.7 507.2h0M588.6 455.9h0M607.2 371.2h0M550.2 515.3h0M626.3 512.0h0M564.8 476.5h0M598.8 506.4h0M616.9 511.1h0M585.1 496.9h0M562.9 512.5h0M589.6 512.7h0M584.9 485.9h0M574.4 506.3h0M603.2 469.0h0M573.8 496.2h0M564.9 446.1h0M564.2 512.7h0M611.7 506.0h0M626.2 497.8h0M555.5 516.4h0M561.2 513.5h0M613.5 504.4h0M588.7 504.4h0M571.0 495.1h0M590.5 492.8h0M586.3 477.8h0M553.8 514.3h0M608.2 498.2h0M573.3 512.0h0M578.0 462.7h0M601.1 394.5h0M601.6 383.6h0M642.3 428.5h0M593.5 486.5h0M588.4 446.0h0M609.1 440.6h0M630.0 508.3h0M611.3 367.4h0M574.0 514.3h0M639.6 475.6h0M566.9 463.4h0M557.8 516.2h0M552.9 511.9h0M548.7 504.5h0M574.9 505.6h0M579.9 498.4h0M602.6 445.0h0M565.8 508.6h0M626.9 454.9h0M551.3 503.9h0M559.7 513.4h0M578.6 496.7h0M637.8 511.8h0M617.4 417.7h0M574.4 459.5h0M635.2 489.3h0M552.7 487.0h0M629.3 510.3h0M553.6 512.2h0M597.0 507.2h0M616.9 470.0h0M545.9 505.2h0M548.5 478.0h0M570.2 511.6h0M627.2 433.3h0M628.3 361.1h0M552.4 467.8h0M545.8 495.1h0M602.3 410.9h0M611.4 507.8h0M571.0 448.1h0M546.6 513.1h0M584.4 492.1h0M569.5 500.7h0M562.5 460.7h0M645.4 405.6h0M567.6 441.8h0M607.3 486.3h0M607.0 513.7h0M562.0 515.4h0M550.0 512.0h0M667.3 516.3h0M588.6 477.0h0M556.5 510.6h0M580.2 481.8h0M549.0 500.3h0M609.3 469.5h0M576.0 492.2h0M561.8 516.6h0M552.8 516.3h0M566.7 512.8h0M596.5 430.8h0M610.5 413.0h0M579.5 485.4h0M576.0 450.3h0M557.6 506.8h0M573.6 504.2h0M583.4 514.7h0M557.7 494.6h0M563.5 510.9h0M608.2 507.8h0M601.4 496.2h0M599.5 362.9h0M633.3 414.8h0M556.5 471.2h0M632.7 441.5h0M565.9 510.4h0M546.5 498.4h0M579.1 515.0h0M555.9 509.5h0M560.4 493.9h0M590.3 450.8h0M638.5 484.9h0M573.4 508.1h0M565.8 513.5h0M581.0 477.6h0M562.9 471.6h0M623.3 498.6h0M601.4 509.2h0M567.9 449.9h0M550.4 498.9h0M571.9 503.3h0M626.6 491.3h0M570.6 507.3h0M641.5 397.2h0M558.9 512.8h0M640.1 429.7h0M561.7 510.2h0M572.9 512.7h0M614.8 419.4h0M548.2 503.9h0M582.6 456.7h0M569.3 512.2h0M579.1 434.3h0M548.5 512.7h0M546.2 503.8h0M600.2 489.9h0M590.6 504.4h0M594.7 502.5h0M582.4 515.5h0M625.4 508.9h0M556.6 502.7h0M582.4 498.5h0M553.3 509.3h0M603.9 496.4h0M588.5 492.4h0M550.6 511.3h0M579.6 498.0h0M544.7 516.4h0M549.7 483.3h0M605.7 497.0h0M569.8 516.1h0M555.7 484.1h0M573.6 496.2h0M603.1 370.9h0M620.4 461.0h0M612.1 404.7h0M608.6 491.2h0M549.5 493.0h0M549.3 489.4h0M626.3 489.0h0M563.0 463.6h0M608.6 478.5h0M604.7 491.1h0M571.8 514.6h0M593.7 405.9h0M558.4 504.6h0M545.8 514.4h0M577.4 485.1h0M604.3 439.1h0M622.7 379.7h0M567.8 507.6h0M564.6 507.5h0M629.4 409.0h0M577.9 507.7h0M587.0 430.1h0M670.2 472.9h0M524.1 511.2h0M508.0 485.3h0M495.1 501.2h0M456.4 503.7h0M522.1 507.8h0M500.0 512.1h0M511.5 511.7h0M505.2 512.8h0M513.7 515.1h0M500.7 498.0h0M499.3 516.0h0M487.3 502.3h0M478.3 513.3h0M520.2 514.3h0M510.8 510.9h0M499.2 516.2h0M521.9 512.0h0M515.1 500.6h0M462.6 515.5h0M501.6 513.1h0M507.6 492.5h0M523.0 511.0h0M507.1 513.8h0M512.7 509.9h0M476.3 497.2h0M480.6 512.4h0M437.4 506.3h0M522.2 500.1h0M474.4 507.5h0M484.5 514.5h0M502.5 507.2h0M522.6 513.1h0M509.1 516.0h0M444.2 514.9h0M521.0 504.0h0M509.8 512.6h0M506.0 506.2h0M519.2 509.0h0M505.3 487.3h0M511.6 509.8h0M502.9 493.0h0M522.0 515.7h0M509.8 514.4h0M520.0 515.5h0M497.3 482.6h0M503.8 514.5h0M484.4 510.1h0M496.6 503.8h0M483.4 499.0h0M506.5 503.1h0M472.8 514.2h0M515.8 514.3h0M498.1 510.8h0M494.8 513.6h0M512.2 515.0h0M508.7 515.5h0M510.1 499.0h0M515.0 499.6h0M514.6 475.4h0M509.3 516.5h0M492.0 477.1h0M509.3 507.5h0M504.6 483.2h0M508.5 508.0h0M507.1 512.7h0M478.5 507.4h0M508.4 512.9h0M495.1 493.4h0M467.0 500.9h0M498.1 512.2h0M514.9 515.5h0M501.0 499.6h0M511.8 510.0h0M512.6 513.5h0M478.6 504.7h0M481.9 512.7h0M522.0 508.3h0M520.7 505.5h0M507.7 491.2h0M507.0 500.4h0M510.0 511.4h0M484.6 500.1h0M506.7 504.1h0M513.0 508.5h0M505.3 507.8h0M496.9 513.8h0M483.2 501.2h0M495.4 504.7h0M481.7 509.9h0M482.7 514.4h0M516.9 498.9h0M479.6 508.8h0M502.7 502.3h0M473.0 501.2h0M513.3 503.6h0M514.9 510.2h0M511.3 514.0h0M513.8 516.6h0M521.4 501.3h0M504.2 514.8h0M497.7 475.2h0M503.9 511.5h0M511.8 515.2h0M510.3 513.2h0M499.7 504.3h0M468.2 512.0h0M509.9 507.8h0M507.7 506.4h0M513.8 506.0h0M501.4 512.7h0M487.6 510.7h0M519.1 503.9h0M510.2 515.8h0M482.6 493.5h0M500.1 513.6h0M516.7 488.6h0M451.8 503.4h0M514.0 502.1h0M503.6 512.0h0M505.6 510.0h0M502.6 515.4h0M516.7 514.4h0M488.9 509.8h0M500.3 512.0h0M503.7 515.4h0M510.4 500.8h0M521.0 513.8h0M475.4 515.0h0M495.4 485.4h0M519.9 516.2h0M495.0 500.8h0M504.4 509.9h0M500.7 511.9h0M517.9 510.2h0M509.3 499.0h0M511.6 515.5h0M507.9 516.3h0M491.4 512.2h0M493.8 506.1h0M475.6 507.1h0M520.3 512.2h0M474.8 516.1h0M464.2 501.5h0M450.9 506.6h0M506.7 507.4h0M514.7 513.9h0M492.3 514.8h0M510.0 515.2h0M473.5 516.6h0M490.1 513.8h0M489.7 503.8h0M457.3 503.1h0M524.0 496.7h0M457.4 499.4h0M447.7 507.2h0M485.6 512.3h0M521.9 513.2h0M508.7 515.3h0M517.0 515.6h0M501.1 515.6h0M514.2 502.1h0M504.0 506.9h0M516.6 513.5h0M517.5 516.2h0M486.9 509.9h0M498.3 498.4h0M515.2 500.9h0M498.6 507.5h0M511.4 515.7h0M500.4 512.8h0M457.5 511.1h0M491.3 510.4h0M498.2 512.1h0M466.6 512.4h0M441.6 513.4h0M513.0 503.8h0M490.1 495.2h0M463.3 513.4h0M507.0 506.1h0M511.9 515.1h0M514.4 509.3h0M483.8 514.3h0M516.5 508.5h0M510.2 512.3h0M509.5 507.5h0M469.3 512.8h0M516.7 515.7h0M486.5 512.7h0M491.7 500.3h0M485.6 494.1h0M521.6 506.6h0M514.7 498.8h0M501.5 514.8h0M404.5 503.5h0M513.9 513.7h0M520.3 513.5h0M504.7 500.7h0M508.2 502.1h0M518.7 510.9h0M511.0 514.4h0M491.8 508.7h0M507.9 515.2h0M509.5 489.3h0M494.8 516.4h0M478.3 512.8h0M493.1 515.0h0M518.7 507.7h0M495.6 507.9h0M510.4 512.1h0M504.3 512.1h0M519.0 513.0h0M510.8 513.3h0M495.3 514.4h0M517.9 513.0h0M493.2 515.8h0M509.6 515.3h0M497.1 502.8h0M488.6 497.8h0M509.5 509.1h0M501.0 513.0h0M446.9 516.0h0M476.2 502.8h0M495.2 507.3h0M436.6 507.1h0M503.8 514.2h0M484.3 512.3h0M486.7 504.8h0M519.2 515.7h0M498.8 513.6h0M506.3 512.3h0M505.1 510.4h0M495.9 510.7h0M519.9 504.1h0M512.0 500.0h0M513.7 502.8h0M493.2 515.6h0M520.1 510.8h0M514.7 496.7h0M487.4 486.7h0M509.7 497.2h0M491.6 489.9h0M497.0 495.5h0M503.5 500.7h0M519.3 510.2h0M522.5 514.5h0M508.0 514.6h0M502.8 509.3h0M509.2 508.3h0M512.5 515.6h0M513.1 515.5h0M471.4 346.3h0M474.6 427.0h0M456.7 454.4h0M491.3 437.0h0M490.3 440.3h0M487.1 451.1h0M494.5 460.2h0M429.5 474.4h0M441.6 475.2h0M451.5 477.7h0M404.3 516.0h0M505.5 486.0h0M626.0 346.3h0M628.6 347.2h0M651.2 348.8h0M597.2 353.8h0M602.4 357.1h0M670.5 447.8h0M662.7 430.3h0M657.4 402.0h0M641.7 364.6h0M638.1 376.3h0" stroke="#e3262a" stroke-width="2.4" stroke-linecap="round"/>
<line x1="534.3" y1="332.2" x2="534.3" y2="535.8" stroke="#5b5b9c" stroke-width="1.1"/>
<rect x="384.6" y="332.2" width="299.2" height="203.6" fill="none" stroke="#555" stroke-width="0.9"/>
<path d="M429.5 535.8v2.2M481.9 535.8v2.2M534.3 535.8v2.2M586.7 535.8v2.2M639.1 535.8v2.2M384.6 527.6h-2.2M384.6 486.0h-2.2M384.6 444.5h-2.2M384.6 402.9h-2.2M384.6 361.3h-2.2" stroke="#444" stroke-width="0.6"/>
<text x="429.5" y="547.0" font-size="8.4" text-anchor="middle" fill="#4d4d4d">-2</text>
<text x="481.9" y="547.0" font-size="8.4" text-anchor="middle" fill="#4d4d4d">-1</text>
<text x="534.3" y="547.0" font-size="8.4" text-anchor="middle" fill="#4d4d4d">0</text>
<text x="586.7" y="547.0" font-size="8.4" text-anchor="middle" fill="#4d4d4d">1</text>
<text x="639.1" y="547.0" font-size="8.4" text-anchor="middle" fill="#4d4d4d">2</text>
<text x="381.2" y="530.6" font-size="8.4" text-anchor="end" fill="#4d4d4d">0</text>
<text x="381.2" y="489.0" font-size="8.4" text-anchor="end" fill="#4d4d4d">5</text>
<text x="381.2" y="447.5" font-size="8.4" text-anchor="end" fill="#4d4d4d">10</text>
<text x="381.2" y="405.9" font-size="8.4" text-anchor="end" fill="#4d4d4d">15</text>
<text x="381.2" y="364.3" font-size="8.4" text-anchor="end" fill="#4d4d4d">20</text>
<text x="534.3" y="559.0" font-size="10.0" text-anchor="middle" textLength="68.0" lengthAdjust="spacingAndGlyphs" fill="#1a1a1a">log2-fold change</text>
<text transform="translate(368.6,434.0) rotate(-90)" font-size="10.2" text-anchor="middle" fill="#1a1a1a" textLength="58" lengthAdjust="spacingAndGlyphs">-log10 (padj)</text>
<rect x="12.4" y="598.6" width="206.2" height="190.4" fill="#fff"/>
<path d="M48.6 598.6V789.0M84.8 598.6V789.0M121.0 598.6V789.0M157.2 598.6V789.0" stroke="#d4d4d4" stroke-width="0.7"/>
<path d="M193.4 598.6V789.0" stroke="#a8a8a8" stroke-width="0.9"/>
<rect x="12.4" y="611.4" width="195.7" height="1.5" fill="#a9a9a9"/>
<rect x="12.4" y="604.2" width="196.2" height="7.2" fill="#d9622c" stroke="#5e5e5e" stroke-width="0.7"/>
<text x="220.8" y="610.8" font-size="8.8" textLength="67.3" lengthAdjust="spacingAndGlyphs" fill="#1a1a1a">HU FETAL RETINA RPE</text>
<rect x="12.4" y="620.4" width="191.7" height="1.5" fill="#a9a9a9"/>
<rect x="12.4" y="613.2" width="192.2" height="7.2" fill="#d9622c" stroke="#5e5e5e" stroke-width="0.7"/>
<text x="220.8" y="619.8" font-size="8.8" textLength="149.8" lengthAdjust="spacingAndGlyphs" fill="#1a1a1a">DESCARTES FETAL EYE RETINAL PIGMENT CELLS</text>
<rect x="12.4" y="629.5" width="188.9" height="1.5" fill="#a9a9a9"/>
<rect x="12.4" y="622.3" width="189.4" height="7.2" fill="#d9622c" stroke="#5e5e5e" stroke-width="0.7"/>
<text x="220.8" y="628.9" font-size="8.8" textLength="134.6" lengthAdjust="spacingAndGlyphs" fill="#1a1a1a">FAN EMBRYONIC CTX BRAIN ENDOTHELIAL 1</text>
<rect x="12.4" y="638.5" width="170.8" height="1.5" fill="#a9a9a9"/>
<rect x="12.4" y="631.3" width="171.3" height="7.2" fill="#ee9a3a" stroke="#5e5e5e" stroke-width="0.7"/>
<text x="220.8" y="637.9" font-size="8.8" textLength="186.2" lengthAdjust="spacingAndGlyphs" fill="#1a1a1a">GAO LARGE INTESTINE ADULT CA ENTEROENDOCRINE CELLS</text>
<rect x="12.4" y="647.6" width="169.2" height="1.5" fill="#a9a9a9"/>
<rect x="12.4" y="640.4" width="169.7" height="7.2" fill="#ee9a3a" stroke="#5e5e5e" stroke-width="0.7"/>
<text x="220.8" y="647.0" font-size="8.8" textLength="148.0" lengthAdjust="spacingAndGlyphs" fill="#1a1a1a">GAO LARGE INTESTINE ADULT CJ IMMUNE CELLS</text>
<rect x="12.4" y="656.6" width="156.7" height="1.5" fill="#a9a9a9"/>
<rect x="12.4" y="649.4" width="157.2" height="7.2" fill="#ee9a3a" stroke="#5e5e5e" stroke-width="0.7"/>
<text x="220.8" y="656.0" font-size="8.8" textLength="96.2" lengthAdjust="spacingAndGlyphs" fill="#1a1a1a">ZHONG PFC MAJOR TYPES OPC</text>
<rect x="12.4" y="665.6" width="153.8" height="1.5" fill="#a9a9a9"/>
<rect x="12.4" y="658.4" width="154.3" height="7.2" fill="#ee9a3a" stroke="#5e5e5e" stroke-width="0.7"/>
<text x="220.8" y="665.0" font-size="8.8" textLength="152.9" lengthAdjust="spacingAndGlyphs" fill="#1a1a1a">DESCARTES MAIN FETAL RETINAL PIGMENT CELLS</text>
<rect x="12.4" y="674.7" width="152.8" height="1.5" fill="#a9a9a9"/>
<rect x="12.4" y="667.5" width="153.3" height="7.2" fill="#ee9a3a" stroke="#5e5e5e" stroke-width="0.7"/>
<text x="220.8" y="674.1" font-size="8.8" textLength="116.8" lengthAdjust="spacingAndGlyphs" fill="#1a1a1a">MANNO MIDBRAIN NEUROTYPES HDA2</text>
<rect x="12.4" y="683.7" width="147.7" height="1.5" fill="#a9a9a9"/>
<rect x="12.4" y="676.5" width="148.2" height="7.2" fill="#ee9a3a" stroke="#5e5e5e" stroke-width="0.7"/>
<text x="220.8" y="683.1" font-size="8.8" textLength="190.7" lengthAdjust="spacingAndGlyphs" fill="#1a1a1a">DESCARTES FETAL PLACENTA VASCULAR ENDOTHELIAL CELLS</text>
<rect x="12.4" y="692.8" width="143.8" height="1.5" fill="#a9a9a9"/>
<rect x="12.4" y="685.6" width="144.3" height="7.2" fill="#ee9a3a" stroke="#5e5e5e" stroke-width="0.7"/>
<text x="220.8" y="692.2" font-size="8.8" textLength="68.3" lengthAdjust="spacingAndGlyphs" fill="#1a1a1a">HU FETAL RETINA RGC</text>
<rect x="12.4" y="701.8" width="137.4" height="1.5" fill="#a9a9a9"/>
<rect x="12.4" y="694.6" width="137.9" height="7.2" fill="#ee9a3a" stroke="#5e5e5e" stroke-width="0.7"/>
<text x="220.8" y="701.2" font-size="8.8" textLength="89.5" lengthAdjust="spacingAndGlyphs" fill="#1a1a1a">AIZARANI LIVER C10 MVECS 1</text>
<rect x="12.4" y="710.8" width="136.4" height="1.5" fill="#a9a9a9"/>
<rect x="12.4" y="703.6" width="136.9" height="7.2" fill="#ee9a3a" stroke="#5e5e5e" stroke-width="0.7"/>
<text x="220.8" y="710.2" font-size="8.8" textLength="149.2" lengthAdjust="spacingAndGlyphs" fill="#1a1a1a">DESCARTES FETAL KIDNEY METANEPHRIC CELLS</text>
<rect x="12.4" y="719.9" width="128.4" height="1.5" fill="#a9a9a9"/>
<rect x="12.4" y="712.7" width="128.9" height="7.2" fill="#ee9a3a" stroke="#5e5e5e" stroke-width="0.7"/>
<text x="220.8" y="719.3" font-size="8.8" textLength="184.9" lengthAdjust="spacingAndGlyphs" fill="#1a1a1a">DESCARTES FETAL THYMUS VASCULAR ENDOTHELIAL CELLS</text>
<rect x="12.4" y="728.9" width="127.4" height="1.5" fill="#a9a9a9"/>
<rect x="12.4" y="721.7" width="127.9" height="7.2" fill="#ee9a3a" stroke="#5e5e5e" stroke-width="0.7"/>
<text x="220.8" y="728.3" font-size="8.8" textLength="121.1" lengthAdjust="spacingAndGlyphs" fill="#1a1a1a">MANNO MIDBRAIN NEUROTYPES HSERT</text>
<rect x="12.4" y="738.0" width="126.2" height="1.5" fill="#a9a9a9"/>
<rect x="12.4" y="730.8" width="126.7" height="7.2" fill="#ee9a3a" stroke="#5e5e5e" stroke-width="0.7"/>
<text x="220.8" y="737.4" font-size="8.8" textLength="111.0" lengthAdjust="spacingAndGlyphs" fill="#1a1a1a">LAKE ADULT KIDNEY C2 PODOCYTES</text>
<rect x="12.4" y="747.0" width="125.3" height="1.5" fill="#a9a9a9"/>
<rect x="12.4" y="739.8" width="125.8" height="7.2" fill="#ee9a3a" stroke="#5e5e5e" stroke-width="0.7"/>
<text x="220.8" y="746.4" font-size="8.8" textLength="200.7" lengthAdjust="spacingAndGlyphs" fill="#1a1a1a">DESCARTES FETAL CEREBELLUM VASCULAR ENDOTHELIAL CELLS</text>
<rect x="12.4" y="756.0" width="124.5" height="1.5" fill="#a9a9a9"/>
<rect x="12.4" y="748.8" width="125.0" height="7.2" fill="#ee9a3a" stroke="#5e5e5e" stroke-width="0.7"/>
<text x="220.8" y="755.4" font-size="8.8" textLength="187.5" lengthAdjust="spacingAndGlyphs" fill="#1a1a1a">DESCARTES FETAL ADRENAL VASCULAR ENDOTHELIAL CELLS</text>
<rect x="12.4" y="765.1" width="123.0" height="1.5" fill="#a9a9a9"/>
<rect x="12.4" y="757.9" width="123.5" height="7.2" fill="#ee9a3a" stroke="#5e5e5e" stroke-width="0.7"/>
<text x="220.8" y="764.5" font-size="8.8" textLength="194.2" lengthAdjust="spacingAndGlyphs" fill="#1a1a1a">DESCARTES FETAL CEREBRUM VASCULAR ENDOTHELIAL CELLS</text>
<rect x="12.4" y="774.1" width="122.0" height="1.5" fill="#a9a9a9"/>
<rect x="12.4" y="766.9" width="122.5" height="7.2" fill="#ee9a3a" stroke="#5e5e5e" stroke-width="0.7"/>
<text x="220.8" y="773.5" font-size="8.8" textLength="170.3" lengthAdjust="spacingAndGlyphs" fill="#1a1a1a">FAN EMBRYONIC CTX BIG GROUPS BRAIN ENDOTHELIAL</text>
<rect x="12.4" y="783.2" width="119.7" height="1.5" fill="#a9a9a9"/>
<rect x="12.4" y="776.0" width="120.2" height="7.2" fill="#ee9a3a" stroke="#5e5e5e" stroke-width="0.7"/>
<text x="220.8" y="782.6" font-size="8.8" textLength="134.2" lengthAdjust="spacingAndGlyphs" fill="#1a1a1a">MANNO MIDBRAIN NEUROTYPES HPROGFPL</text>
<rect x="12.4" y="598.6" width="206.2" height="190.4" fill="none" stroke="#333" stroke-width="0.9"/>
<path d="M12.4 789.0v2.5M48.6 789.0v2.5M84.8 789.0v2.5M121.0 789.0v2.5M157.2 789.0v2.5M193.4 789.0v2.5" stroke="#333" stroke-width="0.7"/>
<text x="12.4" y="801.2" font-size="7.6" text-anchor="middle" fill="#333">0</text>
<text x="48.6" y="801.2" font-size="7.6" text-anchor="middle" fill="#333">2</text>
<text x="84.8" y="801.2" font-size="7.6" text-anchor="middle" fill="#333">4</text>
<text x="121.0" y="801.2" font-size="7.6" text-anchor="middle" fill="#333">6</text>
<text x="157.2" y="801.2" font-size="7.6" text-anchor="middle" fill="#333">8</text>
<text x="193.4" y="801.2" font-size="7.6" text-anchor="middle" fill="#333">10</text>
<text x="115.8" y="810.6" font-size="7.6" text-anchor="middle" textLength="27.5" lengthAdjust="spacingAndGlyphs" fill="#333">-log10(P)</text>
<line x1="358.6" y1="610.8" x2="358.6" y2="623.6" stroke="#666" stroke-width="0.6"/>
<defs><linearGradient id="lfc" x1="0" y1="0" x2="1" y2="0">
<stop offset="0" stop-color="#3f4fa6"/><stop offset="0.2" stop-color="#6470b8"/><stop offset="0.38" stop-color="#c8cae6"/><stop offset="0.5" stop-color="#ffffff"/>
<stop offset="0.62" stop-color="#f2c4c8"/><stop offset="0.8" stop-color="#ea6a70"/><stop offset="1" stop-color="#ee2020"/></linearGradient></defs>
<rect x="503.1" y="589.9" width="44.8" height="32.3" fill="url(#lfc)"/>
<line x1="503.1" y1="622.3" x2="547.9" y2="622.3" stroke="#111" stroke-width="0.8"/>
<path d="M508.0 622.3V626.4M516.8 622.3V626.4M525.7 622.3V626.4M534.5 622.3V626.4M543.4 622.3V626.4" stroke="#111" stroke-width="0.9"/>
<text x="507.7" y="633.6" font-size="8.0" text-anchor="middle" fill="#222">−4</text>
<text x="525.7" y="633.6" font-size="8.0" text-anchor="middle" fill="#222">0</text>
<text x="543.4" y="633.6" font-size="8.0" text-anchor="middle" fill="#222">4</text>
<text x="499.0" y="640.2" font-size="6.6" font-weight="bold" textLength="53.0" lengthAdjust="spacingAndGlyphs" fill="#222">Log2FoldChange</text>
<rect x="436.1" y="657.60" width="80.8" height="14.01" fill="#ee2b2e" shape-rendering="crispEdges"/>
<rect x="436.1" y="671.31" width="80.8" height="14.01" fill="#ea3b3f" shape-rendering="crispEdges"/>
<rect x="436.1" y="685.02" width="80.8" height="14.01" fill="#e96a72" shape-rendering="crispEdges"/>
<rect x="436.1" y="698.73" width="80.8" height="14.01" fill="#eb7e86" shape-rendering="crispEdges"/>
<rect x="436.1" y="712.44" width="80.8" height="14.01" fill="#ec8a91" shape-rendering="crispEdges"/>
<rect x="436.1" y="726.15" width="80.8" height="14.01" fill="#eea6ac" shape-rendering="crispEdges"/>
<rect x="436.1" y="739.86" width="80.8" height="14.01" fill="#f0bcc1" shape-rendering="crispEdges"/>
<rect x="436.1" y="753.57" width="80.8" height="14.01" fill="#f7e8eb" shape-rendering="crispEdges"/>
<rect x="436.1" y="767.28" width="80.8" height="14.01" fill="#f7e8eb" shape-rendering="crispEdges"/>
<text x="518.8" y="666.5" font-size="9.2" textLength="17.9" lengthAdjust="spacingAndGlyphs" fill="#222">IRF7</text>
<text x="518.8" y="680.9" font-size="9.2" textLength="17.0" lengthAdjust="spacingAndGlyphs" fill="#222">MX1</text>
<text x="518.8" y="695.3" font-size="9.2" textLength="17.0" lengthAdjust="spacingAndGlyphs" fill="#222">MX2</text>
<text x="518.8" y="707.8" font-size="9.2" textLength="24.5" lengthAdjust="spacingAndGlyphs" fill="#222">STAT1</text>
<text x="518.8" y="721.8" font-size="9.2" textLength="24.5" lengthAdjust="spacingAndGlyphs" fill="#222">STAT2</text>
<text x="518.8" y="735.7" font-size="9.2" textLength="17.9" lengthAdjust="spacingAndGlyphs" fill="#222">IRF9</text>
<text x="518.0" y="748.5" font-size="9.2" textLength="17.9" lengthAdjust="spacingAndGlyphs" fill="#222">IRF8</text>
<text x="518.0" y="762.9" font-size="9.2" textLength="24.5" lengthAdjust="spacingAndGlyphs" fill="#222">STAT3</text>
<text x="518.0" y="776.5" font-size="9.2" textLength="17.9" lengthAdjust="spacingAndGlyphs" fill="#222">IRF5</text>
<rect x="548.9" y="659.7" width="62.7" height="22.2" fill="#5b64b1" shape-rendering="crispEdges"/>
<rect x="548.9" y="681.6" width="62.7" height="44.3" fill="#d8daec" shape-rendering="crispEdges"/>
<rect x="548.9" y="725.6" width="62.7" height="22.4" fill="#e3e4f2" shape-rendering="crispEdges"/>
<rect x="548.9" y="747.7" width="62.7" height="21.3" fill="#ececf7" shape-rendering="crispEdges"/>
<text x="613.1" y="673.5" font-size="9.2" textLength="26.2" lengthAdjust="spacingAndGlyphs" fill="#222">BEST2</text>
<text x="613.9" y="694.9" font-size="9.2" textLength="26.2" lengthAdjust="spacingAndGlyphs" fill="#222">RPE65</text>
<text x="615.0" y="716.0" font-size="9.2" textLength="27.1" lengthAdjust="spacingAndGlyphs" fill="#222">RDH10</text>
<text x="615.3" y="737.7" font-size="9.2" textLength="18.4" lengthAdjust="spacingAndGlyphs" fill="#222">RGR</text>
<text x="615.3" y="764.2" font-size="9.2" textLength="66.3" lengthAdjust="spacingAndGlyphs" fill="#222">RLBP1/CRALBP1</text></svg></body></html>
